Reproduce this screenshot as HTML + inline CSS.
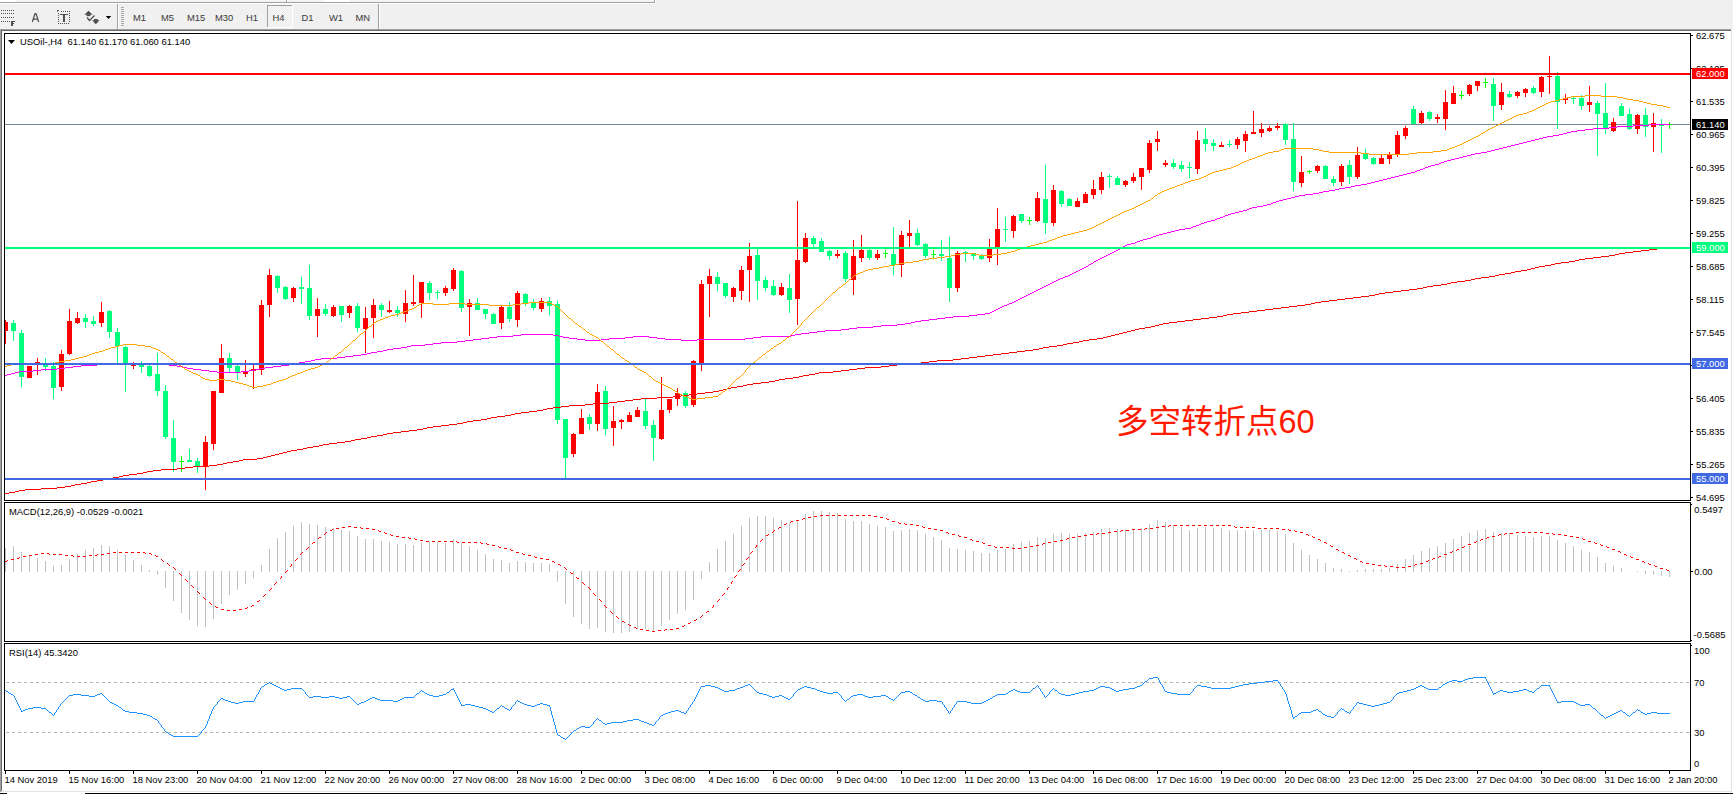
<!DOCTYPE html>
<html><head><meta charset="utf-8"><title>USOil H4</title><style>
html,body{margin:0;padding:0;background:#f0f0f0;width:1733px;height:794px;overflow:hidden}
svg{display:block}
text{font-family:"Liberation Sans",Arial,sans-serif;}
.t9{font-size:9.4px;fill:#000}
.tb{font-size:9.4px;fill:#383838}
.tw{font-size:9.4px;fill:#fff}
</style></head><body>
<svg width="1733" height="794" viewBox="0 0 1733 794" shape-rendering="crispEdges">
<rect x="0" y="0" width="1733" height="794" fill="#f0f0f0"/>
<rect x="0" y="0" width="655" height="2" fill="#f4f4f4"/>
<rect x="0" y="0" width="17" height="2" fill="#ffffff"/>
<rect x="324" y="0" width="26" height="2" fill="#ffffff"/>
<rect x="0" y="2" width="654" height="1" fill="#a0a0a0"/>
<rect x="0" y="3" width="655" height="1" fill="#ffffff"/>
<rect x="654" y="0" width="1" height="3" fill="#a0a0a0"/>
<rect x="655" y="0" width="1" height="4" fill="#ffffff"/>
<rect x="286" y="0" width="1" height="2" fill="#a0a0a0"/>
<rect x="287" y="0" width="1" height="2" fill="#ffffff"/>
<rect x="1" y="10" width="1" height="1" fill="#505050"/>
<rect x="3" y="10" width="1" height="1" fill="#505050"/>
<rect x="5" y="10" width="1" height="1" fill="#505050"/>
<rect x="7" y="10" width="1" height="1" fill="#505050"/>
<rect x="9" y="10" width="1" height="1" fill="#505050"/>
<rect x="11" y="10" width="1" height="1" fill="#505050"/>
<rect x="13" y="10" width="1" height="1" fill="#505050"/>
<rect x="1" y="13" width="1" height="1" fill="#505050"/>
<rect x="3" y="13" width="1" height="1" fill="#505050"/>
<rect x="5" y="13" width="1" height="1" fill="#505050"/>
<rect x="7" y="13" width="1" height="1" fill="#505050"/>
<rect x="9" y="13" width="1" height="1" fill="#505050"/>
<rect x="11" y="13" width="1" height="1" fill="#505050"/>
<rect x="13" y="13" width="1" height="1" fill="#505050"/>
<rect x="1" y="17" width="1" height="1" fill="#505050"/>
<rect x="3" y="17" width="1" height="1" fill="#505050"/>
<rect x="5" y="17" width="1" height="1" fill="#505050"/>
<rect x="7" y="17" width="1" height="1" fill="#505050"/>
<rect x="9" y="17" width="1" height="1" fill="#505050"/>
<rect x="11" y="17" width="1" height="1" fill="#505050"/>
<rect x="13" y="17" width="1" height="1" fill="#505050"/>
<rect x="1" y="21" width="1" height="1" fill="#505050"/>
<rect x="3" y="21" width="1" height="1" fill="#505050"/>
<rect x="5" y="21" width="1" height="1" fill="#505050"/>
<rect x="7" y="21" width="1" height="1" fill="#505050"/>
<rect x="9" y="21" width="1" height="1" fill="#505050"/>
<rect x="11" y="21" width="2" height="5" fill="#505050"/>
<rect x="13" y="21" width="2" height="1" fill="#505050"/>
<rect x="13" y="23" width="1" height="1" fill="#505050"/>
<path d="M32.3 22 L35 13.6 L36 13.6 L38.7 22 M33.6 19 L37.4 19" fill="none" stroke="#505050" stroke-width="1.25" shape-rendering="auto"/>
<rect x="57" y="10" width="2" height="1" fill="#606060"/>
<rect x="57" y="11" width="1" height="1" fill="#808080"/>
<rect x="61" y="11" width="1" height="1" fill="#505050"/>
<rect x="63" y="11" width="1" height="1" fill="#505050"/>
<rect x="65" y="11" width="1" height="1" fill="#505050"/>
<rect x="67" y="11" width="1" height="1" fill="#505050"/>
<rect x="69" y="11" width="1" height="1" fill="#505050"/>
<rect x="58" y="23" width="1" height="1" fill="#505050"/>
<rect x="60" y="23" width="1" height="1" fill="#505050"/>
<rect x="62" y="23" width="1" height="1" fill="#505050"/>
<rect x="64" y="23" width="1" height="1" fill="#505050"/>
<rect x="66" y="23" width="1" height="1" fill="#505050"/>
<rect x="68" y="23" width="1" height="1" fill="#505050"/>
<rect x="58" y="13" width="1" height="1" fill="#505050"/>
<rect x="69" y="11" width="1" height="1" fill="#505050"/>
<rect x="58" y="15" width="1" height="1" fill="#505050"/>
<rect x="69" y="13" width="1" height="1" fill="#505050"/>
<rect x="58" y="17" width="1" height="1" fill="#505050"/>
<rect x="69" y="15" width="1" height="1" fill="#505050"/>
<rect x="58" y="19" width="1" height="1" fill="#505050"/>
<rect x="69" y="17" width="1" height="1" fill="#505050"/>
<rect x="58" y="21" width="1" height="1" fill="#505050"/>
<rect x="69" y="19" width="1" height="1" fill="#505050"/>
<rect x="58" y="23" width="1" height="1" fill="#505050"/>
<rect x="69" y="21" width="1" height="1" fill="#505050"/>
<rect x="60" y="14" width="8" height="1" fill="#505050"/>
<rect x="63" y="14" width="2" height="8" fill="#505050"/>
<g shape-rendering="auto" fill="#4a4a4a">
<path d="M88.5 10.8 L92.6 14.8 L84.4 14.8 Z"/><rect x="86.6" y="14.5" width="3.8" height="1.6"/>
<path d="M92 20.3 L99.6 20.3 L95.8 24.2 Z"/><rect x="94" y="19" width="3.8" height="1.6"/>
<path d="M87 17.5 L89.5 20.5 L94.5 15.5" fill="none" stroke="#4a4a4a" stroke-width="1.2"/>
</g>
<path d="M105.8 16 L111.2 16 L108.5 19 Z" fill="#000" shape-rendering="auto"/>
<rect x="117" y="4" width="1" height="25" fill="#a0a0a0"/>
<rect x="118" y="4" width="1" height="25" fill="#ffffff"/>
<rect x="121" y="7" width="3" height="1" fill="#a8a8a8"/>
<rect x="121" y="9" width="3" height="1" fill="#a8a8a8"/>
<rect x="121" y="11" width="3" height="1" fill="#a8a8a8"/>
<rect x="121" y="13" width="3" height="1" fill="#a8a8a8"/>
<rect x="121" y="15" width="3" height="1" fill="#a8a8a8"/>
<rect x="121" y="17" width="3" height="1" fill="#a8a8a8"/>
<rect x="121" y="19" width="3" height="1" fill="#a8a8a8"/>
<rect x="121" y="21" width="3" height="1" fill="#a8a8a8"/>
<rect x="121" y="23" width="3" height="1" fill="#a8a8a8"/>
<rect x="121" y="25" width="3" height="1" fill="#a8a8a8"/>
<rect x="267" y="5" width="25" height="22" fill="#f8f8f8"/>
<pattern id="chk" width="2" height="2" patternUnits="userSpaceOnUse"><rect width="2" height="2" fill="#fbfbfb"/><rect width="1" height="1" fill="#e8e8e8"/><rect x="1" y="1" width="1" height="1" fill="#e8e8e8"/></pattern>
<rect x="268" y="6" width="24" height="21" fill="url(#chk)"/>
<rect x="267" y="5" width="25" height="1" fill="#a0a0a0"/>
<rect x="267" y="5" width="1" height="22" fill="#a0a0a0"/>
<rect x="267" y="27" width="25" height="1" fill="#ffffff"/>
<rect x="292" y="5" width="1" height="23" fill="#ffffff"/>
<text class="tb" transform="matrix(1 0 0 1.04 133 21.1)">M1</text>
<text class="tb" transform="matrix(1 0 0 1.04 161 21.1)">M5</text>
<text class="tb" transform="matrix(1 0 0 1.04 187 21.1)">M15</text>
<text class="tb" transform="matrix(1 0 0 1.04 215 21.1)">M30</text>
<text class="tb" transform="matrix(1 0 0 1.04 246 21.1)">H1</text>
<text class="tb" transform="matrix(1 0 0 1.04 272.5 21.1)">H4</text>
<text class="tb" transform="matrix(1 0 0 1.04 301.5 21.1)">D1</text>
<text class="tb" transform="matrix(1 0 0 1.04 329 21.1)">W1</text>
<text class="tb" transform="matrix(1 0 0 1.04 355.5 21.1)">MN</text>
<rect x="378" y="4" width="1" height="25" fill="#a0a0a0"/>
<rect x="379" y="4" width="1" height="25" fill="#ffffff"/>
<rect x="0" y="29" width="1732" height="1" fill="#a0a0a0"/>
<rect x="1" y="30" width="1730" height="1" fill="#696969"/>
<rect x="0" y="29" width="1" height="763" fill="#a0a0a0"/>
<rect x="1" y="30" width="1" height="761" fill="#696969"/>
<rect x="2" y="31" width="1729" height="760" fill="#ffffff"/>
<rect x="1731" y="29" width="1" height="763" fill="#e3e3e3"/>
<rect x="1732" y="29" width="1" height="764" fill="#ffffff"/>
<rect x="1" y="791" width="1731" height="1" fill="#e3e3e3"/>
<rect x="0" y="792" width="1733" height="1" fill="#ffffff"/>
<rect x="0" y="793" width="1733" height="1" fill="#000000"/>
<rect x="7" y="793" width="78" height="1" fill="#ffffff"/>
<rect x="4" y="33" width="1687" height="1" fill="#000"/>
<rect x="4" y="500" width="1687" height="1" fill="#000"/>
<rect x="4" y="33" width="1" height="468" fill="#000"/>
<rect x="1690" y="33" width="1" height="468" fill="#000"/>
<rect x="4" y="502" width="1687" height="1" fill="#000"/>
<rect x="4" y="641" width="1687" height="1" fill="#000"/>
<rect x="4" y="502" width="1" height="140" fill="#000"/>
<rect x="1690" y="502" width="1" height="140" fill="#000"/>
<rect x="4" y="643" width="1687" height="1" fill="#000"/>
<rect x="4" y="770" width="1687" height="1" fill="#000"/>
<rect x="4" y="643" width="1" height="128" fill="#000"/>
<rect x="1690" y="643" width="1" height="128" fill="#000"/>
<defs><clipPath id="cm"><rect x="5" y="34" width="1685" height="466"/></clipPath>
<clipPath id="cmacd"><rect x="5" y="503" width="1685" height="138"/></clipPath>
<clipPath id="crsi"><rect x="5" y="644" width="1685" height="126"/></clipPath></defs>
<g clip-path="url(#cm)">
<rect x="5" y="124" width="1685" height="1" fill="#778899"/>
<rect x="5" y="320" width="1" height="24" fill="#ff0000"/>
<rect x="3" y="322" width="5" height="9" fill="#ff0000"/>
<rect x="13" y="320" width="1" height="21" fill="#00ff7f"/>
<rect x="11" y="323" width="5" height="8" fill="#00ff7f"/>
<rect x="21" y="330" width="1" height="57" fill="#00ff7f"/>
<rect x="19" y="333" width="5" height="44" fill="#00ff7f"/>
<rect x="29" y="366" width="1" height="12" fill="#ff0000"/>
<rect x="27" y="366" width="5" height="12" fill="#ff0000"/>
<rect x="37" y="358" width="1" height="17" fill="#ff0000"/>
<rect x="35" y="362" width="5" height="3" fill="#ff0000"/>
<rect x="45" y="358" width="1" height="13" fill="#00ff7f"/>
<rect x="43" y="364" width="5" height="3" fill="#00ff7f"/>
<rect x="53" y="362" width="1" height="37" fill="#00ff7f"/>
<rect x="51" y="366" width="5" height="22" fill="#00ff7f"/>
<rect x="61" y="350" width="1" height="41" fill="#ff0000"/>
<rect x="59" y="354" width="5" height="33" fill="#ff0000"/>
<rect x="69" y="309" width="1" height="46" fill="#ff0000"/>
<rect x="67" y="321" width="5" height="33" fill="#ff0000"/>
<rect x="77" y="312" width="1" height="12" fill="#ff0000"/>
<rect x="75" y="318" width="5" height="5" fill="#ff0000"/>
<rect x="85" y="314" width="1" height="14" fill="#00ff7f"/>
<rect x="83" y="318" width="5" height="4" fill="#00ff7f"/>
<rect x="93" y="316" width="1" height="10" fill="#00ff7f"/>
<rect x="91" y="321" width="5" height="3" fill="#00ff7f"/>
<rect x="101" y="302" width="1" height="25" fill="#ff0000"/>
<rect x="99" y="312" width="5" height="11" fill="#ff0000"/>
<rect x="109" y="310" width="1" height="28" fill="#00ff7f"/>
<rect x="107" y="311" width="5" height="21" fill="#00ff7f"/>
<rect x="117" y="328" width="1" height="35" fill="#00ff7f"/>
<rect x="115" y="332" width="5" height="14" fill="#00ff7f"/>
<rect x="125" y="346" width="1" height="46" fill="#00ff7f"/>
<rect x="123" y="347" width="5" height="17" fill="#00ff7f"/>
<rect x="133" y="362" width="1" height="7" fill="#ff0000"/>
<rect x="131" y="364" width="5" height="2" fill="#ff0000"/>
<rect x="141" y="361" width="1" height="12" fill="#00ff7f"/>
<rect x="139" y="364" width="5" height="3" fill="#00ff7f"/>
<rect x="149" y="365" width="1" height="12" fill="#00ff7f"/>
<rect x="147" y="366" width="5" height="10" fill="#00ff7f"/>
<rect x="157" y="353" width="1" height="43" fill="#00ff7f"/>
<rect x="155" y="374" width="5" height="17" fill="#00ff7f"/>
<rect x="165" y="385" width="1" height="54" fill="#00ff7f"/>
<rect x="163" y="391" width="5" height="46" fill="#00ff7f"/>
<rect x="173" y="420" width="1" height="52" fill="#00ff7f"/>
<rect x="171" y="438" width="5" height="24" fill="#00ff7f"/>
<rect x="181" y="456" width="1" height="16" fill="#00ff00"/>
<rect x="179" y="461" width="5" height="1" fill="#00ff00"/>
<rect x="189" y="449" width="1" height="13" fill="#00ff7f"/>
<rect x="187" y="460" width="5" height="2" fill="#00ff7f"/>
<rect x="197" y="458" width="1" height="15" fill="#00ff7f"/>
<rect x="195" y="461" width="5" height="5" fill="#00ff7f"/>
<rect x="205" y="436" width="1" height="54" fill="#ff0000"/>
<rect x="203" y="442" width="5" height="24" fill="#ff0000"/>
<rect x="213" y="391" width="1" height="59" fill="#ff0000"/>
<rect x="211" y="391" width="5" height="53" fill="#ff0000"/>
<rect x="221" y="344" width="1" height="49" fill="#ff0000"/>
<rect x="219" y="358" width="5" height="35" fill="#ff0000"/>
<rect x="229" y="353" width="1" height="20" fill="#00ff7f"/>
<rect x="227" y="358" width="5" height="10" fill="#00ff7f"/>
<rect x="237" y="364" width="1" height="16" fill="#00ff7f"/>
<rect x="235" y="366" width="5" height="7" fill="#00ff7f"/>
<rect x="245" y="360" width="1" height="17" fill="#ff0000"/>
<rect x="243" y="371" width="5" height="3" fill="#ff0000"/>
<rect x="253" y="365" width="1" height="24" fill="#ff0000"/>
<rect x="251" y="369" width="5" height="2" fill="#ff0000"/>
<rect x="261" y="300" width="1" height="75" fill="#ff0000"/>
<rect x="259" y="305" width="5" height="65" fill="#ff0000"/>
<rect x="269" y="269" width="1" height="48" fill="#ff0000"/>
<rect x="267" y="275" width="5" height="30" fill="#ff0000"/>
<rect x="277" y="275" width="1" height="18" fill="#00ff7f"/>
<rect x="275" y="276" width="5" height="12" fill="#00ff7f"/>
<rect x="285" y="286" width="1" height="14" fill="#00ff7f"/>
<rect x="283" y="287" width="5" height="12" fill="#00ff7f"/>
<rect x="293" y="287" width="1" height="15" fill="#ff0000"/>
<rect x="291" y="288" width="5" height="10" fill="#ff0000"/>
<rect x="301" y="277" width="1" height="27" fill="#00ff7f"/>
<rect x="299" y="287" width="5" height="2" fill="#00ff7f"/>
<rect x="309" y="265" width="1" height="55" fill="#00ff7f"/>
<rect x="307" y="288" width="5" height="28" fill="#00ff7f"/>
<rect x="317" y="298" width="1" height="39" fill="#ff0000"/>
<rect x="315" y="309" width="5" height="7" fill="#ff0000"/>
<rect x="325" y="304" width="1" height="12" fill="#00ff7f"/>
<rect x="323" y="309" width="5" height="5" fill="#00ff7f"/>
<rect x="333" y="305" width="1" height="12" fill="#ff0000"/>
<rect x="331" y="307" width="5" height="9" fill="#ff0000"/>
<rect x="341" y="306" width="1" height="16" fill="#00ff7f"/>
<rect x="339" y="306" width="5" height="9" fill="#00ff7f"/>
<rect x="349" y="305" width="1" height="13" fill="#ff0000"/>
<rect x="347" y="306" width="5" height="7" fill="#ff0000"/>
<rect x="357" y="303" width="1" height="29" fill="#00ff7f"/>
<rect x="355" y="306" width="5" height="22" fill="#00ff7f"/>
<rect x="365" y="307" width="1" height="46" fill="#ff0000"/>
<rect x="363" y="318" width="5" height="11" fill="#ff0000"/>
<rect x="373" y="299" width="1" height="39" fill="#ff0000"/>
<rect x="371" y="305" width="5" height="13" fill="#ff0000"/>
<rect x="381" y="303" width="1" height="14" fill="#00ff7f"/>
<rect x="379" y="305" width="5" height="5" fill="#00ff7f"/>
<rect x="389" y="301" width="1" height="12" fill="#ff0000"/>
<rect x="387" y="310" width="5" height="2" fill="#ff0000"/>
<rect x="397" y="306" width="1" height="11" fill="#00ff7f"/>
<rect x="395" y="310" width="5" height="3" fill="#00ff7f"/>
<rect x="405" y="290" width="1" height="32" fill="#ff0000"/>
<rect x="403" y="303" width="5" height="11" fill="#ff0000"/>
<rect x="413" y="275" width="1" height="31" fill="#ff0000"/>
<rect x="411" y="302" width="5" height="2" fill="#ff0000"/>
<rect x="421" y="282" width="1" height="36" fill="#ff0000"/>
<rect x="419" y="282" width="5" height="21" fill="#ff0000"/>
<rect x="429" y="281" width="1" height="19" fill="#00ff7f"/>
<rect x="427" y="283" width="5" height="10" fill="#00ff7f"/>
<rect x="437" y="290" width="1" height="9" fill="#00ff7f"/>
<rect x="435" y="292" width="5" height="1" fill="#00ff7f"/>
<rect x="445" y="286" width="1" height="10" fill="#ff0000"/>
<rect x="443" y="288" width="5" height="5" fill="#ff0000"/>
<rect x="453" y="268" width="1" height="23" fill="#ff0000"/>
<rect x="451" y="270" width="5" height="19" fill="#ff0000"/>
<rect x="461" y="270" width="1" height="42" fill="#00ff7f"/>
<rect x="459" y="271" width="5" height="37" fill="#00ff7f"/>
<rect x="469" y="299" width="1" height="37" fill="#ff0000"/>
<rect x="467" y="303" width="5" height="4" fill="#ff0000"/>
<rect x="477" y="298" width="1" height="12" fill="#00ff7f"/>
<rect x="475" y="303" width="5" height="7" fill="#00ff7f"/>
<rect x="485" y="309" width="1" height="10" fill="#00ff7f"/>
<rect x="483" y="309" width="5" height="5" fill="#00ff7f"/>
<rect x="493" y="313" width="1" height="11" fill="#00ff7f"/>
<rect x="491" y="314" width="5" height="10" fill="#00ff7f"/>
<rect x="501" y="306" width="1" height="23" fill="#ff0000"/>
<rect x="499" y="307" width="5" height="16" fill="#ff0000"/>
<rect x="509" y="302" width="1" height="20" fill="#00ff7f"/>
<rect x="507" y="307" width="5" height="12" fill="#00ff7f"/>
<rect x="517" y="291" width="1" height="36" fill="#ff0000"/>
<rect x="515" y="293" width="5" height="27" fill="#ff0000"/>
<rect x="525" y="293" width="1" height="13" fill="#00ff7f"/>
<rect x="523" y="294" width="5" height="9" fill="#00ff7f"/>
<rect x="533" y="299" width="1" height="11" fill="#00ff7f"/>
<rect x="531" y="302" width="5" height="6" fill="#00ff7f"/>
<rect x="541" y="298" width="1" height="14" fill="#ff0000"/>
<rect x="539" y="301" width="5" height="8" fill="#ff0000"/>
<rect x="549" y="297" width="1" height="18" fill="#00ff7f"/>
<rect x="547" y="301" width="5" height="5" fill="#00ff7f"/>
<rect x="557" y="301" width="1" height="123" fill="#00ff7f"/>
<rect x="555" y="304" width="5" height="116" fill="#00ff7f"/>
<rect x="565" y="419" width="1" height="59" fill="#00ff7f"/>
<rect x="563" y="419" width="5" height="39" fill="#00ff7f"/>
<rect x="573" y="433" width="1" height="24" fill="#ff0000"/>
<rect x="571" y="434" width="5" height="20" fill="#ff0000"/>
<rect x="581" y="409" width="1" height="25" fill="#ff0000"/>
<rect x="579" y="418" width="5" height="16" fill="#ff0000"/>
<rect x="589" y="414" width="1" height="16" fill="#00ff7f"/>
<rect x="587" y="417" width="5" height="7" fill="#00ff7f"/>
<rect x="597" y="384" width="1" height="47" fill="#ff0000"/>
<rect x="595" y="392" width="5" height="32" fill="#ff0000"/>
<rect x="605" y="386" width="1" height="49" fill="#00ff7f"/>
<rect x="603" y="391" width="5" height="38" fill="#00ff7f"/>
<rect x="613" y="406" width="1" height="40" fill="#ff0000"/>
<rect x="611" y="421" width="5" height="7" fill="#ff0000"/>
<rect x="621" y="419" width="1" height="10" fill="#ff0000"/>
<rect x="619" y="420" width="5" height="2" fill="#ff0000"/>
<rect x="629" y="412" width="1" height="10" fill="#ff0000"/>
<rect x="627" y="415" width="5" height="7" fill="#ff0000"/>
<rect x="637" y="407" width="1" height="10" fill="#ff0000"/>
<rect x="635" y="410" width="5" height="7" fill="#ff0000"/>
<rect x="645" y="398" width="1" height="31" fill="#00ff7f"/>
<rect x="643" y="411" width="5" height="15" fill="#00ff7f"/>
<rect x="653" y="420" width="1" height="41" fill="#00ff7f"/>
<rect x="651" y="425" width="5" height="13" fill="#00ff7f"/>
<rect x="661" y="377" width="1" height="63" fill="#ff0000"/>
<rect x="659" y="410" width="5" height="29" fill="#ff0000"/>
<rect x="669" y="399" width="1" height="14" fill="#ff0000"/>
<rect x="667" y="399" width="5" height="11" fill="#ff0000"/>
<rect x="677" y="388" width="1" height="18" fill="#ff0000"/>
<rect x="675" y="393" width="5" height="6" fill="#ff0000"/>
<rect x="685" y="391" width="1" height="17" fill="#00ff7f"/>
<rect x="683" y="393" width="5" height="13" fill="#00ff7f"/>
<rect x="693" y="360" width="1" height="47" fill="#ff0000"/>
<rect x="691" y="361" width="5" height="44" fill="#ff0000"/>
<rect x="701" y="280" width="1" height="91" fill="#ff0000"/>
<rect x="699" y="284" width="5" height="79" fill="#ff0000"/>
<rect x="709" y="269" width="1" height="48" fill="#ff0000"/>
<rect x="707" y="276" width="5" height="8" fill="#ff0000"/>
<rect x="717" y="272" width="1" height="19" fill="#00ff7f"/>
<rect x="715" y="277" width="5" height="7" fill="#00ff7f"/>
<rect x="725" y="283" width="1" height="15" fill="#00ff7f"/>
<rect x="723" y="283" width="5" height="13" fill="#00ff7f"/>
<rect x="733" y="287" width="1" height="15" fill="#ff0000"/>
<rect x="731" y="288" width="5" height="9" fill="#ff0000"/>
<rect x="741" y="266" width="1" height="34" fill="#ff0000"/>
<rect x="739" y="270" width="5" height="21" fill="#ff0000"/>
<rect x="749" y="243" width="1" height="59" fill="#ff0000"/>
<rect x="747" y="256" width="5" height="14" fill="#ff0000"/>
<rect x="757" y="249" width="1" height="51" fill="#00ff7f"/>
<rect x="755" y="255" width="5" height="26" fill="#00ff7f"/>
<rect x="765" y="277" width="1" height="14" fill="#00ff7f"/>
<rect x="763" y="280" width="5" height="8" fill="#00ff7f"/>
<rect x="773" y="280" width="1" height="16" fill="#00ff7f"/>
<rect x="771" y="286" width="5" height="9" fill="#00ff7f"/>
<rect x="781" y="283" width="1" height="13" fill="#ff0000"/>
<rect x="779" y="287" width="5" height="8" fill="#ff0000"/>
<rect x="789" y="274" width="1" height="39" fill="#00ff7f"/>
<rect x="787" y="288" width="5" height="12" fill="#00ff7f"/>
<rect x="797" y="201" width="1" height="124" fill="#ff0000"/>
<rect x="795" y="260" width="5" height="39" fill="#ff0000"/>
<rect x="805" y="233" width="1" height="30" fill="#ff0000"/>
<rect x="803" y="238" width="5" height="24" fill="#ff0000"/>
<rect x="813" y="236" width="1" height="13" fill="#00ff7f"/>
<rect x="811" y="238" width="5" height="6" fill="#00ff7f"/>
<rect x="821" y="238" width="1" height="14" fill="#00ff7f"/>
<rect x="819" y="241" width="5" height="11" fill="#00ff7f"/>
<rect x="829" y="250" width="1" height="10" fill="#00ff7f"/>
<rect x="827" y="251" width="5" height="5" fill="#00ff7f"/>
<rect x="837" y="250" width="1" height="8" fill="#ff0000"/>
<rect x="835" y="254" width="5" height="2" fill="#ff0000"/>
<rect x="845" y="251" width="1" height="31" fill="#00ff7f"/>
<rect x="843" y="253" width="5" height="26" fill="#00ff7f"/>
<rect x="853" y="240" width="1" height="55" fill="#ff0000"/>
<rect x="851" y="256" width="5" height="24" fill="#ff0000"/>
<rect x="861" y="235" width="1" height="27" fill="#ff0000"/>
<rect x="859" y="250" width="5" height="8" fill="#ff0000"/>
<rect x="869" y="249" width="1" height="11" fill="#00ff7f"/>
<rect x="867" y="250" width="5" height="8" fill="#00ff7f"/>
<rect x="877" y="250" width="1" height="10" fill="#ff0000"/>
<rect x="875" y="254" width="5" height="4" fill="#ff0000"/>
<rect x="885" y="250" width="1" height="8" fill="#00ff00"/>
<rect x="883" y="253" width="5" height="1" fill="#00ff00"/>
<rect x="893" y="227" width="1" height="48" fill="#00ff7f"/>
<rect x="891" y="254" width="5" height="11" fill="#00ff7f"/>
<rect x="901" y="231" width="1" height="46" fill="#ff0000"/>
<rect x="899" y="235" width="5" height="30" fill="#ff0000"/>
<rect x="909" y="220" width="1" height="27" fill="#ff0000"/>
<rect x="907" y="233" width="5" height="3" fill="#ff0000"/>
<rect x="917" y="229" width="1" height="17" fill="#00ff7f"/>
<rect x="915" y="233" width="5" height="12" fill="#00ff7f"/>
<rect x="925" y="243" width="1" height="15" fill="#00ff7f"/>
<rect x="923" y="244" width="5" height="12" fill="#00ff7f"/>
<rect x="933" y="250" width="1" height="8" fill="#00ff00"/>
<rect x="931" y="254" width="5" height="1" fill="#00ff00"/>
<rect x="941" y="240" width="1" height="21" fill="#00ff7f"/>
<rect x="939" y="254" width="5" height="2" fill="#00ff7f"/>
<rect x="949" y="237" width="1" height="65" fill="#00ff7f"/>
<rect x="947" y="258" width="5" height="30" fill="#00ff7f"/>
<rect x="957" y="251" width="1" height="41" fill="#ff0000"/>
<rect x="955" y="253" width="5" height="35" fill="#ff0000"/>
<rect x="965" y="251" width="1" height="11" fill="#00ff7f"/>
<rect x="963" y="252" width="5" height="1" fill="#00ff7f"/>
<rect x="973" y="253" width="1" height="7" fill="#00ff7f"/>
<rect x="971" y="253" width="5" height="3" fill="#00ff7f"/>
<rect x="981" y="254" width="1" height="6" fill="#00ff7f"/>
<rect x="979" y="256" width="5" height="3" fill="#00ff7f"/>
<rect x="989" y="239" width="1" height="23" fill="#ff0000"/>
<rect x="987" y="249" width="5" height="9" fill="#ff0000"/>
<rect x="997" y="208" width="1" height="57" fill="#ff0000"/>
<rect x="995" y="229" width="5" height="18" fill="#ff0000"/>
<rect x="1005" y="217" width="1" height="25" fill="#00ff7f"/>
<rect x="1003" y="229" width="5" height="1" fill="#00ff7f"/>
<rect x="1013" y="215" width="1" height="23" fill="#ff0000"/>
<rect x="1011" y="216" width="5" height="15" fill="#ff0000"/>
<rect x="1021" y="214" width="1" height="9" fill="#00ff7f"/>
<rect x="1019" y="214" width="5" height="7" fill="#00ff7f"/>
<rect x="1029" y="217" width="1" height="8" fill="#00ff00"/>
<rect x="1027" y="220" width="5" height="1" fill="#00ff00"/>
<rect x="1037" y="192" width="1" height="30" fill="#ff0000"/>
<rect x="1035" y="198" width="5" height="23" fill="#ff0000"/>
<rect x="1045" y="165" width="1" height="69" fill="#00ff7f"/>
<rect x="1043" y="199" width="5" height="24" fill="#00ff7f"/>
<rect x="1053" y="185" width="1" height="41" fill="#ff0000"/>
<rect x="1051" y="190" width="5" height="33" fill="#ff0000"/>
<rect x="1061" y="190" width="1" height="17" fill="#00ff7f"/>
<rect x="1059" y="191" width="5" height="13" fill="#00ff7f"/>
<rect x="1069" y="198" width="1" height="8" fill="#00ff7f"/>
<rect x="1067" y="199" width="5" height="7" fill="#00ff7f"/>
<rect x="1077" y="198" width="1" height="9" fill="#ff0000"/>
<rect x="1075" y="201" width="5" height="6" fill="#ff0000"/>
<rect x="1085" y="192" width="1" height="11" fill="#ff0000"/>
<rect x="1083" y="194" width="5" height="9" fill="#ff0000"/>
<rect x="1093" y="180" width="1" height="19" fill="#ff0000"/>
<rect x="1091" y="189" width="5" height="6" fill="#ff0000"/>
<rect x="1101" y="172" width="1" height="22" fill="#ff0000"/>
<rect x="1099" y="177" width="5" height="13" fill="#ff0000"/>
<rect x="1109" y="174" width="1" height="14" fill="#00ff7f"/>
<rect x="1107" y="176" width="5" height="1" fill="#00ff7f"/>
<rect x="1117" y="176" width="1" height="9" fill="#00ff7f"/>
<rect x="1115" y="178" width="5" height="7" fill="#00ff7f"/>
<rect x="1125" y="180" width="1" height="7" fill="#ff0000"/>
<rect x="1123" y="181" width="5" height="4" fill="#ff0000"/>
<rect x="1133" y="173" width="1" height="10" fill="#ff0000"/>
<rect x="1131" y="177" width="5" height="4" fill="#ff0000"/>
<rect x="1141" y="168" width="1" height="22" fill="#ff0000"/>
<rect x="1139" y="168" width="5" height="9" fill="#ff0000"/>
<rect x="1149" y="140" width="1" height="33" fill="#ff0000"/>
<rect x="1147" y="143" width="5" height="27" fill="#ff0000"/>
<rect x="1157" y="131" width="1" height="20" fill="#ff0000"/>
<rect x="1155" y="139" width="5" height="3" fill="#ff0000"/>
<rect x="1165" y="160" width="1" height="7" fill="#ff0000"/>
<rect x="1163" y="163" width="5" height="2" fill="#ff0000"/>
<rect x="1173" y="159" width="1" height="10" fill="#00ff7f"/>
<rect x="1171" y="163" width="5" height="4" fill="#00ff7f"/>
<rect x="1181" y="161" width="1" height="11" fill="#00ff7f"/>
<rect x="1179" y="165" width="5" height="4" fill="#00ff7f"/>
<rect x="1189" y="162" width="1" height="16" fill="#00ff7f"/>
<rect x="1187" y="167" width="5" height="1" fill="#00ff7f"/>
<rect x="1197" y="131" width="1" height="43" fill="#ff0000"/>
<rect x="1195" y="140" width="5" height="29" fill="#ff0000"/>
<rect x="1205" y="128" width="1" height="23" fill="#00ff7f"/>
<rect x="1203" y="139" width="5" height="5" fill="#00ff7f"/>
<rect x="1213" y="139" width="1" height="12" fill="#00ff7f"/>
<rect x="1211" y="143" width="5" height="3" fill="#00ff7f"/>
<rect x="1221" y="142" width="1" height="5" fill="#ff0000"/>
<rect x="1219" y="145" width="5" height="2" fill="#ff0000"/>
<rect x="1229" y="140" width="1" height="7" fill="#00ff7f"/>
<rect x="1227" y="144" width="5" height="1" fill="#00ff7f"/>
<rect x="1237" y="137" width="1" height="12" fill="#ff0000"/>
<rect x="1235" y="139" width="5" height="6" fill="#ff0000"/>
<rect x="1245" y="131" width="1" height="21" fill="#ff0000"/>
<rect x="1243" y="134" width="5" height="7" fill="#ff0000"/>
<rect x="1253" y="111" width="1" height="23" fill="#ff0000"/>
<rect x="1251" y="132" width="5" height="2" fill="#ff0000"/>
<rect x="1261" y="123" width="1" height="14" fill="#ff0000"/>
<rect x="1259" y="129" width="5" height="4" fill="#ff0000"/>
<rect x="1269" y="126" width="1" height="6" fill="#ff0000"/>
<rect x="1267" y="128" width="5" height="3" fill="#ff0000"/>
<rect x="1277" y="123" width="1" height="7" fill="#ff0000"/>
<rect x="1275" y="126" width="5" height="2" fill="#ff0000"/>
<rect x="1285" y="123" width="1" height="22" fill="#00ff7f"/>
<rect x="1283" y="124" width="5" height="16" fill="#00ff7f"/>
<rect x="1293" y="123" width="1" height="68" fill="#00ff7f"/>
<rect x="1291" y="139" width="5" height="43" fill="#00ff7f"/>
<rect x="1301" y="156" width="1" height="31" fill="#ff0000"/>
<rect x="1299" y="172" width="5" height="11" fill="#ff0000"/>
<rect x="1309" y="170" width="1" height="4" fill="#00ff00"/>
<rect x="1307" y="171" width="5" height="1" fill="#00ff00"/>
<rect x="1317" y="165" width="1" height="8" fill="#ff0000"/>
<rect x="1315" y="166" width="5" height="5" fill="#ff0000"/>
<rect x="1325" y="165" width="1" height="14" fill="#00ff7f"/>
<rect x="1323" y="166" width="5" height="13" fill="#00ff7f"/>
<rect x="1333" y="176" width="1" height="10" fill="#00ff7f"/>
<rect x="1331" y="179" width="5" height="4" fill="#00ff7f"/>
<rect x="1341" y="164" width="1" height="22" fill="#ff0000"/>
<rect x="1339" y="166" width="5" height="16" fill="#ff0000"/>
<rect x="1349" y="160" width="1" height="24" fill="#00ff7f"/>
<rect x="1347" y="165" width="5" height="12" fill="#00ff7f"/>
<rect x="1357" y="147" width="1" height="32" fill="#ff0000"/>
<rect x="1355" y="155" width="5" height="22" fill="#ff0000"/>
<rect x="1365" y="149" width="1" height="11" fill="#00ff7f"/>
<rect x="1363" y="153" width="5" height="6" fill="#00ff7f"/>
<rect x="1373" y="157" width="1" height="8" fill="#00ff7f"/>
<rect x="1371" y="158" width="5" height="6" fill="#00ff7f"/>
<rect x="1381" y="155" width="1" height="9" fill="#ff0000"/>
<rect x="1379" y="158" width="5" height="6" fill="#ff0000"/>
<rect x="1389" y="152" width="1" height="12" fill="#ff0000"/>
<rect x="1387" y="154" width="5" height="5" fill="#ff0000"/>
<rect x="1397" y="131" width="1" height="26" fill="#ff0000"/>
<rect x="1395" y="135" width="5" height="19" fill="#ff0000"/>
<rect x="1405" y="126" width="1" height="13" fill="#ff0000"/>
<rect x="1403" y="128" width="5" height="8" fill="#ff0000"/>
<rect x="1413" y="106" width="1" height="18" fill="#00ff7f"/>
<rect x="1411" y="109" width="5" height="15" fill="#00ff7f"/>
<rect x="1421" y="111" width="1" height="13" fill="#ff0000"/>
<rect x="1419" y="113" width="5" height="10" fill="#ff0000"/>
<rect x="1429" y="111" width="1" height="10" fill="#00ff7f"/>
<rect x="1427" y="112" width="5" height="7" fill="#00ff7f"/>
<rect x="1437" y="114" width="1" height="9" fill="#ff0000"/>
<rect x="1435" y="117" width="5" height="2" fill="#ff0000"/>
<rect x="1445" y="90" width="1" height="40" fill="#ff0000"/>
<rect x="1443" y="102" width="5" height="17" fill="#ff0000"/>
<rect x="1453" y="86" width="1" height="18" fill="#ff0000"/>
<rect x="1451" y="93" width="5" height="11" fill="#ff0000"/>
<rect x="1461" y="91" width="1" height="8" fill="#00ff00"/>
<rect x="1459" y="95" width="5" height="1" fill="#00ff00"/>
<rect x="1469" y="84" width="1" height="12" fill="#ff0000"/>
<rect x="1467" y="85" width="5" height="9" fill="#ff0000"/>
<rect x="1477" y="81" width="1" height="10" fill="#ff0000"/>
<rect x="1475" y="81" width="5" height="5" fill="#ff0000"/>
<rect x="1485" y="78" width="1" height="10" fill="#00ff00"/>
<rect x="1483" y="82" width="5" height="1" fill="#00ff00"/>
<rect x="1493" y="78" width="1" height="43" fill="#00ff7f"/>
<rect x="1491" y="84" width="5" height="22" fill="#00ff7f"/>
<rect x="1501" y="83" width="1" height="27" fill="#ff0000"/>
<rect x="1499" y="92" width="5" height="13" fill="#ff0000"/>
<rect x="1509" y="91" width="1" height="7" fill="#00ff7f"/>
<rect x="1507" y="94" width="5" height="3" fill="#00ff7f"/>
<rect x="1517" y="91" width="1" height="7" fill="#ff0000"/>
<rect x="1515" y="92" width="5" height="4" fill="#ff0000"/>
<rect x="1525" y="88" width="1" height="9" fill="#ff0000"/>
<rect x="1523" y="89" width="5" height="4" fill="#ff0000"/>
<rect x="1533" y="86" width="1" height="8" fill="#00ff7f"/>
<rect x="1531" y="88" width="5" height="5" fill="#00ff7f"/>
<rect x="1541" y="76" width="1" height="21" fill="#ff0000"/>
<rect x="1539" y="77" width="5" height="15" fill="#ff0000"/>
<rect x="1549" y="56" width="1" height="38" fill="#ff0000"/>
<rect x="1547" y="76" width="5" height="1" fill="#ff0000"/>
<rect x="1557" y="72" width="1" height="57" fill="#00ff7f"/>
<rect x="1555" y="76" width="5" height="26" fill="#00ff7f"/>
<rect x="1565" y="94" width="1" height="10" fill="#ff0000"/>
<rect x="1563" y="98" width="5" height="2" fill="#ff0000"/>
<rect x="1573" y="97" width="1" height="7" fill="#00ff7f"/>
<rect x="1571" y="98" width="5" height="1" fill="#00ff7f"/>
<rect x="1581" y="95" width="1" height="15" fill="#00ff7f"/>
<rect x="1579" y="98" width="5" height="8" fill="#00ff7f"/>
<rect x="1589" y="86" width="1" height="26" fill="#ff0000"/>
<rect x="1587" y="102" width="5" height="3" fill="#ff0000"/>
<rect x="1597" y="101" width="1" height="55" fill="#00ff7f"/>
<rect x="1595" y="103" width="5" height="11" fill="#00ff7f"/>
<rect x="1605" y="83" width="1" height="51" fill="#00ff7f"/>
<rect x="1603" y="113" width="5" height="16" fill="#00ff7f"/>
<rect x="1613" y="118" width="1" height="14" fill="#ff0000"/>
<rect x="1611" y="122" width="5" height="9" fill="#ff0000"/>
<rect x="1621" y="103" width="1" height="13" fill="#00ff7f"/>
<rect x="1619" y="106" width="5" height="10" fill="#00ff7f"/>
<rect x="1629" y="109" width="1" height="21" fill="#00ff7f"/>
<rect x="1627" y="114" width="5" height="15" fill="#00ff7f"/>
<rect x="1637" y="114" width="1" height="20" fill="#ff0000"/>
<rect x="1635" y="115" width="5" height="14" fill="#ff0000"/>
<rect x="1645" y="108" width="1" height="29" fill="#00ff7f"/>
<rect x="1643" y="115" width="5" height="12" fill="#00ff7f"/>
<rect x="1653" y="113" width="1" height="39" fill="#ff0000"/>
<rect x="1651" y="123" width="5" height="4" fill="#ff0000"/>
<rect x="1661" y="119" width="1" height="34" fill="#00ff7f"/>
<rect x="1659" y="125" width="5" height="1" fill="#00ff7f"/>
<rect x="1669" y="122" width="1" height="7" fill="#00ff00"/>
<rect x="1667" y="124" width="5" height="1" fill="#00ff00"/>
<path d="M1665 247h5v1h-5zM1657 248h8v1h-8zM1649 249h8v1h-8zM1641 250h8v1h-8zM1633 251h8v1h-8zM1625 252h8v1h-8zM1619 253h6v1h-6zM1615 254h4v1h-4zM1609 255h6v1h-6zM1601 256h8v1h-8zM1593 257h8v1h-8zM1585 258h8v1h-8zM1579 259h6v1h-6zM1575 260h4v1h-4zM1569 261h6v1h-6zM1561 262h8v1h-8zM1555 263h6v1h-6zM1551 264h4v1h-4zM1545 265h6v1h-6zM1539 266h6v1h-6zM1535 267h4v1h-4zM1531 268h4v1h-4zM1527 269h4v1h-4zM1521 270h6v1h-6zM1515 271h6v1h-6zM1511 272h4v1h-4zM1505 273h6v1h-6zM1499 274h6v1h-6zM1495 275h4v1h-4zM1489 276h6v1h-6zM1481 277h8v1h-8zM1475 278h6v1h-6zM1471 279h4v1h-4zM1465 280h6v1h-6zM1457 281h8v1h-8zM1451 282h6v1h-6zM1447 283h4v1h-4zM1441 284h6v1h-6zM1433 285h8v1h-8zM1427 286h6v1h-6zM1423 287h4v1h-4zM1417 288h6v1h-6zM1409 289h8v1h-8zM1401 290h8v1h-8zM1393 291h8v1h-8zM1385 292h8v1h-8zM1379 293h6v1h-6zM1375 294h4v1h-4zM1369 295h6v1h-6zM1361 296h8v1h-8zM1353 297h8v1h-8zM1345 298h8v1h-8zM1337 299h8v1h-8zM1329 300h8v1h-8zM1321 301h8v1h-8zM1315 302h6v1h-6zM1311 303h4v1h-4zM1305 304h6v1h-6zM1297 305h8v1h-8zM1289 306h8v1h-8zM1281 307h8v1h-8zM1273 308h8v1h-8zM1265 309h8v1h-8zM1257 310h8v1h-8zM1249 311h8v1h-8zM1241 312h8v1h-8zM1233 313h8v1h-8zM1227 314h6v1h-6zM1223 315h4v1h-4zM1217 316h6v1h-6zM1209 317h8v1h-8zM1201 318h8v1h-8zM1193 319h8v1h-8zM1185 320h8v1h-8zM1177 321h8v1h-8zM1169 322h8v1h-8zM1163 323h6v1h-6zM1159 324h4v1h-4zM1155 325h4v1h-4zM1151 326h4v1h-4zM1145 327h6v1h-6zM1139 328h6v1h-6zM1135 329h4v1h-4zM1131 330h4v1h-4zM1127 331h4v1h-4zM1123 332h4v1h-4zM1119 333h4v1h-4zM1115 334h4v1h-4zM1111 335h4v1h-4zM1107 336h4v1h-4zM1103 337h4v1h-4zM1097 338h6v1h-6zM1089 339h8v1h-8zM1083 340h6v1h-6zM1079 341h4v1h-4zM1073 342h6v1h-6zM1067 343h6v1h-6zM1063 344h4v1h-4zM1057 345h6v1h-6zM1049 346h8v1h-8zM1043 347h6v1h-6zM1039 348h4v1h-4zM1033 349h6v1h-6zM1025 350h8v1h-8zM1017 351h8v1h-8zM1009 352h8v1h-8zM1001 353h8v1h-8zM993 354h8v1h-8zM985 355h8v1h-8zM977 356h8v1h-8zM969 357h8v1h-8zM961 358h8v1h-8zM953 359h8v1h-8zM937 360h16v1h-16zM929 361h8v1h-8zM921 362h8v1h-8zM905 363h16v1h-16zM897 364h8v1h-8zM889 365h8v1h-8zM881 366h8v1h-8zM865 367h16v1h-16zM857 368h8v1h-8zM849 369h8v1h-8zM841 370h8v1h-8zM833 371h8v1h-8zM819 372h14v1h-14zM815 373h4v1h-4zM809 374h6v1h-6zM803 375h6v1h-6zM799 376h4v1h-4zM793 377h6v1h-6zM785 378h8v1h-8zM779 379h6v1h-6zM775 380h4v1h-4zM769 381h6v1h-6zM761 382h8v1h-8zM753 383h8v1h-8zM747 384h6v1h-6zM743 385h4v1h-4zM737 386h6v1h-6zM731 387h6v1h-6zM727 388h4v1h-4zM723 389h4v1h-4zM719 390h4v1h-4zM713 391h6v1h-6zM705 392h8v1h-8zM697 393h8v1h-8zM689 394h8v1h-8zM681 395h8v1h-8zM673 396h8v1h-8zM657 397h16v1h-16zM641 398h16v1h-16zM633 399h8v1h-8zM625 400h8v1h-8zM617 401h8v1h-8zM609 402h8v1h-8zM593 403h16v1h-16zM585 404h8v1h-8zM569 405h16v1h-16zM561 406h8v1h-8zM553 407h8v1h-8zM547 408h6v1h-6zM543 409h4v1h-4zM537 410h6v1h-6zM529 411h8v1h-8zM521 412h8v1h-8zM515 413h6v1h-6zM511 414h4v1h-4zM505 415h6v1h-6zM497 416h8v1h-8zM491 417h6v1h-6zM487 418h4v1h-4zM481 419h6v1h-6zM473 420h8v1h-8zM467 421h6v1h-6zM463 422h4v1h-4zM457 423h6v1h-6zM449 424h8v1h-8zM441 425h8v1h-8zM433 426h8v1h-8zM427 427h6v1h-6zM423 428h4v1h-4zM417 429h6v1h-6zM409 430h8v1h-8zM401 431h8v1h-8zM393 432h8v1h-8zM387 433h6v1h-6zM383 434h4v1h-4zM377 435h6v1h-6zM371 436h6v1h-6zM367 437h4v1h-4zM361 438h6v1h-6zM355 439h6v1h-6zM351 440h4v1h-4zM345 441h6v1h-6zM337 442h8v1h-8zM329 443h8v1h-8zM323 444h6v1h-6zM319 445h4v1h-4zM313 446h6v1h-6zM307 447h6v1h-6zM303 448h4v1h-4zM297 449h6v1h-6zM291 450h6v1h-6zM287 451h4v1h-4zM283 452h4v1h-4zM279 453h4v1h-4zM275 454h4v1h-4zM271 455h4v1h-4zM267 456h4v1h-4zM263 457h4v1h-4zM257 458h6v1h-6zM243 459h14v1h-14zM239 460h4v1h-4zM233 461h6v1h-6zM227 462h6v1h-6zM223 463h4v1h-4zM217 464h6v1h-6zM209 465h8v1h-8zM193 466h16v1h-16zM185 467h8v1h-8zM177 468h8v1h-8zM161 469h16v1h-16zM153 470h8v1h-8zM147 471h6v1h-6zM143 472h4v1h-4zM137 473h6v1h-6zM129 474h8v1h-8zM123 475h6v1h-6zM119 476h4v1h-4zM113 477h6v1h-6zM107 478h6v1h-6zM103 479h4v1h-4zM97 480h6v1h-6zM91 481h6v1h-6zM87 482h4v1h-4zM81 483h6v1h-6zM75 484h6v1h-6zM71 485h4v1h-4zM65 486h6v1h-6zM57 487h8v1h-8zM41 488h16v1h-16zM25 489h16v1h-16zM19 490h6v1h-6zM15 491h4v1h-4zM9 492h6v1h-6zM5 493h4v1h-4z" fill="#ff0000"/>
<path d="M1649 124h21v1h-21zM1633 125h16v1h-16zM1617 126h16v1h-16zM1609 127h8v1h-8zM1593 128h16v1h-16zM1585 129h8v1h-8zM1577 130h8v1h-8zM1571 131h6v1h-6zM1567 132h4v1h-4zM1563 133h4v1h-4zM1559 134h4v1h-4zM1553 135h6v1h-6zM1547 136h6v1h-6zM1543 137h4v1h-4zM1539 138h4v1h-4zM1535 139h4v1h-4zM1531 140h4v1h-4zM1527 141h4v1h-4zM1523 142h4v1h-4zM1519 143h4v1h-4zM1515 144h4v1h-4zM1511 145h4v1h-4zM1507 146h4v1h-4zM1503 147h4v1h-4zM1499 148h4v1h-4zM1495 149h4v1h-4zM1491 150h4v1h-4zM1487 151h4v1h-4zM1481 152h6v1h-6zM1475 153h6v1h-6zM1471 154h4v1h-4zM1467 155h4v1h-4zM1463 156h4v1h-4zM1459 157h4v1h-4zM1455 158h4v1h-4zM1451 159h4v1h-4zM1447 160h4v1h-4zM1444 161h3v1h-3zM1441 162h3v1h-3zM1439 163h2v1h-2zM1435 164h4v1h-4zM1431 165h4v1h-4zM1428 166h3v1h-3zM1425 167h3v1h-3zM1423 168h2v1h-2zM1420 169h3v1h-3zM1417 170h3v1h-3zM1415 171h2v1h-2zM1411 172h4v1h-4zM1407 173h4v1h-4zM1403 174h4v1h-4zM1399 175h4v1h-4zM1395 176h4v1h-4zM1391 177h4v1h-4zM1387 178h4v1h-4zM1383 179h4v1h-4zM1379 180h4v1h-4zM1375 181h4v1h-4zM1371 182h4v1h-4zM1367 183h4v1h-4zM1361 184h6v1h-6zM1355 185h6v1h-6zM1351 186h4v1h-4zM1345 187h6v1h-6zM1339 188h6v1h-6zM1335 189h4v1h-4zM1329 190h6v1h-6zM1323 191h6v1h-6zM1319 192h4v1h-4zM1313 193h6v1h-6zM1305 194h8v1h-8zM1299 195h6v1h-6zM1295 196h4v1h-4zM1291 197h4v1h-4zM1287 198h4v1h-4zM1283 199h4v1h-4zM1279 200h4v1h-4zM1276 201h3v1h-3zM1273 202h3v1h-3zM1271 203h2v1h-2zM1267 204h4v1h-4zM1263 205h4v1h-4zM1257 206h6v1h-6zM1252 207h5v1h-5zM1249 208h3v1h-3zM1247 209h2v1h-2zM1243 210h4v1h-4zM1239 211h4v1h-4zM1235 212h4v1h-4zM1231 213h4v1h-4zM1228 214h3v1h-3zM1225 215h3v1h-3zM1223 216h2v1h-2zM1220 217h3v1h-3zM1217 218h3v1h-3zM1215 219h2v1h-2zM1211 220h4v1h-4zM1207 221h4v1h-4zM1204 222h3v1h-3zM1201 223h3v1h-3zM1199 224h2v1h-2zM1196 225h3v1h-3zM1193 226h3v1h-3zM1191 227h2v1h-2zM1185 228h6v1h-6zM1179 229h6v1h-6zM1175 230h4v1h-4zM1171 231h4v1h-4zM1167 232h4v1h-4zM1163 233h4v1h-4zM1159 234h4v1h-4zM1156 235h3v1h-3zM1153 236h3v1h-3zM1151 237h2v1h-2zM1147 238h4v1h-4zM1143 239h4v1h-4zM1140 240h3v1h-3zM1137 241h3v1h-3zM1135 242h2v1h-2zM1131 243h4v1h-4zM1127 244h4v1h-4zM1125 245h2v1h-2zM1123 246h2v1h-2zM1121 247h2v1h-2zM1120 248h1v1h-1zM1118 249h2v1h-2zM1116 250h2v1h-2zM1114 251h2v1h-2zM1112 252h2v1h-2zM1110 253h2v1h-2zM1108 254h2v1h-2zM1106 255h2v1h-2zM1104 256h2v1h-2zM1102 257h2v1h-2zM1100 258h2v1h-2zM1098 259h2v1h-2zM1096 260h2v1h-2zM1094 261h2v1h-2zM1093 262h1v1h-1zM1091 263h2v1h-2zM1089 264h2v1h-2zM1088 265h1v1h-1zM1086 266h2v1h-2zM1084 267h2v1h-2zM1082 268h2v1h-2zM1080 269h2v1h-2zM1078 270h2v1h-2zM1076 271h2v1h-2zM1074 272h2v1h-2zM1072 273h2v1h-2zM1070 274h2v1h-2zM1068 275h2v1h-2zM1065 276h3v1h-3zM1063 277h2v1h-2zM1060 278h3v1h-3zM1058 279h2v1h-2zM1056 280h2v1h-2zM1054 281h2v1h-2zM1052 282h2v1h-2zM1050 283h2v1h-2zM1048 284h2v1h-2zM1046 285h2v1h-2zM1044 286h2v1h-2zM1042 287h2v1h-2zM1040 288h2v1h-2zM1038 289h2v1h-2zM1036 290h2v1h-2zM1034 291h2v1h-2zM1032 292h2v1h-2zM1030 293h2v1h-2zM1028 294h2v1h-2zM1026 295h2v1h-2zM1024 296h2v1h-2zM1022 297h2v1h-2zM1020 298h2v1h-2zM1018 299h2v1h-2zM1016 300h2v1h-2zM1014 301h2v1h-2zM1012 302h2v1h-2zM1009 303h3v1h-3zM1007 304h2v1h-2zM1004 305h3v1h-3zM1002 306h2v1h-2zM1000 307h2v1h-2zM998 308h2v1h-2zM996 309h2v1h-2zM994 310h2v1h-2zM992 311h2v1h-2zM990 312h2v1h-2zM985 313h5v1h-5zM977 314h8v1h-8zM969 315h8v1h-8zM953 316h16v1h-16zM945 317h8v1h-8zM937 318h8v1h-8zM929 319h8v1h-8zM921 320h8v1h-8zM915 321h6v1h-6zM911 322h4v1h-4zM905 323h6v1h-6zM897 324h8v1h-8zM881 325h16v1h-16zM873 326h8v1h-8zM857 327h16v1h-16zM849 328h8v1h-8zM841 329h8v1h-8zM825 330h16v1h-16zM817 331h8v1h-8zM809 332h8v1h-8zM801 333h8v1h-8zM521 334h32v1h-32zM795 334h6v1h-6zM513 335h8v1h-8zM553 335h6v1h-6zM791 335h4v1h-4zM497 336h16v1h-16zM559 336h4v1h-4zM633 336h16v1h-16zM761 336h30v1h-30zM489 337h8v1h-8zM563 337h6v1h-6zM625 337h8v1h-8zM649 337h8v1h-8zM753 337h8v1h-8zM481 338h8v1h-8zM569 338h8v1h-8zM609 338h16v1h-16zM657 338h8v1h-8zM745 338h8v1h-8zM473 339h8v1h-8zM577 339h8v1h-8zM601 339h8v1h-8zM665 339h16v1h-16zM697 339h48v1h-48zM465 340h8v1h-8zM585 340h16v1h-16zM681 340h16v1h-16zM457 341h8v1h-8zM441 342h16v1h-16zM433 343h8v1h-8zM425 344h8v1h-8zM411 345h14v1h-14zM407 346h4v1h-4zM401 347h6v1h-6zM393 348h8v1h-8zM387 349h6v1h-6zM383 350h4v1h-4zM377 351h6v1h-6zM371 352h6v1h-6zM367 353h4v1h-4zM361 354h6v1h-6zM353 355h8v1h-8zM345 356h8v1h-8zM337 357h8v1h-8zM321 358h16v1h-16zM315 359h6v1h-6zM311 360h4v1h-4zM305 361h6v1h-6zM299 362h6v1h-6zM121 363h24v1h-24zM295 363h4v1h-4zM97 364h24v1h-24zM145 364h24v1h-24zM289 364h6v1h-6zM81 365h16v1h-16zM169 365h8v1h-8zM281 365h8v1h-8zM73 366h8v1h-8zM177 366h6v1h-6zM273 366h8v1h-8zM65 367h8v1h-8zM183 367h4v1h-4zM265 367h8v1h-8zM57 368h8v1h-8zM187 368h6v1h-6zM259 368h6v1h-6zM41 369h16v1h-16zM193 369h8v1h-8zM255 369h4v1h-4zM33 370h8v1h-8zM201 370h8v1h-8zM249 370h6v1h-6zM19 371h14v1h-14zM209 371h8v1h-8zM241 371h8v1h-8zM15 372h4v1h-4zM217 372h24v1h-24zM11 373h4v1h-4zM7 374h4v1h-4zM5 375h2v1h-2z" fill="#ff00ff"/>
<path d="M1585 95h16v1h-16zM1571 96h14v1h-14zM1601 96h16v1h-16zM1567 97h4v1h-4zM1617 97h6v1h-6zM1563 98h4v1h-4zM1623 98h4v1h-4zM1559 99h4v1h-4zM1627 99h6v1h-6zM1555 100h4v1h-4zM1633 100h6v1h-6zM1551 101h4v1h-4zM1639 101h4v1h-4zM1548 102h3v1h-3zM1643 102h4v1h-4zM1546 103h2v1h-2zM1647 103h4v1h-4zM1544 104h2v1h-2zM1651 104h6v1h-6zM1542 105h2v1h-2zM1657 105h6v1h-6zM1540 106h2v1h-2zM1663 106h4v1h-4zM1538 107h2v1h-2zM1667 107h3v1h-3zM1536 108h2v1h-2zM1534 109h2v1h-2zM1532 110h2v1h-2zM1529 111h3v1h-3zM1527 112h2v1h-2zM1523 113h4v1h-4zM1519 114h4v1h-4zM1516 115h3v1h-3zM1514 116h2v1h-2zM1512 117h2v1h-2zM1510 118h2v1h-2zM1508 119h2v1h-2zM1506 120h2v1h-2zM1504 121h2v1h-2zM1502 122h2v1h-2zM1500 123h2v1h-2zM1498 124h2v1h-2zM1496 125h2v1h-2zM1494 126h2v1h-2zM1492 127h2v1h-2zM1490 128h2v1h-2zM1488 129h2v1h-2zM1486 130h2v1h-2zM1485 131h1v1h-1zM1483 132h2v1h-2zM1481 133h2v1h-2zM1480 134h1v1h-1zM1478 135h2v1h-2zM1476 136h2v1h-2zM1474 137h2v1h-2zM1472 138h2v1h-2zM1470 139h2v1h-2zM1468 140h2v1h-2zM1466 141h2v1h-2zM1464 142h2v1h-2zM1462 143h2v1h-2zM1460 144h2v1h-2zM1457 145h3v1h-3zM1455 146h2v1h-2zM1452 147h3v1h-3zM1284 148h29v1h-29zM1449 148h3v1h-3zM1281 149h3v1h-3zM1313 149h6v1h-6zM1447 149h2v1h-2zM1279 150h2v1h-2zM1319 150h4v1h-4zM1441 150h6v1h-6zM1273 151h6v1h-6zM1323 151h6v1h-6zM1433 151h8v1h-8zM1268 152h5v1h-5zM1329 152h32v1h-32zM1417 152h16v1h-16zM1265 153h3v1h-3zM1361 153h8v1h-8zM1409 153h8v1h-8zM1263 154h2v1h-2zM1369 154h40v1h-40zM1260 155h3v1h-3zM1257 156h3v1h-3zM1255 157h2v1h-2zM1252 158h3v1h-3zM1249 159h3v1h-3zM1247 160h2v1h-2zM1244 161h3v1h-3zM1242 162h2v1h-2zM1240 163h2v1h-2zM1238 164h2v1h-2zM1236 165h2v1h-2zM1233 166h3v1h-3zM1231 167h2v1h-2zM1227 168h4v1h-4zM1223 169h4v1h-4zM1219 170h4v1h-4zM1215 171h4v1h-4zM1212 172h3v1h-3zM1210 173h2v1h-2zM1208 174h2v1h-2zM1206 175h2v1h-2zM1204 176h2v1h-2zM1201 177h3v1h-3zM1199 178h2v1h-2zM1195 179h4v1h-4zM1191 180h4v1h-4zM1188 181h3v1h-3zM1185 182h3v1h-3zM1183 183h2v1h-2zM1180 184h3v1h-3zM1177 185h3v1h-3zM1175 186h2v1h-2zM1172 187h3v1h-3zM1169 188h3v1h-3zM1167 189h2v1h-2zM1164 190h3v1h-3zM1162 191h2v1h-2zM1160 192h2v1h-2zM1158 193h2v1h-2zM1157 194h1v1h-1zM1155 195h2v1h-2zM1154 196h1v1h-1zM1153 197h1v1h-1zM1151 198h2v1h-2zM1150 199h1v1h-1zM1148 200h2v1h-2zM1146 201h2v1h-2zM1144 202h2v1h-2zM1142 203h2v1h-2zM1140 204h2v1h-2zM1138 205h2v1h-2zM1136 206h2v1h-2zM1134 207h2v1h-2zM1132 208h2v1h-2zM1129 209h3v1h-3zM1127 210h2v1h-2zM1124 211h3v1h-3zM1122 212h2v1h-2zM1120 213h2v1h-2zM1118 214h2v1h-2zM1116 215h2v1h-2zM1114 216h2v1h-2zM1112 217h2v1h-2zM1110 218h2v1h-2zM1108 219h2v1h-2zM1106 220h2v1h-2zM1104 221h2v1h-2zM1102 222h2v1h-2zM1100 223h2v1h-2zM1098 224h2v1h-2zM1096 225h2v1h-2zM1094 226h2v1h-2zM1092 227h2v1h-2zM1089 228h3v1h-3zM1087 229h2v1h-2zM1083 230h4v1h-4zM1079 231h4v1h-4zM1075 232h4v1h-4zM1071 233h4v1h-4zM1067 234h4v1h-4zM1063 235h4v1h-4zM1060 236h3v1h-3zM1057 237h3v1h-3zM1055 238h2v1h-2zM1052 239h3v1h-3zM1049 240h3v1h-3zM1047 241h2v1h-2zM1043 242h4v1h-4zM1039 243h4v1h-4zM1035 244h4v1h-4zM1031 245h4v1h-4zM1027 246h4v1h-4zM1023 247h4v1h-4zM1020 248h3v1h-3zM1017 249h3v1h-3zM1015 250h2v1h-2zM1011 251h4v1h-4zM1007 252h4v1h-4zM961 253h14v1h-14zM1001 253h6v1h-6zM955 254h6v1h-6zM975 254h4v1h-4zM993 254h8v1h-8zM951 255h4v1h-4zM979 255h14v1h-14zM945 256h6v1h-6zM937 257h8v1h-8zM929 258h8v1h-8zM923 259h6v1h-6zM919 260h4v1h-4zM913 261h6v1h-6zM905 262h8v1h-8zM899 263h6v1h-6zM895 264h4v1h-4zM889 265h6v1h-6zM883 266h6v1h-6zM879 267h4v1h-4zM873 268h6v1h-6zM868 269h5v1h-5zM865 270h3v1h-3zM863 271h2v1h-2zM860 272h3v1h-3zM858 273h2v1h-2zM856 274h2v1h-2zM854 275h2v1h-2zM853 276h1v1h-1zM852 277h1v1h-1zM851 278h1v1h-1zM849 279h2v1h-2zM848 280h1v1h-1zM847 281h1v1h-1zM846 282h1v1h-1zM845 283h1v1h-1zM843 284h2v1h-2zM842 285h1v1h-1zM841 286h1v1h-1zM839 287h2v1h-2zM838 288h1v1h-1zM837 289h1v1h-1zM836 290h1v1h-1zM835 291h1v1h-1zM833 292h2v1h-2zM832 293h1v1h-1zM831 294h1v1h-1zM830 295h1v1h-1zM829 296h1v1h-1zM828 297h1v1h-1zM827 298h1v1h-1zM826 299h1v1h-1zM825 300h1v1h-1zM824 301h1v1h-1zM529 302h21v1h-21zM823 302h1v1h-1zM421 303h12v1h-12zM449 303h16v1h-16zM521 303h8v1h-8zM550 303h2v1h-2zM822 303h1v1h-1zM419 304h2v1h-2zM433 304h16v1h-16zM465 304h24v1h-24zM513 304h8v1h-8zM552 304h2v1h-2zM821 304h1v1h-1zM417 305h2v1h-2zM489 305h24v1h-24zM554 305h2v1h-2zM820 305h1v1h-1zM416 306h1v1h-1zM556 306h2v1h-2zM819 306h1v1h-1zM414 307h2v1h-2zM558 307h1v1h-1zM817 307h2v1h-2zM412 308h2v1h-2zM559 308h1v1h-1zM816 308h1v1h-1zM409 309h3v1h-3zM560 309h1v1h-1zM815 309h1v1h-1zM407 310h2v1h-2zM561 310h1v1h-1zM814 310h1v1h-1zM404 311h3v1h-3zM562 311h1v1h-1zM813 311h1v1h-1zM401 312h3v1h-3zM563 312h1v1h-1zM812 312h1v1h-1zM399 313h2v1h-2zM564 313h1v1h-1zM811 313h1v1h-1zM395 314h4v1h-4zM565 314h1v1h-1zM810 314h1v1h-1zM391 315h4v1h-4zM566 315h1v1h-1zM809 315h1v1h-1zM388 316h3v1h-3zM567 316h1v1h-1zM808 316h1v1h-1zM385 317h3v1h-3zM568 317h1v1h-1zM807 317h1v1h-1zM383 318h2v1h-2zM569 318h2v1h-2zM806 318h1v1h-1zM380 319h3v1h-3zM571 319h1v1h-1zM805 319h1v1h-1zM378 320h2v1h-2zM572 320h1v1h-1zM804 320h1v1h-1zM376 321h2v1h-2zM573 321h1v1h-1zM803 321h1v1h-1zM374 322h2v1h-2zM574 322h1v1h-1zM802 322h1v1h-1zM373 323h1v1h-1zM575 323h2v1h-2zM801 323h1v1h-1zM372 324h1v1h-1zM577 324h1v1h-1zM801 324h1v1h-1zM371 325h1v1h-1zM578 325h1v1h-1zM800 325h1v1h-1zM369 326h2v1h-2zM579 326h2v1h-2zM799 326h1v1h-1zM368 327h1v1h-1zM581 327h1v1h-1zM798 327h1v1h-1zM367 328h1v1h-1zM582 328h1v1h-1zM797 328h1v1h-1zM366 329h1v1h-1zM583 329h2v1h-2zM796 329h1v1h-1zM365 330h1v1h-1zM585 330h1v1h-1zM795 330h1v1h-1zM364 331h1v1h-1zM586 331h1v1h-1zM794 331h1v1h-1zM363 332h1v1h-1zM587 332h2v1h-2zM793 332h1v1h-1zM361 333h2v1h-2zM589 333h1v1h-1zM792 333h1v1h-1zM360 334h1v1h-1zM590 334h2v1h-2zM791 334h1v1h-1zM359 335h1v1h-1zM592 335h2v1h-2zM790 335h1v1h-1zM358 336h1v1h-1zM594 336h2v1h-2zM789 336h1v1h-1zM357 337h1v1h-1zM596 337h2v1h-2zM787 337h2v1h-2zM356 338h1v1h-1zM598 338h1v1h-1zM786 338h1v1h-1zM355 339h1v1h-1zM599 339h1v1h-1zM785 339h1v1h-1zM353 340h2v1h-2zM600 340h1v1h-1zM783 340h2v1h-2zM352 341h1v1h-1zM601 341h2v1h-2zM782 341h1v1h-1zM351 342h1v1h-1zM603 342h1v1h-1zM781 342h1v1h-1zM350 343h1v1h-1zM604 343h1v1h-1zM779 343h2v1h-2zM123 344h14v1h-14zM349 344h1v1h-1zM605 344h1v1h-1zM777 344h2v1h-2zM119 345h4v1h-4zM137 345h8v1h-8zM348 345h1v1h-1zM606 345h1v1h-1zM776 345h1v1h-1zM115 346h4v1h-4zM145 346h6v1h-6zM347 346h1v1h-1zM607 346h2v1h-2zM774 346h2v1h-2zM111 347h4v1h-4zM151 347h2v1h-2zM345 347h2v1h-2zM609 347h1v1h-1zM773 347h1v1h-1zM108 348h3v1h-3zM153 348h3v1h-3zM344 348h1v1h-1zM610 348h1v1h-1zM771 348h2v1h-2zM105 349h3v1h-3zM156 349h2v1h-2zM343 349h1v1h-1zM611 349h2v1h-2zM770 349h1v1h-1zM103 350h2v1h-2zM158 350h2v1h-2zM342 350h1v1h-1zM613 350h1v1h-1zM769 350h1v1h-1zM99 351h4v1h-4zM160 351h1v1h-1zM341 351h1v1h-1zM614 351h1v1h-1zM767 351h2v1h-2zM95 352h4v1h-4zM161 352h2v1h-2zM339 352h2v1h-2zM615 352h1v1h-1zM766 352h1v1h-1zM92 353h3v1h-3zM163 353h2v1h-2zM338 353h1v1h-1zM616 353h1v1h-1zM765 353h1v1h-1zM89 354h3v1h-3zM165 354h1v1h-1zM337 354h1v1h-1zM617 354h2v1h-2zM763 354h2v1h-2zM87 355h2v1h-2zM166 355h1v1h-1zM335 355h2v1h-2zM619 355h1v1h-1zM762 355h1v1h-1zM83 356h4v1h-4zM167 356h2v1h-2zM334 356h1v1h-1zM620 356h1v1h-1zM761 356h1v1h-1zM79 357h4v1h-4zM169 357h1v1h-1zM333 357h1v1h-1zM621 357h1v1h-1zM759 357h2v1h-2zM75 358h4v1h-4zM170 358h1v1h-1zM331 358h2v1h-2zM622 358h2v1h-2zM758 358h1v1h-1zM71 359h4v1h-4zM171 359h2v1h-2zM330 359h1v1h-1zM624 359h1v1h-1zM757 359h1v1h-1zM65 360h6v1h-6zM173 360h1v1h-1zM329 360h1v1h-1zM625 360h2v1h-2zM756 360h1v1h-1zM59 361h6v1h-6zM174 361h1v1h-1zM327 361h2v1h-2zM627 361h2v1h-2zM755 361h1v1h-1zM55 362h4v1h-4zM175 362h2v1h-2zM326 362h1v1h-1zM629 362h1v1h-1zM753 362h2v1h-2zM33 363h22v1h-22zM177 363h1v1h-1zM324 363h2v1h-2zM630 363h1v1h-1zM752 363h1v1h-1zM11 364h22v1h-22zM178 364h1v1h-1zM322 364h2v1h-2zM631 364h2v1h-2zM751 364h1v1h-1zM7 365h4v1h-4zM179 365h2v1h-2zM320 365h2v1h-2zM633 365h1v1h-1zM750 365h1v1h-1zM5 366h2v1h-2zM181 366h1v1h-1zM318 366h2v1h-2zM634 366h1v1h-1zM749 366h1v1h-1zM182 367h2v1h-2zM315 367h3v1h-3zM635 367h2v1h-2zM748 367h1v1h-1zM184 368h1v1h-1zM311 368h4v1h-4zM637 368h1v1h-1zM747 368h1v1h-1zM185 369h2v1h-2zM308 369h3v1h-3zM638 369h2v1h-2zM746 369h1v1h-1zM187 370h2v1h-2zM305 370h3v1h-3zM640 370h2v1h-2zM745 370h1v1h-1zM189 371h2v1h-2zM303 371h2v1h-2zM642 371h2v1h-2zM745 371h1v1h-1zM191 372h2v1h-2zM300 372h3v1h-3zM644 372h2v1h-2zM744 372h1v1h-1zM193 373h3v1h-3zM297 373h3v1h-3zM646 373h1v1h-1zM743 373h1v1h-1zM196 374h2v1h-2zM295 374h2v1h-2zM647 374h1v1h-1zM742 374h1v1h-1zM198 375h2v1h-2zM292 375h3v1h-3zM648 375h1v1h-1zM741 375h1v1h-1zM200 376h1v1h-1zM290 376h2v1h-2zM649 376h2v1h-2zM740 376h1v1h-1zM201 377h2v1h-2zM288 377h2v1h-2zM651 377h1v1h-1zM739 377h1v1h-1zM203 378h2v1h-2zM286 378h2v1h-2zM652 378h1v1h-1zM737 378h2v1h-2zM205 379h4v1h-4zM217 379h8v1h-8zM283 379h3v1h-3zM653 379h1v1h-1zM736 379h1v1h-1zM209 380h8v1h-8zM225 380h6v1h-6zM279 380h4v1h-4zM654 380h2v1h-2zM735 380h1v1h-1zM231 381h4v1h-4zM276 381h3v1h-3zM656 381h2v1h-2zM734 381h1v1h-1zM235 382h4v1h-4zM273 382h3v1h-3zM658 382h2v1h-2zM733 382h1v1h-1zM239 383h4v1h-4zM271 383h2v1h-2zM660 383h2v1h-2zM732 383h1v1h-1zM243 384h4v1h-4zM267 384h4v1h-4zM662 384h2v1h-2zM731 384h1v1h-1zM247 385h2v1h-2zM263 385h4v1h-4zM664 385h2v1h-2zM730 385h1v1h-1zM249 386h3v1h-3zM257 386h6v1h-6zM666 386h2v1h-2zM729 386h1v1h-1zM252 387h5v1h-5zM668 387h2v1h-2zM728 387h1v1h-1zM670 388h2v1h-2zM727 388h1v1h-1zM672 389h1v1h-1zM726 389h1v1h-1zM673 390h2v1h-2zM725 390h1v1h-1zM675 391h2v1h-2zM723 391h2v1h-2zM677 392h1v1h-1zM722 392h1v1h-1zM678 393h2v1h-2zM721 393h1v1h-1zM680 394h2v1h-2zM719 394h2v1h-2zM682 395h2v1h-2zM718 395h1v1h-1zM684 396h3v1h-3zM713 396h5v1h-5zM687 397h2v1h-2zM705 397h8v1h-8zM689 398h3v1h-3zM697 398h8v1h-8zM692 399h5v1h-5z" fill="#ffa500"/>
<rect x="5" y="73" width="1685" height="2" fill="#ff0000"/>
<rect x="5" y="247" width="1685" height="2" fill="#00ff7f"/>
<rect x="5" y="363" width="1685" height="2" fill="#4169e1"/>
<rect x="5" y="478" width="1685" height="2" fill="#4169e1"/>
</g>
<text x="1116" y="432.6" style="font-family:'Liberation Sans','Noto Sans CJK SC',sans-serif;font-size:32.5px;fill:#ff1a00" shape-rendering="auto">多空转折点60</text>
<path d="M8 40 L15 40 L11.5 44 Z" fill="#000" shape-rendering="auto"/>
<text class="t9" transform="matrix(1 0 0 1.05 20 45)" style="white-space:pre">USOil-,H4  61.140 61.170 61.060 61.140</text>
<rect x="1691" y="35" width="2" height="1" fill="#000"/>
<text class="t9" transform="matrix(1 0 0 1.05 1696 39)">62.675</text>
<rect x="1691" y="68" width="2" height="1" fill="#000"/>
<text class="t9" transform="matrix(1 0 0 1.05 1696 72)">62.105</text>
<rect x="1691" y="101" width="2" height="1" fill="#000"/>
<text class="t9" transform="matrix(1 0 0 1.05 1696 105)">61.535</text>
<rect x="1691" y="134" width="2" height="1" fill="#000"/>
<text class="t9" transform="matrix(1 0 0 1.05 1696 138)">60.965</text>
<rect x="1691" y="167" width="2" height="1" fill="#000"/>
<text class="t9" transform="matrix(1 0 0 1.05 1696 171)">60.395</text>
<rect x="1691" y="200" width="2" height="1" fill="#000"/>
<text class="t9" transform="matrix(1 0 0 1.05 1696 204)">59.825</text>
<rect x="1691" y="233" width="2" height="1" fill="#000"/>
<text class="t9" transform="matrix(1 0 0 1.05 1696 237)">59.255</text>
<rect x="1691" y="266" width="2" height="1" fill="#000"/>
<text class="t9" transform="matrix(1 0 0 1.05 1696 270)">58.685</text>
<rect x="1691" y="299" width="2" height="1" fill="#000"/>
<text class="t9" transform="matrix(1 0 0 1.05 1696 303)">58.115</text>
<rect x="1691" y="332" width="2" height="1" fill="#000"/>
<text class="t9" transform="matrix(1 0 0 1.05 1696 336)">57.545</text>
<rect x="1691" y="365" width="2" height="1" fill="#000"/>
<text class="t9" transform="matrix(1 0 0 1.05 1696 369)">56.975</text>
<rect x="1691" y="398" width="2" height="1" fill="#000"/>
<text class="t9" transform="matrix(1 0 0 1.05 1696 402)">56.405</text>
<rect x="1691" y="431" width="2" height="1" fill="#000"/>
<text class="t9" transform="matrix(1 0 0 1.05 1696 435)">55.835</text>
<rect x="1691" y="464" width="2" height="1" fill="#000"/>
<text class="t9" transform="matrix(1 0 0 1.05 1696 468)">55.265</text>
<rect x="1691" y="497" width="2" height="1" fill="#000"/>
<text class="t9" transform="matrix(1 0 0 1.05 1696 501)">54.695</text>
<rect x="1692" y="68" width="36" height="11" fill="#ff0000"/>
<text class="t9" transform="matrix(1 0 0 1.05 1696 77)" style="fill:#fff">62.000</text>
<rect x="1692" y="119" width="36" height="11" fill="#000000"/>
<text class="t9" transform="matrix(1 0 0 1.05 1696 128)" style="fill:#fff">61.140</text>
<rect x="1692" y="242" width="36" height="11" fill="#00ff7f"/>
<text class="t9" transform="matrix(1 0 0 1.05 1696 251)" style="fill:#fff">59.000</text>
<rect x="1692" y="358" width="36" height="11" fill="#4169e1"/>
<text class="t9" transform="matrix(1 0 0 1.05 1696 367)" style="fill:#fff">57.000</text>
<rect x="1692" y="473" width="36" height="11" fill="#4169e1"/>
<text class="t9" transform="matrix(1 0 0 1.05 1696 482)" style="fill:#fff">55.000</text>
<g clip-path="url(#cmacd)">
<rect x="5" y="548" width="1" height="24" fill="#c0c0c0"/>
<rect x="13" y="546" width="1" height="26" fill="#c0c0c0"/>
<rect x="21" y="552" width="1" height="20" fill="#c0c0c0"/>
<rect x="29" y="556" width="1" height="16" fill="#c0c0c0"/>
<rect x="37" y="558" width="1" height="14" fill="#c0c0c0"/>
<rect x="45" y="561" width="1" height="11" fill="#c0c0c0"/>
<rect x="53" y="566" width="1" height="6" fill="#c0c0c0"/>
<rect x="61" y="565" width="1" height="7" fill="#c0c0c0"/>
<rect x="69" y="559" width="1" height="13" fill="#c0c0c0"/>
<rect x="77" y="554" width="1" height="18" fill="#c0c0c0"/>
<rect x="85" y="550" width="1" height="22" fill="#c0c0c0"/>
<rect x="93" y="548" width="1" height="24" fill="#c0c0c0"/>
<rect x="101" y="545" width="1" height="27" fill="#c0c0c0"/>
<rect x="109" y="546" width="1" height="26" fill="#c0c0c0"/>
<rect x="117" y="550" width="1" height="22" fill="#c0c0c0"/>
<rect x="125" y="555" width="1" height="17" fill="#c0c0c0"/>
<rect x="133" y="560" width="1" height="12" fill="#c0c0c0"/>
<rect x="141" y="565" width="1" height="7" fill="#c0c0c0"/>
<rect x="149" y="570" width="1" height="2" fill="#c0c0c0"/>
<rect x="157" y="571" width="1" height="4" fill="#c0c0c0"/>
<rect x="165" y="571" width="1" height="17" fill="#c0c0c0"/>
<rect x="173" y="571" width="1" height="30" fill="#c0c0c0"/>
<rect x="181" y="571" width="1" height="42" fill="#c0c0c0"/>
<rect x="189" y="571" width="1" height="49" fill="#c0c0c0"/>
<rect x="197" y="571" width="1" height="55" fill="#c0c0c0"/>
<rect x="205" y="571" width="1" height="56" fill="#c0c0c0"/>
<rect x="213" y="571" width="1" height="48" fill="#c0c0c0"/>
<rect x="221" y="571" width="1" height="33" fill="#c0c0c0"/>
<rect x="229" y="571" width="1" height="24" fill="#c0c0c0"/>
<rect x="237" y="571" width="1" height="19" fill="#c0c0c0"/>
<rect x="245" y="571" width="1" height="13" fill="#c0c0c0"/>
<rect x="253" y="571" width="1" height="7" fill="#c0c0c0"/>
<rect x="261" y="565" width="1" height="7" fill="#c0c0c0"/>
<rect x="269" y="549" width="1" height="23" fill="#c0c0c0"/>
<rect x="277" y="538" width="1" height="34" fill="#c0c0c0"/>
<rect x="285" y="532" width="1" height="40" fill="#c0c0c0"/>
<rect x="293" y="526" width="1" height="46" fill="#c0c0c0"/>
<rect x="301" y="522" width="1" height="50" fill="#c0c0c0"/>
<rect x="309" y="524" width="1" height="48" fill="#c0c0c0"/>
<rect x="317" y="525" width="1" height="47" fill="#c0c0c0"/>
<rect x="325" y="527" width="1" height="45" fill="#c0c0c0"/>
<rect x="333" y="528" width="1" height="44" fill="#c0c0c0"/>
<rect x="341" y="530" width="1" height="42" fill="#c0c0c0"/>
<rect x="349" y="531" width="1" height="41" fill="#c0c0c0"/>
<rect x="357" y="536" width="1" height="36" fill="#c0c0c0"/>
<rect x="365" y="539" width="1" height="33" fill="#c0c0c0"/>
<rect x="373" y="539" width="1" height="33" fill="#c0c0c0"/>
<rect x="381" y="541" width="1" height="31" fill="#c0c0c0"/>
<rect x="389" y="542" width="1" height="30" fill="#c0c0c0"/>
<rect x="397" y="544" width="1" height="28" fill="#c0c0c0"/>
<rect x="405" y="544" width="1" height="28" fill="#c0c0c0"/>
<rect x="413" y="545" width="1" height="27" fill="#c0c0c0"/>
<rect x="421" y="542" width="1" height="30" fill="#c0c0c0"/>
<rect x="429" y="542" width="1" height="30" fill="#c0c0c0"/>
<rect x="437" y="542" width="1" height="30" fill="#c0c0c0"/>
<rect x="445" y="543" width="1" height="29" fill="#c0c0c0"/>
<rect x="453" y="539" width="1" height="33" fill="#c0c0c0"/>
<rect x="461" y="543" width="1" height="29" fill="#c0c0c0"/>
<rect x="469" y="546" width="1" height="26" fill="#c0c0c0"/>
<rect x="477" y="550" width="1" height="22" fill="#c0c0c0"/>
<rect x="485" y="554" width="1" height="18" fill="#c0c0c0"/>
<rect x="493" y="559" width="1" height="13" fill="#c0c0c0"/>
<rect x="501" y="560" width="1" height="12" fill="#c0c0c0"/>
<rect x="509" y="563" width="1" height="9" fill="#c0c0c0"/>
<rect x="517" y="561" width="1" height="11" fill="#c0c0c0"/>
<rect x="525" y="562" width="1" height="10" fill="#c0c0c0"/>
<rect x="533" y="563" width="1" height="9" fill="#c0c0c0"/>
<rect x="541" y="563" width="1" height="9" fill="#c0c0c0"/>
<rect x="549" y="564" width="1" height="8" fill="#c0c0c0"/>
<rect x="557" y="571" width="1" height="11" fill="#c0c0c0"/>
<rect x="565" y="571" width="1" height="33" fill="#c0c0c0"/>
<rect x="573" y="571" width="1" height="46" fill="#c0c0c0"/>
<rect x="581" y="571" width="1" height="53" fill="#c0c0c0"/>
<rect x="589" y="571" width="1" height="58" fill="#c0c0c0"/>
<rect x="597" y="571" width="1" height="57" fill="#c0c0c0"/>
<rect x="605" y="571" width="1" height="61" fill="#c0c0c0"/>
<rect x="613" y="571" width="1" height="62" fill="#c0c0c0"/>
<rect x="621" y="571" width="1" height="62" fill="#c0c0c0"/>
<rect x="629" y="571" width="1" height="61" fill="#c0c0c0"/>
<rect x="637" y="571" width="1" height="58" fill="#c0c0c0"/>
<rect x="645" y="571" width="1" height="58" fill="#c0c0c0"/>
<rect x="653" y="571" width="1" height="60" fill="#c0c0c0"/>
<rect x="661" y="571" width="1" height="55" fill="#c0c0c0"/>
<rect x="669" y="571" width="1" height="49" fill="#c0c0c0"/>
<rect x="677" y="571" width="1" height="43" fill="#c0c0c0"/>
<rect x="685" y="571" width="1" height="39" fill="#c0c0c0"/>
<rect x="693" y="571" width="1" height="29" fill="#c0c0c0"/>
<rect x="701" y="571" width="1" height="8" fill="#c0c0c0"/>
<rect x="709" y="562" width="1" height="10" fill="#c0c0c0"/>
<rect x="717" y="549" width="1" height="23" fill="#c0c0c0"/>
<rect x="725" y="541" width="1" height="31" fill="#c0c0c0"/>
<rect x="733" y="534" width="1" height="38" fill="#c0c0c0"/>
<rect x="741" y="526" width="1" height="46" fill="#c0c0c0"/>
<rect x="749" y="518" width="1" height="54" fill="#c0c0c0"/>
<rect x="757" y="516" width="1" height="56" fill="#c0c0c0"/>
<rect x="765" y="516" width="1" height="56" fill="#c0c0c0"/>
<rect x="773" y="518" width="1" height="54" fill="#c0c0c0"/>
<rect x="781" y="520" width="1" height="52" fill="#c0c0c0"/>
<rect x="789" y="523" width="1" height="49" fill="#c0c0c0"/>
<rect x="797" y="520" width="1" height="52" fill="#c0c0c0"/>
<rect x="805" y="514" width="1" height="58" fill="#c0c0c0"/>
<rect x="813" y="511" width="1" height="61" fill="#c0c0c0"/>
<rect x="821" y="511" width="1" height="61" fill="#c0c0c0"/>
<rect x="829" y="512" width="1" height="60" fill="#c0c0c0"/>
<rect x="837" y="513" width="1" height="59" fill="#c0c0c0"/>
<rect x="845" y="519" width="1" height="53" fill="#c0c0c0"/>
<rect x="853" y="521" width="1" height="51" fill="#c0c0c0"/>
<rect x="861" y="521" width="1" height="51" fill="#c0c0c0"/>
<rect x="869" y="524" width="1" height="48" fill="#c0c0c0"/>
<rect x="877" y="526" width="1" height="46" fill="#c0c0c0"/>
<rect x="885" y="527" width="1" height="45" fill="#c0c0c0"/>
<rect x="893" y="531" width="1" height="41" fill="#c0c0c0"/>
<rect x="901" y="530" width="1" height="42" fill="#c0c0c0"/>
<rect x="909" y="529" width="1" height="43" fill="#c0c0c0"/>
<rect x="917" y="530" width="1" height="42" fill="#c0c0c0"/>
<rect x="925" y="534" width="1" height="38" fill="#c0c0c0"/>
<rect x="933" y="537" width="1" height="35" fill="#c0c0c0"/>
<rect x="941" y="540" width="1" height="32" fill="#c0c0c0"/>
<rect x="949" y="548" width="1" height="24" fill="#c0c0c0"/>
<rect x="957" y="549" width="1" height="23" fill="#c0c0c0"/>
<rect x="965" y="550" width="1" height="22" fill="#c0c0c0"/>
<rect x="973" y="551" width="1" height="21" fill="#c0c0c0"/>
<rect x="981" y="553" width="1" height="19" fill="#c0c0c0"/>
<rect x="989" y="553" width="1" height="19" fill="#c0c0c0"/>
<rect x="997" y="550" width="1" height="22" fill="#c0c0c0"/>
<rect x="1005" y="549" width="1" height="23" fill="#c0c0c0"/>
<rect x="1013" y="544" width="1" height="28" fill="#c0c0c0"/>
<rect x="1021" y="542" width="1" height="30" fill="#c0c0c0"/>
<rect x="1029" y="541" width="1" height="31" fill="#c0c0c0"/>
<rect x="1037" y="537" width="1" height="35" fill="#c0c0c0"/>
<rect x="1045" y="538" width="1" height="34" fill="#c0c0c0"/>
<rect x="1053" y="534" width="1" height="38" fill="#c0c0c0"/>
<rect x="1061" y="533" width="1" height="39" fill="#c0c0c0"/>
<rect x="1069" y="534" width="1" height="38" fill="#c0c0c0"/>
<rect x="1077" y="534" width="1" height="38" fill="#c0c0c0"/>
<rect x="1085" y="533" width="1" height="39" fill="#c0c0c0"/>
<rect x="1093" y="532" width="1" height="40" fill="#c0c0c0"/>
<rect x="1101" y="529" width="1" height="43" fill="#c0c0c0"/>
<rect x="1109" y="528" width="1" height="44" fill="#c0c0c0"/>
<rect x="1117" y="529" width="1" height="43" fill="#c0c0c0"/>
<rect x="1125" y="529" width="1" height="43" fill="#c0c0c0"/>
<rect x="1133" y="529" width="1" height="43" fill="#c0c0c0"/>
<rect x="1141" y="528" width="1" height="44" fill="#c0c0c0"/>
<rect x="1149" y="524" width="1" height="48" fill="#c0c0c0"/>
<rect x="1157" y="520" width="1" height="52" fill="#c0c0c0"/>
<rect x="1165" y="522" width="1" height="50" fill="#c0c0c0"/>
<rect x="1173" y="525" width="1" height="47" fill="#c0c0c0"/>
<rect x="1181" y="527" width="1" height="45" fill="#c0c0c0"/>
<rect x="1189" y="530" width="1" height="42" fill="#c0c0c0"/>
<rect x="1197" y="528" width="1" height="44" fill="#c0c0c0"/>
<rect x="1205" y="527" width="1" height="45" fill="#c0c0c0"/>
<rect x="1213" y="528" width="1" height="44" fill="#c0c0c0"/>
<rect x="1221" y="528" width="1" height="44" fill="#c0c0c0"/>
<rect x="1229" y="530" width="1" height="42" fill="#c0c0c0"/>
<rect x="1237" y="530" width="1" height="42" fill="#c0c0c0"/>
<rect x="1245" y="530" width="1" height="42" fill="#c0c0c0"/>
<rect x="1253" y="530" width="1" height="42" fill="#c0c0c0"/>
<rect x="1261" y="530" width="1" height="42" fill="#c0c0c0"/>
<rect x="1269" y="530" width="1" height="42" fill="#c0c0c0"/>
<rect x="1277" y="531" width="1" height="41" fill="#c0c0c0"/>
<rect x="1285" y="534" width="1" height="38" fill="#c0c0c0"/>
<rect x="1293" y="543" width="1" height="29" fill="#c0c0c0"/>
<rect x="1301" y="550" width="1" height="22" fill="#c0c0c0"/>
<rect x="1309" y="555" width="1" height="17" fill="#c0c0c0"/>
<rect x="1317" y="559" width="1" height="13" fill="#c0c0c0"/>
<rect x="1325" y="563" width="1" height="9" fill="#c0c0c0"/>
<rect x="1333" y="568" width="1" height="4" fill="#c0c0c0"/>
<rect x="1341" y="569" width="1" height="3" fill="#c0c0c0"/>
<rect x="1349" y="571" width="1" height="1" fill="#c0c0c0"/>
<rect x="1357" y="570" width="1" height="2" fill="#c0c0c0"/>
<rect x="1365" y="569" width="1" height="3" fill="#c0c0c0"/>
<rect x="1373" y="569" width="1" height="3" fill="#c0c0c0"/>
<rect x="1381" y="569" width="1" height="3" fill="#c0c0c0"/>
<rect x="1389" y="568" width="1" height="4" fill="#c0c0c0"/>
<rect x="1397" y="564" width="1" height="8" fill="#c0c0c0"/>
<rect x="1405" y="559" width="1" height="13" fill="#c0c0c0"/>
<rect x="1413" y="555" width="1" height="17" fill="#c0c0c0"/>
<rect x="1421" y="551" width="1" height="21" fill="#c0c0c0"/>
<rect x="1429" y="548" width="1" height="24" fill="#c0c0c0"/>
<rect x="1437" y="546" width="1" height="26" fill="#c0c0c0"/>
<rect x="1445" y="543" width="1" height="29" fill="#c0c0c0"/>
<rect x="1453" y="539" width="1" height="33" fill="#c0c0c0"/>
<rect x="1461" y="536" width="1" height="36" fill="#c0c0c0"/>
<rect x="1469" y="533" width="1" height="39" fill="#c0c0c0"/>
<rect x="1477" y="530" width="1" height="42" fill="#c0c0c0"/>
<rect x="1485" y="529" width="1" height="43" fill="#c0c0c0"/>
<rect x="1493" y="532" width="1" height="40" fill="#c0c0c0"/>
<rect x="1501" y="533" width="1" height="39" fill="#c0c0c0"/>
<rect x="1509" y="533" width="1" height="39" fill="#c0c0c0"/>
<rect x="1517" y="535" width="1" height="37" fill="#c0c0c0"/>
<rect x="1525" y="536" width="1" height="36" fill="#c0c0c0"/>
<rect x="1533" y="537" width="1" height="35" fill="#c0c0c0"/>
<rect x="1541" y="536" width="1" height="36" fill="#c0c0c0"/>
<rect x="1549" y="536" width="1" height="36" fill="#c0c0c0"/>
<rect x="1557" y="540" width="1" height="32" fill="#c0c0c0"/>
<rect x="1565" y="543" width="1" height="29" fill="#c0c0c0"/>
<rect x="1573" y="546" width="1" height="26" fill="#c0c0c0"/>
<rect x="1581" y="550" width="1" height="22" fill="#c0c0c0"/>
<rect x="1589" y="552" width="1" height="20" fill="#c0c0c0"/>
<rect x="1597" y="557" width="1" height="15" fill="#c0c0c0"/>
<rect x="1605" y="563" width="1" height="9" fill="#c0c0c0"/>
<rect x="1613" y="566" width="1" height="6" fill="#c0c0c0"/>
<rect x="1621" y="568" width="1" height="4" fill="#c0c0c0"/>
<rect x="1637" y="571" width="1" height="1" fill="#c0c0c0"/>
<rect x="1645" y="571" width="1" height="3" fill="#c0c0c0"/>
<rect x="1653" y="571" width="1" height="4" fill="#c0c0c0"/>
<rect x="1661" y="571" width="1" height="5" fill="#c0c0c0"/>
<rect x="1669" y="571" width="1" height="6" fill="#c0c0c0"/>
<path d="M5 561h1v1h-1zM6 561h1v1h-1zM7 560h1v1h-1zM11 559h1v1h-1zM12 559h1v1h-1zM13 559h1v1h-1zM17 558h1v1h-1zM18 558h1v1h-1zM19 557h1v1h-1zM23 556h1v1h-1zM24 556h1v1h-1zM25 556h1v1h-1zM29 555h1v1h-1zM30 555h1v1h-1zM31 555h1v1h-1zM35 554h1v1h-1zM36 554h1v1h-1zM37 554h1v1h-1zM41 553h1v1h-1zM42 553h1v1h-1zM43 553h1v1h-1zM47 553h1v1h-1zM48 553h1v1h-1zM49 554h1v1h-1zM53 554h1v1h-1zM54 554h1v1h-1zM55 554h1v1h-1zM59 554h1v1h-1zM60 554h1v1h-1zM61 554h1v1h-1zM65 555h1v1h-1zM66 555h1v1h-1zM67 555h1v1h-1zM71 555h1v1h-1zM72 555h1v1h-1zM73 556h1v1h-1zM77 556h1v1h-1zM78 556h1v1h-1zM79 556h1v1h-1zM83 556h1v1h-1zM84 556h1v1h-1zM85 556h1v1h-1zM89 555h1v1h-1zM90 555h1v1h-1zM91 555h1v1h-1zM95 555h1v1h-1zM96 555h1v1h-1zM97 554h1v1h-1zM101 554h1v1h-1zM102 554h1v1h-1zM103 554h1v1h-1zM107 553h1v1h-1zM108 553h1v1h-1zM109 553h1v1h-1zM113 552h1v1h-1zM114 552h1v1h-1zM115 552h1v1h-1zM119 552h1v1h-1zM120 552h1v1h-1zM121 552h1v1h-1zM125 552h1v1h-1zM126 552h1v1h-1zM127 552h1v1h-1zM131 552h1v1h-1zM132 552h1v1h-1zM133 552h1v1h-1zM137 552h1v1h-1zM138 552h1v1h-1zM139 552h1v1h-1zM143 552h1v1h-1zM144 552h1v1h-1zM145 553h1v1h-1zM149 553h1v1h-1zM150 553h1v1h-1zM151 554h1v1h-1zM155 555h1v1h-1zM156 556h1v1h-1zM157 556h1v1h-1zM161 559h1v1h-1zM162 560h1v1h-1zM163 561h1v1h-1zM167 563h1v1h-1zM168 564h1v1h-1zM169 565h1v1h-1zM173 567h1v1h-1zM174 568h1v1h-1zM175 569h1v1h-1zM179 573h1v1h-1zM180 574h1v1h-1zM181 575h1v1h-1zM185 579h1v1h-1zM186 580h1v1h-1zM187 581h1v1h-1zM191 585h1v1h-1zM192 586h1v1h-1zM193 587h1v1h-1zM197 591h1v1h-1zM198 592h1v1h-1zM199 593h1v1h-1zM203 597h1v1h-1zM204 598h1v1h-1zM205 599h1v1h-1zM209 602h1v1h-1zM210 603h1v1h-1zM211 604h1v1h-1zM215 606h1v1h-1zM216 607h1v1h-1zM217 607h1v1h-1zM221 609h1v1h-1zM222 609h1v1h-1zM223 609h1v1h-1zM227 610h1v1h-1zM228 610h1v1h-1zM229 610h1v1h-1zM233 610h1v1h-1zM234 610h1v1h-1zM235 610h1v1h-1zM239 609h1v1h-1zM240 609h1v1h-1zM241 609h1v1h-1zM245 608h1v1h-1zM246 608h1v1h-1zM247 607h1v1h-1zM251 606h1v1h-1zM252 605h1v1h-1zM253 605h1v1h-1zM257 601h1v1h-1zM258 601h1v1h-1zM259 600h1v1h-1zM263 596h1v1h-1zM264 595h1v1h-1zM265 594h1v1h-1zM269 590h1v1h-1zM270 589h1v1h-1zM271 588h1v1h-1zM274 584h1v1h-1zM275 583h1v1h-1zM276 582h1v1h-1zM280 578h1v1h-1zM281 577h1v1h-1zM281 576h1v1h-1zM285 572h1v1h-1zM286 571h1v1h-1zM287 570h1v1h-1zM290 566h1v1h-1zM291 565h1v1h-1zM291 564h1v1h-1zM295 560h1v1h-1zM296 559h1v1h-1zM297 558h1v1h-1zM300 554h1v1h-1zM301 553h1v1h-1zM302 552h1v1h-1zM306 549h1v1h-1zM307 548h1v1h-1zM308 547h1v1h-1zM312 543h1v1h-1zM313 542h1v1h-1zM314 542h1v1h-1zM318 538h1v1h-1zM319 537h1v1h-1zM320 537h1v1h-1zM324 534h1v1h-1zM325 533h1v1h-1zM326 532h1v1h-1zM330 530h1v1h-1zM331 530h1v1h-1zM332 529h1v1h-1zM336 528h1v1h-1zM337 528h1v1h-1zM338 528h1v1h-1zM342 527h1v1h-1zM343 527h1v1h-1zM344 527h1v1h-1zM348 526h1v1h-1zM349 526h1v1h-1zM350 526h1v1h-1zM354 527h1v1h-1zM355 527h1v1h-1zM356 527h1v1h-1zM360 527h1v1h-1zM361 528h1v1h-1zM362 528h1v1h-1zM366 528h1v1h-1zM367 528h1v1h-1zM368 528h1v1h-1zM372 529h1v1h-1zM373 529h1v1h-1zM374 529h1v1h-1zM378 530h1v1h-1zM379 531h1v1h-1zM380 531h1v1h-1zM384 532h1v1h-1zM385 533h1v1h-1zM386 533h1v1h-1zM390 534h1v1h-1zM391 535h1v1h-1zM392 535h1v1h-1zM396 536h1v1h-1zM397 536h1v1h-1zM398 536h1v1h-1zM402 537h1v1h-1zM403 537h1v1h-1zM404 537h1v1h-1zM408 537h1v1h-1zM409 538h1v1h-1zM410 538h1v1h-1zM414 538h1v1h-1zM415 539h1v1h-1zM416 539h1v1h-1zM420 540h1v1h-1zM421 540h1v1h-1zM422 540h1v1h-1zM426 541h1v1h-1zM427 541h1v1h-1zM428 541h1v1h-1zM432 541h1v1h-1zM433 541h1v1h-1zM434 541h1v1h-1zM438 541h1v1h-1zM439 541h1v1h-1zM440 541h1v1h-1zM444 541h1v1h-1zM445 541h1v1h-1zM446 541h1v1h-1zM450 541h1v1h-1zM451 541h1v1h-1zM452 541h1v1h-1zM456 541h1v1h-1zM457 542h1v1h-1zM458 542h1v1h-1zM462 542h1v1h-1zM463 542h1v1h-1zM464 542h1v1h-1zM468 542h1v1h-1zM469 542h1v1h-1zM470 542h1v1h-1zM474 542h1v1h-1zM475 542h1v1h-1zM476 542h1v1h-1zM480 542h1v1h-1zM481 543h1v1h-1zM482 543h1v1h-1zM486 543h1v1h-1zM487 544h1v1h-1zM488 544h1v1h-1zM492 545h1v1h-1zM493 545h1v1h-1zM494 545h1v1h-1zM498 546h1v1h-1zM499 547h1v1h-1zM500 547h1v1h-1zM504 548h1v1h-1zM505 548h1v1h-1zM506 548h1v1h-1zM510 549h1v1h-1zM511 550h1v1h-1zM512 550h1v1h-1zM516 552h1v1h-1zM517 552h1v1h-1zM518 552h1v1h-1zM522 553h1v1h-1zM523 554h1v1h-1zM524 554h1v1h-1zM528 555h1v1h-1zM529 555h1v1h-1zM530 555h1v1h-1zM534 556h1v1h-1zM535 557h1v1h-1zM536 557h1v1h-1zM540 558h1v1h-1zM541 558h1v1h-1zM542 558h1v1h-1zM546 559h1v1h-1zM547 559h1v1h-1zM548 559h1v1h-1zM552 561h1v1h-1zM553 561h1v1h-1zM554 562h1v1h-1zM558 564h1v1h-1zM559 564h1v1h-1zM560 565h1v1h-1zM564 567h1v1h-1zM565 568h1v1h-1zM566 569h1v1h-1zM570 572h1v1h-1zM571 573h1v1h-1zM572 573h1v1h-1zM576 577h1v1h-1zM577 578h1v1h-1zM578 578h1v1h-1zM582 582h1v1h-1zM583 583h1v1h-1zM584 584h1v1h-1zM588 587h1v1h-1zM589 588h1v1h-1zM590 589h1v1h-1zM593 593h1v1h-1zM594 594h1v1h-1zM595 595h1v1h-1zM599 599h1v1h-1zM600 600h1v1h-1zM601 601h1v1h-1zM604 605h1v1h-1zM605 606h1v1h-1zM606 607h1v1h-1zM610 611h1v1h-1zM611 612h1v1h-1zM612 613h1v1h-1zM616 616h1v1h-1zM617 617h1v1h-1zM618 618h1v1h-1zM622 621h1v1h-1zM623 621h1v1h-1zM624 622h1v1h-1zM628 624h1v1h-1zM629 625h1v1h-1zM630 625h1v1h-1zM634 627h1v1h-1zM635 627h1v1h-1zM636 628h1v1h-1zM640 629h1v1h-1zM641 629h1v1h-1zM642 629h1v1h-1zM646 630h1v1h-1zM647 630h1v1h-1zM648 630h1v1h-1zM652 631h1v1h-1zM653 631h1v1h-1zM654 631h1v1h-1zM658 630h1v1h-1zM659 630h1v1h-1zM660 630h1v1h-1zM664 630h1v1h-1zM665 629h1v1h-1zM666 629h1v1h-1zM670 629h1v1h-1zM671 629h1v1h-1zM672 629h1v1h-1zM676 628h1v1h-1zM677 628h1v1h-1zM678 628h1v1h-1zM682 626h1v1h-1zM683 626h1v1h-1zM684 625h1v1h-1zM688 623h1v1h-1zM689 623h1v1h-1zM690 622h1v1h-1zM694 620h1v1h-1zM695 620h1v1h-1zM696 619h1v1h-1zM700 617h1v1h-1zM701 616h1v1h-1zM702 615h1v1h-1zM706 612h1v1h-1zM707 611h1v1h-1zM708 611h1v1h-1zM712 607h1v1h-1zM713 606h1v1h-1zM713 605h1v1h-1zM717 601h1v1h-1zM718 600h1v1h-1zM719 599h1v1h-1zM722 595h1v1h-1zM723 594h1v1h-1zM724 593h1v1h-1zM727 589h1v1h-1zM727 588h1v1h-1zM728 587h1v1h-1zM731 583h1v1h-1zM731 582h1v1h-1zM732 581h1v1h-1zM734 577h1v1h-1zM735 576h1v1h-1zM736 575h1v1h-1zM738 571h1v1h-1zM739 570h1v1h-1zM740 569h1v1h-1zM742 565h1v1h-1zM743 564h1v1h-1zM744 563h1v1h-1zM746 559h1v1h-1zM747 558h1v1h-1zM748 557h1v1h-1zM750 553h1v1h-1zM751 552h1v1h-1zM752 551h1v1h-1zM755 547h1v1h-1zM756 546h1v1h-1zM756 545h1v1h-1zM760 541h1v1h-1zM761 540h1v1h-1zM762 539h1v1h-1zM766 535h1v1h-1zM767 535h1v1h-1zM768 534h1v1h-1zM772 532h1v1h-1zM773 531h1v1h-1zM774 530h1v1h-1zM778 528h1v1h-1zM779 527h1v1h-1zM780 527h1v1h-1zM784 524h1v1h-1zM785 524h1v1h-1zM786 523h1v1h-1zM790 522h1v1h-1zM791 521h1v1h-1zM792 521h1v1h-1zM796 520h1v1h-1zM797 520h1v1h-1zM798 520h1v1h-1zM802 519h1v1h-1zM803 518h1v1h-1zM804 518h1v1h-1zM808 517h1v1h-1zM809 517h1v1h-1zM810 517h1v1h-1zM814 516h1v1h-1zM815 516h1v1h-1zM816 516h1v1h-1zM820 515h1v1h-1zM821 515h1v1h-1zM822 515h1v1h-1zM826 515h1v1h-1zM827 515h1v1h-1zM828 515h1v1h-1zM832 515h1v1h-1zM833 515h1v1h-1zM834 515h1v1h-1zM838 515h1v1h-1zM839 515h1v1h-1zM840 515h1v1h-1zM844 515h1v1h-1zM845 515h1v1h-1zM846 515h1v1h-1zM850 515h1v1h-1zM851 515h1v1h-1zM852 515h1v1h-1zM856 515h1v1h-1zM857 515h1v1h-1zM858 515h1v1h-1zM862 515h1v1h-1zM863 515h1v1h-1zM864 515h1v1h-1zM868 515h1v1h-1zM869 515h1v1h-1zM870 515h1v1h-1zM874 516h1v1h-1zM875 516h1v1h-1zM876 516h1v1h-1zM880 517h1v1h-1zM881 517h1v1h-1zM882 517h1v1h-1zM886 518h1v1h-1zM887 519h1v1h-1zM888 519h1v1h-1zM892 521h1v1h-1zM893 521h1v1h-1zM894 521h1v1h-1zM898 522h1v1h-1zM899 523h1v1h-1zM900 523h1v1h-1zM904 523h1v1h-1zM905 524h1v1h-1zM906 524h1v1h-1zM910 524h1v1h-1zM911 524h1v1h-1zM912 524h1v1h-1zM916 525h1v1h-1zM917 525h1v1h-1zM918 525h1v1h-1zM922 526h1v1h-1zM923 527h1v1h-1zM924 527h1v1h-1zM928 528h1v1h-1zM929 528h1v1h-1zM930 528h1v1h-1zM934 529h1v1h-1zM935 529h1v1h-1zM936 529h1v1h-1zM940 530h1v1h-1zM941 530h1v1h-1zM942 530h1v1h-1zM946 532h1v1h-1zM947 532h1v1h-1zM948 533h1v1h-1zM952 534h1v1h-1zM953 534h1v1h-1zM954 534h1v1h-1zM958 535h1v1h-1zM959 536h1v1h-1zM960 536h1v1h-1zM964 537h1v1h-1zM965 537h1v1h-1zM966 537h1v1h-1zM970 539h1v1h-1zM971 539h1v1h-1zM972 540h1v1h-1zM976 541h1v1h-1zM977 541h1v1h-1zM978 541h1v1h-1zM982 542h1v1h-1zM983 543h1v1h-1zM984 543h1v1h-1zM988 545h1v1h-1zM989 545h1v1h-1zM990 545h1v1h-1zM994 546h1v1h-1zM995 547h1v1h-1zM996 547h1v1h-1zM1000 547h1v1h-1zM1001 547h1v1h-1zM1002 547h1v1h-1zM1006 547h1v1h-1zM1007 547h1v1h-1zM1008 547h1v1h-1zM1012 548h1v1h-1zM1013 548h1v1h-1zM1014 548h1v1h-1zM1018 548h1v1h-1zM1019 548h1v1h-1zM1020 548h1v1h-1zM1024 547h1v1h-1zM1025 547h1v1h-1zM1026 547h1v1h-1zM1030 546h1v1h-1zM1031 546h1v1h-1zM1032 546h1v1h-1zM1036 545h1v1h-1zM1037 545h1v1h-1zM1038 545h1v1h-1zM1042 544h1v1h-1zM1043 543h1v1h-1zM1044 543h1v1h-1zM1048 542h1v1h-1zM1049 542h1v1h-1zM1050 542h1v1h-1zM1054 541h1v1h-1zM1055 541h1v1h-1zM1056 541h1v1h-1zM1060 540h1v1h-1zM1061 540h1v1h-1zM1062 540h1v1h-1zM1066 539h1v1h-1zM1067 538h1v1h-1zM1068 538h1v1h-1zM1072 537h1v1h-1zM1073 537h1v1h-1zM1074 537h1v1h-1zM1078 536h1v1h-1zM1079 536h1v1h-1zM1080 536h1v1h-1zM1084 535h1v1h-1zM1085 535h1v1h-1zM1086 535h1v1h-1zM1090 534h1v1h-1zM1091 534h1v1h-1zM1092 534h1v1h-1zM1096 534h1v1h-1zM1097 533h1v1h-1zM1098 533h1v1h-1zM1102 533h1v1h-1zM1103 533h1v1h-1zM1104 533h1v1h-1zM1108 532h1v1h-1zM1109 532h1v1h-1zM1110 532h1v1h-1zM1114 531h1v1h-1zM1115 531h1v1h-1zM1116 531h1v1h-1zM1120 531h1v1h-1zM1121 530h1v1h-1zM1122 530h1v1h-1zM1126 530h1v1h-1zM1127 530h1v1h-1zM1128 530h1v1h-1zM1132 529h1v1h-1zM1133 529h1v1h-1zM1134 529h1v1h-1zM1138 529h1v1h-1zM1139 529h1v1h-1zM1140 529h1v1h-1zM1144 529h1v1h-1zM1145 528h1v1h-1zM1146 528h1v1h-1zM1150 528h1v1h-1zM1151 528h1v1h-1zM1152 528h1v1h-1zM1156 527h1v1h-1zM1157 527h1v1h-1zM1158 527h1v1h-1zM1162 526h1v1h-1zM1163 526h1v1h-1zM1164 526h1v1h-1zM1168 526h1v1h-1zM1169 525h1v1h-1zM1170 525h1v1h-1zM1174 525h1v1h-1zM1175 525h1v1h-1zM1176 525h1v1h-1zM1180 525h1v1h-1zM1181 525h1v1h-1zM1182 525h1v1h-1zM1186 525h1v1h-1zM1187 525h1v1h-1zM1188 525h1v1h-1zM1192 525h1v1h-1zM1193 525h1v1h-1zM1194 525h1v1h-1zM1198 525h1v1h-1zM1199 525h1v1h-1zM1200 525h1v1h-1zM1204 525h1v1h-1zM1205 525h1v1h-1zM1206 525h1v1h-1zM1210 525h1v1h-1zM1211 525h1v1h-1zM1212 525h1v1h-1zM1216 525h1v1h-1zM1217 525h1v1h-1zM1218 525h1v1h-1zM1222 525h1v1h-1zM1223 525h1v1h-1zM1224 525h1v1h-1zM1228 525h1v1h-1zM1229 525h1v1h-1zM1230 525h1v1h-1zM1234 526h1v1h-1zM1235 527h1v1h-1zM1236 527h1v1h-1zM1240 527h1v1h-1zM1241 527h1v1h-1zM1242 527h1v1h-1zM1246 527h1v1h-1zM1247 527h1v1h-1zM1248 527h1v1h-1zM1252 527h1v1h-1zM1253 527h1v1h-1zM1254 527h1v1h-1zM1258 528h1v1h-1zM1259 528h1v1h-1zM1260 528h1v1h-1zM1264 528h1v1h-1zM1265 528h1v1h-1zM1266 528h1v1h-1zM1270 528h1v1h-1zM1271 528h1v1h-1zM1272 528h1v1h-1zM1276 528h1v1h-1zM1277 528h1v1h-1zM1278 528h1v1h-1zM1282 529h1v1h-1zM1283 529h1v1h-1zM1284 529h1v1h-1zM1288 529h1v1h-1zM1289 530h1v1h-1zM1290 530h1v1h-1zM1294 530h1v1h-1zM1295 531h1v1h-1zM1296 531h1v1h-1zM1300 532h1v1h-1zM1301 532h1v1h-1zM1302 532h1v1h-1zM1306 534h1v1h-1zM1307 534h1v1h-1zM1308 535h1v1h-1zM1312 536h1v1h-1zM1313 537h1v1h-1zM1314 537h1v1h-1zM1318 539h1v1h-1zM1319 539h1v1h-1zM1320 540h1v1h-1zM1324 542h1v1h-1zM1325 542h1v1h-1zM1326 543h1v1h-1zM1330 545h1v1h-1zM1331 546h1v1h-1zM1332 546h1v1h-1zM1336 549h1v1h-1zM1337 549h1v1h-1zM1338 550h1v1h-1zM1342 552h1v1h-1zM1343 552h1v1h-1zM1344 553h1v1h-1zM1348 555h1v1h-1zM1349 555h1v1h-1zM1350 556h1v1h-1zM1354 558h1v1h-1zM1355 558h1v1h-1zM1356 559h1v1h-1zM1360 561h1v1h-1zM1361 561h1v1h-1zM1362 562h1v1h-1zM1366 563h1v1h-1zM1367 563h1v1h-1zM1368 563h1v1h-1zM1372 564h1v1h-1zM1373 564h1v1h-1zM1374 564h1v1h-1zM1378 565h1v1h-1zM1379 565h1v1h-1zM1380 565h1v1h-1zM1384 565h1v1h-1zM1385 566h1v1h-1zM1386 566h1v1h-1zM1390 566h1v1h-1zM1391 566h1v1h-1zM1392 566h1v1h-1zM1396 567h1v1h-1zM1397 567h1v1h-1zM1398 567h1v1h-1zM1402 567h1v1h-1zM1403 567h1v1h-1zM1404 567h1v1h-1zM1408 566h1v1h-1zM1409 566h1v1h-1zM1410 566h1v1h-1zM1414 565h1v1h-1zM1415 564h1v1h-1zM1416 564h1v1h-1zM1420 563h1v1h-1zM1421 563h1v1h-1zM1422 563h1v1h-1zM1426 561h1v1h-1zM1427 561h1v1h-1zM1428 560h1v1h-1zM1432 559h1v1h-1zM1433 558h1v1h-1zM1434 558h1v1h-1zM1438 557h1v1h-1zM1439 556h1v1h-1zM1440 556h1v1h-1zM1444 554h1v1h-1zM1445 554h1v1h-1zM1446 554h1v1h-1zM1450 552h1v1h-1zM1451 552h1v1h-1zM1452 551h1v1h-1zM1456 550h1v1h-1zM1457 549h1v1h-1zM1458 549h1v1h-1zM1462 547h1v1h-1zM1463 547h1v1h-1zM1464 546h1v1h-1zM1468 544h1v1h-1zM1469 544h1v1h-1zM1470 544h1v1h-1zM1474 542h1v1h-1zM1475 542h1v1h-1zM1476 541h1v1h-1zM1480 540h1v1h-1zM1481 539h1v1h-1zM1482 539h1v1h-1zM1486 538h1v1h-1zM1487 537h1v1h-1zM1488 537h1v1h-1zM1492 536h1v1h-1zM1493 536h1v1h-1zM1494 536h1v1h-1zM1498 535h1v1h-1zM1499 534h1v1h-1zM1500 534h1v1h-1zM1504 534h1v1h-1zM1505 533h1v1h-1zM1506 533h1v1h-1zM1510 533h1v1h-1zM1511 533h1v1h-1zM1512 533h1v1h-1zM1516 532h1v1h-1zM1517 532h1v1h-1zM1518 532h1v1h-1zM1522 532h1v1h-1zM1523 532h1v1h-1zM1524 532h1v1h-1zM1528 532h1v1h-1zM1529 532h1v1h-1zM1530 532h1v1h-1zM1534 532h1v1h-1zM1535 532h1v1h-1zM1536 532h1v1h-1zM1540 532h1v1h-1zM1541 532h1v1h-1zM1542 532h1v1h-1zM1546 533h1v1h-1zM1547 533h1v1h-1zM1548 533h1v1h-1zM1552 533h1v1h-1zM1553 534h1v1h-1zM1554 534h1v1h-1zM1558 534h1v1h-1zM1559 534h1v1h-1zM1560 534h1v1h-1zM1564 535h1v1h-1zM1565 535h1v1h-1zM1566 535h1v1h-1zM1570 536h1v1h-1zM1571 536h1v1h-1zM1572 536h1v1h-1zM1576 537h1v1h-1zM1577 537h1v1h-1zM1578 537h1v1h-1zM1582 538h1v1h-1zM1583 539h1v1h-1zM1584 539h1v1h-1zM1588 541h1v1h-1zM1589 541h1v1h-1zM1590 541h1v1h-1zM1594 542h1v1h-1zM1595 543h1v1h-1zM1596 543h1v1h-1zM1600 544h1v1h-1zM1601 545h1v1h-1zM1602 545h1v1h-1zM1606 546h1v1h-1zM1607 547h1v1h-1zM1608 547h1v1h-1zM1612 549h1v1h-1zM1613 549h1v1h-1zM1614 549h1v1h-1zM1618 551h1v1h-1zM1619 551h1v1h-1zM1620 552h1v1h-1zM1624 554h1v1h-1zM1625 554h1v1h-1zM1626 555h1v1h-1zM1630 556h1v1h-1zM1631 557h1v1h-1zM1632 557h1v1h-1zM1636 559h1v1h-1zM1637 559h1v1h-1zM1638 559h1v1h-1zM1642 561h1v1h-1zM1643 561h1v1h-1zM1644 562h1v1h-1zM1648 563h1v1h-1zM1649 564h1v1h-1zM1650 564h1v1h-1zM1654 565h1v1h-1zM1655 566h1v1h-1zM1656 566h1v1h-1zM1660 568h1v1h-1zM1661 568h1v1h-1zM1662 568h1v1h-1zM1666 569h1v1h-1zM1667 570h1v1h-1zM1668 570h1v1h-1z" fill="#ff0000"/>
</g>
<text class="t9" transform="matrix(1 0 0 1.05 9 515)">MACD(12,26,9) -0.0529 -0.0021</text>
<rect x="1691" y="571" width="2" height="1" fill="#000"/>
<text class="t9" transform="matrix(1 0 0 1.05 1694.3 513)">0.5497</text>
<text class="t9" transform="matrix(1 0 0 1.05 1694.3 575)">0.00</text>
<text class="t9" transform="matrix(1 0 0 1.05 1693.6 638)">-0.5685</text>
<rect x="1691" y="504" width="1" height="1" fill="#000"/>
<rect x="1691" y="640" width="1" height="1" fill="#000"/>
<rect x="1691" y="645" width="1" height="1" fill="#000"/>
<g clip-path="url(#crsi)">
<rect x="6" y="682" width="3" height="1" fill="#b4b4b4"/>
<rect x="12" y="682" width="3" height="1" fill="#b4b4b4"/>
<rect x="18" y="682" width="3" height="1" fill="#b4b4b4"/>
<rect x="24" y="682" width="3" height="1" fill="#b4b4b4"/>
<rect x="30" y="682" width="3" height="1" fill="#b4b4b4"/>
<rect x="36" y="682" width="3" height="1" fill="#b4b4b4"/>
<rect x="42" y="682" width="3" height="1" fill="#b4b4b4"/>
<rect x="48" y="682" width="3" height="1" fill="#b4b4b4"/>
<rect x="54" y="682" width="3" height="1" fill="#b4b4b4"/>
<rect x="60" y="682" width="3" height="1" fill="#b4b4b4"/>
<rect x="66" y="682" width="3" height="1" fill="#b4b4b4"/>
<rect x="72" y="682" width="3" height="1" fill="#b4b4b4"/>
<rect x="78" y="682" width="3" height="1" fill="#b4b4b4"/>
<rect x="84" y="682" width="3" height="1" fill="#b4b4b4"/>
<rect x="90" y="682" width="3" height="1" fill="#b4b4b4"/>
<rect x="96" y="682" width="3" height="1" fill="#b4b4b4"/>
<rect x="102" y="682" width="3" height="1" fill="#b4b4b4"/>
<rect x="108" y="682" width="3" height="1" fill="#b4b4b4"/>
<rect x="114" y="682" width="3" height="1" fill="#b4b4b4"/>
<rect x="120" y="682" width="3" height="1" fill="#b4b4b4"/>
<rect x="126" y="682" width="3" height="1" fill="#b4b4b4"/>
<rect x="132" y="682" width="3" height="1" fill="#b4b4b4"/>
<rect x="138" y="682" width="3" height="1" fill="#b4b4b4"/>
<rect x="144" y="682" width="3" height="1" fill="#b4b4b4"/>
<rect x="150" y="682" width="3" height="1" fill="#b4b4b4"/>
<rect x="156" y="682" width="3" height="1" fill="#b4b4b4"/>
<rect x="162" y="682" width="3" height="1" fill="#b4b4b4"/>
<rect x="168" y="682" width="3" height="1" fill="#b4b4b4"/>
<rect x="174" y="682" width="3" height="1" fill="#b4b4b4"/>
<rect x="180" y="682" width="3" height="1" fill="#b4b4b4"/>
<rect x="186" y="682" width="3" height="1" fill="#b4b4b4"/>
<rect x="192" y="682" width="3" height="1" fill="#b4b4b4"/>
<rect x="198" y="682" width="3" height="1" fill="#b4b4b4"/>
<rect x="204" y="682" width="3" height="1" fill="#b4b4b4"/>
<rect x="210" y="682" width="3" height="1" fill="#b4b4b4"/>
<rect x="216" y="682" width="3" height="1" fill="#b4b4b4"/>
<rect x="222" y="682" width="3" height="1" fill="#b4b4b4"/>
<rect x="228" y="682" width="3" height="1" fill="#b4b4b4"/>
<rect x="234" y="682" width="3" height="1" fill="#b4b4b4"/>
<rect x="240" y="682" width="3" height="1" fill="#b4b4b4"/>
<rect x="246" y="682" width="3" height="1" fill="#b4b4b4"/>
<rect x="252" y="682" width="3" height="1" fill="#b4b4b4"/>
<rect x="258" y="682" width="3" height="1" fill="#b4b4b4"/>
<rect x="264" y="682" width="3" height="1" fill="#b4b4b4"/>
<rect x="270" y="682" width="3" height="1" fill="#b4b4b4"/>
<rect x="276" y="682" width="3" height="1" fill="#b4b4b4"/>
<rect x="282" y="682" width="3" height="1" fill="#b4b4b4"/>
<rect x="288" y="682" width="3" height="1" fill="#b4b4b4"/>
<rect x="294" y="682" width="3" height="1" fill="#b4b4b4"/>
<rect x="300" y="682" width="3" height="1" fill="#b4b4b4"/>
<rect x="306" y="682" width="3" height="1" fill="#b4b4b4"/>
<rect x="312" y="682" width="3" height="1" fill="#b4b4b4"/>
<rect x="318" y="682" width="3" height="1" fill="#b4b4b4"/>
<rect x="324" y="682" width="3" height="1" fill="#b4b4b4"/>
<rect x="330" y="682" width="3" height="1" fill="#b4b4b4"/>
<rect x="336" y="682" width="3" height="1" fill="#b4b4b4"/>
<rect x="342" y="682" width="3" height="1" fill="#b4b4b4"/>
<rect x="348" y="682" width="3" height="1" fill="#b4b4b4"/>
<rect x="354" y="682" width="3" height="1" fill="#b4b4b4"/>
<rect x="360" y="682" width="3" height="1" fill="#b4b4b4"/>
<rect x="366" y="682" width="3" height="1" fill="#b4b4b4"/>
<rect x="372" y="682" width="3" height="1" fill="#b4b4b4"/>
<rect x="378" y="682" width="3" height="1" fill="#b4b4b4"/>
<rect x="384" y="682" width="3" height="1" fill="#b4b4b4"/>
<rect x="390" y="682" width="3" height="1" fill="#b4b4b4"/>
<rect x="396" y="682" width="3" height="1" fill="#b4b4b4"/>
<rect x="402" y="682" width="3" height="1" fill="#b4b4b4"/>
<rect x="408" y="682" width="3" height="1" fill="#b4b4b4"/>
<rect x="414" y="682" width="3" height="1" fill="#b4b4b4"/>
<rect x="420" y="682" width="3" height="1" fill="#b4b4b4"/>
<rect x="426" y="682" width="3" height="1" fill="#b4b4b4"/>
<rect x="432" y="682" width="3" height="1" fill="#b4b4b4"/>
<rect x="438" y="682" width="3" height="1" fill="#b4b4b4"/>
<rect x="444" y="682" width="3" height="1" fill="#b4b4b4"/>
<rect x="450" y="682" width="3" height="1" fill="#b4b4b4"/>
<rect x="456" y="682" width="3" height="1" fill="#b4b4b4"/>
<rect x="462" y="682" width="3" height="1" fill="#b4b4b4"/>
<rect x="468" y="682" width="3" height="1" fill="#b4b4b4"/>
<rect x="474" y="682" width="3" height="1" fill="#b4b4b4"/>
<rect x="480" y="682" width="3" height="1" fill="#b4b4b4"/>
<rect x="486" y="682" width="3" height="1" fill="#b4b4b4"/>
<rect x="492" y="682" width="3" height="1" fill="#b4b4b4"/>
<rect x="498" y="682" width="3" height="1" fill="#b4b4b4"/>
<rect x="504" y="682" width="3" height="1" fill="#b4b4b4"/>
<rect x="510" y="682" width="3" height="1" fill="#b4b4b4"/>
<rect x="516" y="682" width="3" height="1" fill="#b4b4b4"/>
<rect x="522" y="682" width="3" height="1" fill="#b4b4b4"/>
<rect x="528" y="682" width="3" height="1" fill="#b4b4b4"/>
<rect x="534" y="682" width="3" height="1" fill="#b4b4b4"/>
<rect x="540" y="682" width="3" height="1" fill="#b4b4b4"/>
<rect x="546" y="682" width="3" height="1" fill="#b4b4b4"/>
<rect x="552" y="682" width="3" height="1" fill="#b4b4b4"/>
<rect x="558" y="682" width="3" height="1" fill="#b4b4b4"/>
<rect x="564" y="682" width="3" height="1" fill="#b4b4b4"/>
<rect x="570" y="682" width="3" height="1" fill="#b4b4b4"/>
<rect x="576" y="682" width="3" height="1" fill="#b4b4b4"/>
<rect x="582" y="682" width="3" height="1" fill="#b4b4b4"/>
<rect x="588" y="682" width="3" height="1" fill="#b4b4b4"/>
<rect x="594" y="682" width="3" height="1" fill="#b4b4b4"/>
<rect x="600" y="682" width="3" height="1" fill="#b4b4b4"/>
<rect x="606" y="682" width="3" height="1" fill="#b4b4b4"/>
<rect x="612" y="682" width="3" height="1" fill="#b4b4b4"/>
<rect x="618" y="682" width="3" height="1" fill="#b4b4b4"/>
<rect x="624" y="682" width="3" height="1" fill="#b4b4b4"/>
<rect x="630" y="682" width="3" height="1" fill="#b4b4b4"/>
<rect x="636" y="682" width="3" height="1" fill="#b4b4b4"/>
<rect x="642" y="682" width="3" height="1" fill="#b4b4b4"/>
<rect x="648" y="682" width="3" height="1" fill="#b4b4b4"/>
<rect x="654" y="682" width="3" height="1" fill="#b4b4b4"/>
<rect x="660" y="682" width="3" height="1" fill="#b4b4b4"/>
<rect x="666" y="682" width="3" height="1" fill="#b4b4b4"/>
<rect x="672" y="682" width="3" height="1" fill="#b4b4b4"/>
<rect x="678" y="682" width="3" height="1" fill="#b4b4b4"/>
<rect x="684" y="682" width="3" height="1" fill="#b4b4b4"/>
<rect x="690" y="682" width="3" height="1" fill="#b4b4b4"/>
<rect x="696" y="682" width="3" height="1" fill="#b4b4b4"/>
<rect x="702" y="682" width="3" height="1" fill="#b4b4b4"/>
<rect x="708" y="682" width="3" height="1" fill="#b4b4b4"/>
<rect x="714" y="682" width="3" height="1" fill="#b4b4b4"/>
<rect x="720" y="682" width="3" height="1" fill="#b4b4b4"/>
<rect x="726" y="682" width="3" height="1" fill="#b4b4b4"/>
<rect x="732" y="682" width="3" height="1" fill="#b4b4b4"/>
<rect x="738" y="682" width="3" height="1" fill="#b4b4b4"/>
<rect x="744" y="682" width="3" height="1" fill="#b4b4b4"/>
<rect x="750" y="682" width="3" height="1" fill="#b4b4b4"/>
<rect x="756" y="682" width="3" height="1" fill="#b4b4b4"/>
<rect x="762" y="682" width="3" height="1" fill="#b4b4b4"/>
<rect x="768" y="682" width="3" height="1" fill="#b4b4b4"/>
<rect x="774" y="682" width="3" height="1" fill="#b4b4b4"/>
<rect x="780" y="682" width="3" height="1" fill="#b4b4b4"/>
<rect x="786" y="682" width="3" height="1" fill="#b4b4b4"/>
<rect x="792" y="682" width="3" height="1" fill="#b4b4b4"/>
<rect x="798" y="682" width="3" height="1" fill="#b4b4b4"/>
<rect x="804" y="682" width="3" height="1" fill="#b4b4b4"/>
<rect x="810" y="682" width="3" height="1" fill="#b4b4b4"/>
<rect x="816" y="682" width="3" height="1" fill="#b4b4b4"/>
<rect x="822" y="682" width="3" height="1" fill="#b4b4b4"/>
<rect x="828" y="682" width="3" height="1" fill="#b4b4b4"/>
<rect x="834" y="682" width="3" height="1" fill="#b4b4b4"/>
<rect x="840" y="682" width="3" height="1" fill="#b4b4b4"/>
<rect x="846" y="682" width="3" height="1" fill="#b4b4b4"/>
<rect x="852" y="682" width="3" height="1" fill="#b4b4b4"/>
<rect x="858" y="682" width="3" height="1" fill="#b4b4b4"/>
<rect x="864" y="682" width="3" height="1" fill="#b4b4b4"/>
<rect x="870" y="682" width="3" height="1" fill="#b4b4b4"/>
<rect x="876" y="682" width="3" height="1" fill="#b4b4b4"/>
<rect x="882" y="682" width="3" height="1" fill="#b4b4b4"/>
<rect x="888" y="682" width="3" height="1" fill="#b4b4b4"/>
<rect x="894" y="682" width="3" height="1" fill="#b4b4b4"/>
<rect x="900" y="682" width="3" height="1" fill="#b4b4b4"/>
<rect x="906" y="682" width="3" height="1" fill="#b4b4b4"/>
<rect x="912" y="682" width="3" height="1" fill="#b4b4b4"/>
<rect x="918" y="682" width="3" height="1" fill="#b4b4b4"/>
<rect x="924" y="682" width="3" height="1" fill="#b4b4b4"/>
<rect x="930" y="682" width="3" height="1" fill="#b4b4b4"/>
<rect x="936" y="682" width="3" height="1" fill="#b4b4b4"/>
<rect x="942" y="682" width="3" height="1" fill="#b4b4b4"/>
<rect x="948" y="682" width="3" height="1" fill="#b4b4b4"/>
<rect x="954" y="682" width="3" height="1" fill="#b4b4b4"/>
<rect x="960" y="682" width="3" height="1" fill="#b4b4b4"/>
<rect x="966" y="682" width="3" height="1" fill="#b4b4b4"/>
<rect x="972" y="682" width="3" height="1" fill="#b4b4b4"/>
<rect x="978" y="682" width="3" height="1" fill="#b4b4b4"/>
<rect x="984" y="682" width="3" height="1" fill="#b4b4b4"/>
<rect x="990" y="682" width="3" height="1" fill="#b4b4b4"/>
<rect x="996" y="682" width="3" height="1" fill="#b4b4b4"/>
<rect x="1002" y="682" width="3" height="1" fill="#b4b4b4"/>
<rect x="1008" y="682" width="3" height="1" fill="#b4b4b4"/>
<rect x="1014" y="682" width="3" height="1" fill="#b4b4b4"/>
<rect x="1020" y="682" width="3" height="1" fill="#b4b4b4"/>
<rect x="1026" y="682" width="3" height="1" fill="#b4b4b4"/>
<rect x="1032" y="682" width="3" height="1" fill="#b4b4b4"/>
<rect x="1038" y="682" width="3" height="1" fill="#b4b4b4"/>
<rect x="1044" y="682" width="3" height="1" fill="#b4b4b4"/>
<rect x="1050" y="682" width="3" height="1" fill="#b4b4b4"/>
<rect x="1056" y="682" width="3" height="1" fill="#b4b4b4"/>
<rect x="1062" y="682" width="3" height="1" fill="#b4b4b4"/>
<rect x="1068" y="682" width="3" height="1" fill="#b4b4b4"/>
<rect x="1074" y="682" width="3" height="1" fill="#b4b4b4"/>
<rect x="1080" y="682" width="3" height="1" fill="#b4b4b4"/>
<rect x="1086" y="682" width="3" height="1" fill="#b4b4b4"/>
<rect x="1092" y="682" width="3" height="1" fill="#b4b4b4"/>
<rect x="1098" y="682" width="3" height="1" fill="#b4b4b4"/>
<rect x="1104" y="682" width="3" height="1" fill="#b4b4b4"/>
<rect x="1110" y="682" width="3" height="1" fill="#b4b4b4"/>
<rect x="1116" y="682" width="3" height="1" fill="#b4b4b4"/>
<rect x="1122" y="682" width="3" height="1" fill="#b4b4b4"/>
<rect x="1128" y="682" width="3" height="1" fill="#b4b4b4"/>
<rect x="1134" y="682" width="3" height="1" fill="#b4b4b4"/>
<rect x="1140" y="682" width="3" height="1" fill="#b4b4b4"/>
<rect x="1146" y="682" width="3" height="1" fill="#b4b4b4"/>
<rect x="1152" y="682" width="3" height="1" fill="#b4b4b4"/>
<rect x="1158" y="682" width="3" height="1" fill="#b4b4b4"/>
<rect x="1164" y="682" width="3" height="1" fill="#b4b4b4"/>
<rect x="1170" y="682" width="3" height="1" fill="#b4b4b4"/>
<rect x="1176" y="682" width="3" height="1" fill="#b4b4b4"/>
<rect x="1182" y="682" width="3" height="1" fill="#b4b4b4"/>
<rect x="1188" y="682" width="3" height="1" fill="#b4b4b4"/>
<rect x="1194" y="682" width="3" height="1" fill="#b4b4b4"/>
<rect x="1200" y="682" width="3" height="1" fill="#b4b4b4"/>
<rect x="1206" y="682" width="3" height="1" fill="#b4b4b4"/>
<rect x="1212" y="682" width="3" height="1" fill="#b4b4b4"/>
<rect x="1218" y="682" width="3" height="1" fill="#b4b4b4"/>
<rect x="1224" y="682" width="3" height="1" fill="#b4b4b4"/>
<rect x="1230" y="682" width="3" height="1" fill="#b4b4b4"/>
<rect x="1236" y="682" width="3" height="1" fill="#b4b4b4"/>
<rect x="1242" y="682" width="3" height="1" fill="#b4b4b4"/>
<rect x="1248" y="682" width="3" height="1" fill="#b4b4b4"/>
<rect x="1254" y="682" width="3" height="1" fill="#b4b4b4"/>
<rect x="1260" y="682" width="3" height="1" fill="#b4b4b4"/>
<rect x="1266" y="682" width="3" height="1" fill="#b4b4b4"/>
<rect x="1272" y="682" width="3" height="1" fill="#b4b4b4"/>
<rect x="1278" y="682" width="3" height="1" fill="#b4b4b4"/>
<rect x="1284" y="682" width="3" height="1" fill="#b4b4b4"/>
<rect x="1290" y="682" width="3" height="1" fill="#b4b4b4"/>
<rect x="1296" y="682" width="3" height="1" fill="#b4b4b4"/>
<rect x="1302" y="682" width="3" height="1" fill="#b4b4b4"/>
<rect x="1308" y="682" width="3" height="1" fill="#b4b4b4"/>
<rect x="1314" y="682" width="3" height="1" fill="#b4b4b4"/>
<rect x="1320" y="682" width="3" height="1" fill="#b4b4b4"/>
<rect x="1326" y="682" width="3" height="1" fill="#b4b4b4"/>
<rect x="1332" y="682" width="3" height="1" fill="#b4b4b4"/>
<rect x="1338" y="682" width="3" height="1" fill="#b4b4b4"/>
<rect x="1344" y="682" width="3" height="1" fill="#b4b4b4"/>
<rect x="1350" y="682" width="3" height="1" fill="#b4b4b4"/>
<rect x="1356" y="682" width="3" height="1" fill="#b4b4b4"/>
<rect x="1362" y="682" width="3" height="1" fill="#b4b4b4"/>
<rect x="1368" y="682" width="3" height="1" fill="#b4b4b4"/>
<rect x="1374" y="682" width="3" height="1" fill="#b4b4b4"/>
<rect x="1380" y="682" width="3" height="1" fill="#b4b4b4"/>
<rect x="1386" y="682" width="3" height="1" fill="#b4b4b4"/>
<rect x="1392" y="682" width="3" height="1" fill="#b4b4b4"/>
<rect x="1398" y="682" width="3" height="1" fill="#b4b4b4"/>
<rect x="1404" y="682" width="3" height="1" fill="#b4b4b4"/>
<rect x="1410" y="682" width="3" height="1" fill="#b4b4b4"/>
<rect x="1416" y="682" width="3" height="1" fill="#b4b4b4"/>
<rect x="1422" y="682" width="3" height="1" fill="#b4b4b4"/>
<rect x="1428" y="682" width="3" height="1" fill="#b4b4b4"/>
<rect x="1434" y="682" width="3" height="1" fill="#b4b4b4"/>
<rect x="1440" y="682" width="3" height="1" fill="#b4b4b4"/>
<rect x="1446" y="682" width="3" height="1" fill="#b4b4b4"/>
<rect x="1452" y="682" width="3" height="1" fill="#b4b4b4"/>
<rect x="1458" y="682" width="3" height="1" fill="#b4b4b4"/>
<rect x="1464" y="682" width="3" height="1" fill="#b4b4b4"/>
<rect x="1470" y="682" width="3" height="1" fill="#b4b4b4"/>
<rect x="1476" y="682" width="3" height="1" fill="#b4b4b4"/>
<rect x="1482" y="682" width="3" height="1" fill="#b4b4b4"/>
<rect x="1488" y="682" width="3" height="1" fill="#b4b4b4"/>
<rect x="1494" y="682" width="3" height="1" fill="#b4b4b4"/>
<rect x="1500" y="682" width="3" height="1" fill="#b4b4b4"/>
<rect x="1506" y="682" width="3" height="1" fill="#b4b4b4"/>
<rect x="1512" y="682" width="3" height="1" fill="#b4b4b4"/>
<rect x="1518" y="682" width="3" height="1" fill="#b4b4b4"/>
<rect x="1524" y="682" width="3" height="1" fill="#b4b4b4"/>
<rect x="1530" y="682" width="3" height="1" fill="#b4b4b4"/>
<rect x="1536" y="682" width="3" height="1" fill="#b4b4b4"/>
<rect x="1542" y="682" width="3" height="1" fill="#b4b4b4"/>
<rect x="1548" y="682" width="3" height="1" fill="#b4b4b4"/>
<rect x="1554" y="682" width="3" height="1" fill="#b4b4b4"/>
<rect x="1560" y="682" width="3" height="1" fill="#b4b4b4"/>
<rect x="1566" y="682" width="3" height="1" fill="#b4b4b4"/>
<rect x="1572" y="682" width="3" height="1" fill="#b4b4b4"/>
<rect x="1578" y="682" width="3" height="1" fill="#b4b4b4"/>
<rect x="1584" y="682" width="3" height="1" fill="#b4b4b4"/>
<rect x="1590" y="682" width="3" height="1" fill="#b4b4b4"/>
<rect x="1596" y="682" width="3" height="1" fill="#b4b4b4"/>
<rect x="1602" y="682" width="3" height="1" fill="#b4b4b4"/>
<rect x="1608" y="682" width="3" height="1" fill="#b4b4b4"/>
<rect x="1614" y="682" width="3" height="1" fill="#b4b4b4"/>
<rect x="1620" y="682" width="3" height="1" fill="#b4b4b4"/>
<rect x="1626" y="682" width="3" height="1" fill="#b4b4b4"/>
<rect x="1632" y="682" width="3" height="1" fill="#b4b4b4"/>
<rect x="1638" y="682" width="3" height="1" fill="#b4b4b4"/>
<rect x="1644" y="682" width="3" height="1" fill="#b4b4b4"/>
<rect x="1650" y="682" width="3" height="1" fill="#b4b4b4"/>
<rect x="1656" y="682" width="3" height="1" fill="#b4b4b4"/>
<rect x="1662" y="682" width="3" height="1" fill="#b4b4b4"/>
<rect x="1668" y="682" width="3" height="1" fill="#b4b4b4"/>
<rect x="1674" y="682" width="3" height="1" fill="#b4b4b4"/>
<rect x="1680" y="682" width="3" height="1" fill="#b4b4b4"/>
<rect x="1686" y="682" width="3" height="1" fill="#b4b4b4"/>
<rect x="6" y="732" width="3" height="1" fill="#b4b4b4"/>
<rect x="12" y="732" width="3" height="1" fill="#b4b4b4"/>
<rect x="18" y="732" width="3" height="1" fill="#b4b4b4"/>
<rect x="24" y="732" width="3" height="1" fill="#b4b4b4"/>
<rect x="30" y="732" width="3" height="1" fill="#b4b4b4"/>
<rect x="36" y="732" width="3" height="1" fill="#b4b4b4"/>
<rect x="42" y="732" width="3" height="1" fill="#b4b4b4"/>
<rect x="48" y="732" width="3" height="1" fill="#b4b4b4"/>
<rect x="54" y="732" width="3" height="1" fill="#b4b4b4"/>
<rect x="60" y="732" width="3" height="1" fill="#b4b4b4"/>
<rect x="66" y="732" width="3" height="1" fill="#b4b4b4"/>
<rect x="72" y="732" width="3" height="1" fill="#b4b4b4"/>
<rect x="78" y="732" width="3" height="1" fill="#b4b4b4"/>
<rect x="84" y="732" width="3" height="1" fill="#b4b4b4"/>
<rect x="90" y="732" width="3" height="1" fill="#b4b4b4"/>
<rect x="96" y="732" width="3" height="1" fill="#b4b4b4"/>
<rect x="102" y="732" width="3" height="1" fill="#b4b4b4"/>
<rect x="108" y="732" width="3" height="1" fill="#b4b4b4"/>
<rect x="114" y="732" width="3" height="1" fill="#b4b4b4"/>
<rect x="120" y="732" width="3" height="1" fill="#b4b4b4"/>
<rect x="126" y="732" width="3" height="1" fill="#b4b4b4"/>
<rect x="132" y="732" width="3" height="1" fill="#b4b4b4"/>
<rect x="138" y="732" width="3" height="1" fill="#b4b4b4"/>
<rect x="144" y="732" width="3" height="1" fill="#b4b4b4"/>
<rect x="150" y="732" width="3" height="1" fill="#b4b4b4"/>
<rect x="156" y="732" width="3" height="1" fill="#b4b4b4"/>
<rect x="162" y="732" width="3" height="1" fill="#b4b4b4"/>
<rect x="168" y="732" width="3" height="1" fill="#b4b4b4"/>
<rect x="174" y="732" width="3" height="1" fill="#b4b4b4"/>
<rect x="180" y="732" width="3" height="1" fill="#b4b4b4"/>
<rect x="186" y="732" width="3" height="1" fill="#b4b4b4"/>
<rect x="192" y="732" width="3" height="1" fill="#b4b4b4"/>
<rect x="198" y="732" width="3" height="1" fill="#b4b4b4"/>
<rect x="204" y="732" width="3" height="1" fill="#b4b4b4"/>
<rect x="210" y="732" width="3" height="1" fill="#b4b4b4"/>
<rect x="216" y="732" width="3" height="1" fill="#b4b4b4"/>
<rect x="222" y="732" width="3" height="1" fill="#b4b4b4"/>
<rect x="228" y="732" width="3" height="1" fill="#b4b4b4"/>
<rect x="234" y="732" width="3" height="1" fill="#b4b4b4"/>
<rect x="240" y="732" width="3" height="1" fill="#b4b4b4"/>
<rect x="246" y="732" width="3" height="1" fill="#b4b4b4"/>
<rect x="252" y="732" width="3" height="1" fill="#b4b4b4"/>
<rect x="258" y="732" width="3" height="1" fill="#b4b4b4"/>
<rect x="264" y="732" width="3" height="1" fill="#b4b4b4"/>
<rect x="270" y="732" width="3" height="1" fill="#b4b4b4"/>
<rect x="276" y="732" width="3" height="1" fill="#b4b4b4"/>
<rect x="282" y="732" width="3" height="1" fill="#b4b4b4"/>
<rect x="288" y="732" width="3" height="1" fill="#b4b4b4"/>
<rect x="294" y="732" width="3" height="1" fill="#b4b4b4"/>
<rect x="300" y="732" width="3" height="1" fill="#b4b4b4"/>
<rect x="306" y="732" width="3" height="1" fill="#b4b4b4"/>
<rect x="312" y="732" width="3" height="1" fill="#b4b4b4"/>
<rect x="318" y="732" width="3" height="1" fill="#b4b4b4"/>
<rect x="324" y="732" width="3" height="1" fill="#b4b4b4"/>
<rect x="330" y="732" width="3" height="1" fill="#b4b4b4"/>
<rect x="336" y="732" width="3" height="1" fill="#b4b4b4"/>
<rect x="342" y="732" width="3" height="1" fill="#b4b4b4"/>
<rect x="348" y="732" width="3" height="1" fill="#b4b4b4"/>
<rect x="354" y="732" width="3" height="1" fill="#b4b4b4"/>
<rect x="360" y="732" width="3" height="1" fill="#b4b4b4"/>
<rect x="366" y="732" width="3" height="1" fill="#b4b4b4"/>
<rect x="372" y="732" width="3" height="1" fill="#b4b4b4"/>
<rect x="378" y="732" width="3" height="1" fill="#b4b4b4"/>
<rect x="384" y="732" width="3" height="1" fill="#b4b4b4"/>
<rect x="390" y="732" width="3" height="1" fill="#b4b4b4"/>
<rect x="396" y="732" width="3" height="1" fill="#b4b4b4"/>
<rect x="402" y="732" width="3" height="1" fill="#b4b4b4"/>
<rect x="408" y="732" width="3" height="1" fill="#b4b4b4"/>
<rect x="414" y="732" width="3" height="1" fill="#b4b4b4"/>
<rect x="420" y="732" width="3" height="1" fill="#b4b4b4"/>
<rect x="426" y="732" width="3" height="1" fill="#b4b4b4"/>
<rect x="432" y="732" width="3" height="1" fill="#b4b4b4"/>
<rect x="438" y="732" width="3" height="1" fill="#b4b4b4"/>
<rect x="444" y="732" width="3" height="1" fill="#b4b4b4"/>
<rect x="450" y="732" width="3" height="1" fill="#b4b4b4"/>
<rect x="456" y="732" width="3" height="1" fill="#b4b4b4"/>
<rect x="462" y="732" width="3" height="1" fill="#b4b4b4"/>
<rect x="468" y="732" width="3" height="1" fill="#b4b4b4"/>
<rect x="474" y="732" width="3" height="1" fill="#b4b4b4"/>
<rect x="480" y="732" width="3" height="1" fill="#b4b4b4"/>
<rect x="486" y="732" width="3" height="1" fill="#b4b4b4"/>
<rect x="492" y="732" width="3" height="1" fill="#b4b4b4"/>
<rect x="498" y="732" width="3" height="1" fill="#b4b4b4"/>
<rect x="504" y="732" width="3" height="1" fill="#b4b4b4"/>
<rect x="510" y="732" width="3" height="1" fill="#b4b4b4"/>
<rect x="516" y="732" width="3" height="1" fill="#b4b4b4"/>
<rect x="522" y="732" width="3" height="1" fill="#b4b4b4"/>
<rect x="528" y="732" width="3" height="1" fill="#b4b4b4"/>
<rect x="534" y="732" width="3" height="1" fill="#b4b4b4"/>
<rect x="540" y="732" width="3" height="1" fill="#b4b4b4"/>
<rect x="546" y="732" width="3" height="1" fill="#b4b4b4"/>
<rect x="552" y="732" width="3" height="1" fill="#b4b4b4"/>
<rect x="558" y="732" width="3" height="1" fill="#b4b4b4"/>
<rect x="564" y="732" width="3" height="1" fill="#b4b4b4"/>
<rect x="570" y="732" width="3" height="1" fill="#b4b4b4"/>
<rect x="576" y="732" width="3" height="1" fill="#b4b4b4"/>
<rect x="582" y="732" width="3" height="1" fill="#b4b4b4"/>
<rect x="588" y="732" width="3" height="1" fill="#b4b4b4"/>
<rect x="594" y="732" width="3" height="1" fill="#b4b4b4"/>
<rect x="600" y="732" width="3" height="1" fill="#b4b4b4"/>
<rect x="606" y="732" width="3" height="1" fill="#b4b4b4"/>
<rect x="612" y="732" width="3" height="1" fill="#b4b4b4"/>
<rect x="618" y="732" width="3" height="1" fill="#b4b4b4"/>
<rect x="624" y="732" width="3" height="1" fill="#b4b4b4"/>
<rect x="630" y="732" width="3" height="1" fill="#b4b4b4"/>
<rect x="636" y="732" width="3" height="1" fill="#b4b4b4"/>
<rect x="642" y="732" width="3" height="1" fill="#b4b4b4"/>
<rect x="648" y="732" width="3" height="1" fill="#b4b4b4"/>
<rect x="654" y="732" width="3" height="1" fill="#b4b4b4"/>
<rect x="660" y="732" width="3" height="1" fill="#b4b4b4"/>
<rect x="666" y="732" width="3" height="1" fill="#b4b4b4"/>
<rect x="672" y="732" width="3" height="1" fill="#b4b4b4"/>
<rect x="678" y="732" width="3" height="1" fill="#b4b4b4"/>
<rect x="684" y="732" width="3" height="1" fill="#b4b4b4"/>
<rect x="690" y="732" width="3" height="1" fill="#b4b4b4"/>
<rect x="696" y="732" width="3" height="1" fill="#b4b4b4"/>
<rect x="702" y="732" width="3" height="1" fill="#b4b4b4"/>
<rect x="708" y="732" width="3" height="1" fill="#b4b4b4"/>
<rect x="714" y="732" width="3" height="1" fill="#b4b4b4"/>
<rect x="720" y="732" width="3" height="1" fill="#b4b4b4"/>
<rect x="726" y="732" width="3" height="1" fill="#b4b4b4"/>
<rect x="732" y="732" width="3" height="1" fill="#b4b4b4"/>
<rect x="738" y="732" width="3" height="1" fill="#b4b4b4"/>
<rect x="744" y="732" width="3" height="1" fill="#b4b4b4"/>
<rect x="750" y="732" width="3" height="1" fill="#b4b4b4"/>
<rect x="756" y="732" width="3" height="1" fill="#b4b4b4"/>
<rect x="762" y="732" width="3" height="1" fill="#b4b4b4"/>
<rect x="768" y="732" width="3" height="1" fill="#b4b4b4"/>
<rect x="774" y="732" width="3" height="1" fill="#b4b4b4"/>
<rect x="780" y="732" width="3" height="1" fill="#b4b4b4"/>
<rect x="786" y="732" width="3" height="1" fill="#b4b4b4"/>
<rect x="792" y="732" width="3" height="1" fill="#b4b4b4"/>
<rect x="798" y="732" width="3" height="1" fill="#b4b4b4"/>
<rect x="804" y="732" width="3" height="1" fill="#b4b4b4"/>
<rect x="810" y="732" width="3" height="1" fill="#b4b4b4"/>
<rect x="816" y="732" width="3" height="1" fill="#b4b4b4"/>
<rect x="822" y="732" width="3" height="1" fill="#b4b4b4"/>
<rect x="828" y="732" width="3" height="1" fill="#b4b4b4"/>
<rect x="834" y="732" width="3" height="1" fill="#b4b4b4"/>
<rect x="840" y="732" width="3" height="1" fill="#b4b4b4"/>
<rect x="846" y="732" width="3" height="1" fill="#b4b4b4"/>
<rect x="852" y="732" width="3" height="1" fill="#b4b4b4"/>
<rect x="858" y="732" width="3" height="1" fill="#b4b4b4"/>
<rect x="864" y="732" width="3" height="1" fill="#b4b4b4"/>
<rect x="870" y="732" width="3" height="1" fill="#b4b4b4"/>
<rect x="876" y="732" width="3" height="1" fill="#b4b4b4"/>
<rect x="882" y="732" width="3" height="1" fill="#b4b4b4"/>
<rect x="888" y="732" width="3" height="1" fill="#b4b4b4"/>
<rect x="894" y="732" width="3" height="1" fill="#b4b4b4"/>
<rect x="900" y="732" width="3" height="1" fill="#b4b4b4"/>
<rect x="906" y="732" width="3" height="1" fill="#b4b4b4"/>
<rect x="912" y="732" width="3" height="1" fill="#b4b4b4"/>
<rect x="918" y="732" width="3" height="1" fill="#b4b4b4"/>
<rect x="924" y="732" width="3" height="1" fill="#b4b4b4"/>
<rect x="930" y="732" width="3" height="1" fill="#b4b4b4"/>
<rect x="936" y="732" width="3" height="1" fill="#b4b4b4"/>
<rect x="942" y="732" width="3" height="1" fill="#b4b4b4"/>
<rect x="948" y="732" width="3" height="1" fill="#b4b4b4"/>
<rect x="954" y="732" width="3" height="1" fill="#b4b4b4"/>
<rect x="960" y="732" width="3" height="1" fill="#b4b4b4"/>
<rect x="966" y="732" width="3" height="1" fill="#b4b4b4"/>
<rect x="972" y="732" width="3" height="1" fill="#b4b4b4"/>
<rect x="978" y="732" width="3" height="1" fill="#b4b4b4"/>
<rect x="984" y="732" width="3" height="1" fill="#b4b4b4"/>
<rect x="990" y="732" width="3" height="1" fill="#b4b4b4"/>
<rect x="996" y="732" width="3" height="1" fill="#b4b4b4"/>
<rect x="1002" y="732" width="3" height="1" fill="#b4b4b4"/>
<rect x="1008" y="732" width="3" height="1" fill="#b4b4b4"/>
<rect x="1014" y="732" width="3" height="1" fill="#b4b4b4"/>
<rect x="1020" y="732" width="3" height="1" fill="#b4b4b4"/>
<rect x="1026" y="732" width="3" height="1" fill="#b4b4b4"/>
<rect x="1032" y="732" width="3" height="1" fill="#b4b4b4"/>
<rect x="1038" y="732" width="3" height="1" fill="#b4b4b4"/>
<rect x="1044" y="732" width="3" height="1" fill="#b4b4b4"/>
<rect x="1050" y="732" width="3" height="1" fill="#b4b4b4"/>
<rect x="1056" y="732" width="3" height="1" fill="#b4b4b4"/>
<rect x="1062" y="732" width="3" height="1" fill="#b4b4b4"/>
<rect x="1068" y="732" width="3" height="1" fill="#b4b4b4"/>
<rect x="1074" y="732" width="3" height="1" fill="#b4b4b4"/>
<rect x="1080" y="732" width="3" height="1" fill="#b4b4b4"/>
<rect x="1086" y="732" width="3" height="1" fill="#b4b4b4"/>
<rect x="1092" y="732" width="3" height="1" fill="#b4b4b4"/>
<rect x="1098" y="732" width="3" height="1" fill="#b4b4b4"/>
<rect x="1104" y="732" width="3" height="1" fill="#b4b4b4"/>
<rect x="1110" y="732" width="3" height="1" fill="#b4b4b4"/>
<rect x="1116" y="732" width="3" height="1" fill="#b4b4b4"/>
<rect x="1122" y="732" width="3" height="1" fill="#b4b4b4"/>
<rect x="1128" y="732" width="3" height="1" fill="#b4b4b4"/>
<rect x="1134" y="732" width="3" height="1" fill="#b4b4b4"/>
<rect x="1140" y="732" width="3" height="1" fill="#b4b4b4"/>
<rect x="1146" y="732" width="3" height="1" fill="#b4b4b4"/>
<rect x="1152" y="732" width="3" height="1" fill="#b4b4b4"/>
<rect x="1158" y="732" width="3" height="1" fill="#b4b4b4"/>
<rect x="1164" y="732" width="3" height="1" fill="#b4b4b4"/>
<rect x="1170" y="732" width="3" height="1" fill="#b4b4b4"/>
<rect x="1176" y="732" width="3" height="1" fill="#b4b4b4"/>
<rect x="1182" y="732" width="3" height="1" fill="#b4b4b4"/>
<rect x="1188" y="732" width="3" height="1" fill="#b4b4b4"/>
<rect x="1194" y="732" width="3" height="1" fill="#b4b4b4"/>
<rect x="1200" y="732" width="3" height="1" fill="#b4b4b4"/>
<rect x="1206" y="732" width="3" height="1" fill="#b4b4b4"/>
<rect x="1212" y="732" width="3" height="1" fill="#b4b4b4"/>
<rect x="1218" y="732" width="3" height="1" fill="#b4b4b4"/>
<rect x="1224" y="732" width="3" height="1" fill="#b4b4b4"/>
<rect x="1230" y="732" width="3" height="1" fill="#b4b4b4"/>
<rect x="1236" y="732" width="3" height="1" fill="#b4b4b4"/>
<rect x="1242" y="732" width="3" height="1" fill="#b4b4b4"/>
<rect x="1248" y="732" width="3" height="1" fill="#b4b4b4"/>
<rect x="1254" y="732" width="3" height="1" fill="#b4b4b4"/>
<rect x="1260" y="732" width="3" height="1" fill="#b4b4b4"/>
<rect x="1266" y="732" width="3" height="1" fill="#b4b4b4"/>
<rect x="1272" y="732" width="3" height="1" fill="#b4b4b4"/>
<rect x="1278" y="732" width="3" height="1" fill="#b4b4b4"/>
<rect x="1284" y="732" width="3" height="1" fill="#b4b4b4"/>
<rect x="1290" y="732" width="3" height="1" fill="#b4b4b4"/>
<rect x="1296" y="732" width="3" height="1" fill="#b4b4b4"/>
<rect x="1302" y="732" width="3" height="1" fill="#b4b4b4"/>
<rect x="1308" y="732" width="3" height="1" fill="#b4b4b4"/>
<rect x="1314" y="732" width="3" height="1" fill="#b4b4b4"/>
<rect x="1320" y="732" width="3" height="1" fill="#b4b4b4"/>
<rect x="1326" y="732" width="3" height="1" fill="#b4b4b4"/>
<rect x="1332" y="732" width="3" height="1" fill="#b4b4b4"/>
<rect x="1338" y="732" width="3" height="1" fill="#b4b4b4"/>
<rect x="1344" y="732" width="3" height="1" fill="#b4b4b4"/>
<rect x="1350" y="732" width="3" height="1" fill="#b4b4b4"/>
<rect x="1356" y="732" width="3" height="1" fill="#b4b4b4"/>
<rect x="1362" y="732" width="3" height="1" fill="#b4b4b4"/>
<rect x="1368" y="732" width="3" height="1" fill="#b4b4b4"/>
<rect x="1374" y="732" width="3" height="1" fill="#b4b4b4"/>
<rect x="1380" y="732" width="3" height="1" fill="#b4b4b4"/>
<rect x="1386" y="732" width="3" height="1" fill="#b4b4b4"/>
<rect x="1392" y="732" width="3" height="1" fill="#b4b4b4"/>
<rect x="1398" y="732" width="3" height="1" fill="#b4b4b4"/>
<rect x="1404" y="732" width="3" height="1" fill="#b4b4b4"/>
<rect x="1410" y="732" width="3" height="1" fill="#b4b4b4"/>
<rect x="1416" y="732" width="3" height="1" fill="#b4b4b4"/>
<rect x="1422" y="732" width="3" height="1" fill="#b4b4b4"/>
<rect x="1428" y="732" width="3" height="1" fill="#b4b4b4"/>
<rect x="1434" y="732" width="3" height="1" fill="#b4b4b4"/>
<rect x="1440" y="732" width="3" height="1" fill="#b4b4b4"/>
<rect x="1446" y="732" width="3" height="1" fill="#b4b4b4"/>
<rect x="1452" y="732" width="3" height="1" fill="#b4b4b4"/>
<rect x="1458" y="732" width="3" height="1" fill="#b4b4b4"/>
<rect x="1464" y="732" width="3" height="1" fill="#b4b4b4"/>
<rect x="1470" y="732" width="3" height="1" fill="#b4b4b4"/>
<rect x="1476" y="732" width="3" height="1" fill="#b4b4b4"/>
<rect x="1482" y="732" width="3" height="1" fill="#b4b4b4"/>
<rect x="1488" y="732" width="3" height="1" fill="#b4b4b4"/>
<rect x="1494" y="732" width="3" height="1" fill="#b4b4b4"/>
<rect x="1500" y="732" width="3" height="1" fill="#b4b4b4"/>
<rect x="1506" y="732" width="3" height="1" fill="#b4b4b4"/>
<rect x="1512" y="732" width="3" height="1" fill="#b4b4b4"/>
<rect x="1518" y="732" width="3" height="1" fill="#b4b4b4"/>
<rect x="1524" y="732" width="3" height="1" fill="#b4b4b4"/>
<rect x="1530" y="732" width="3" height="1" fill="#b4b4b4"/>
<rect x="1536" y="732" width="3" height="1" fill="#b4b4b4"/>
<rect x="1542" y="732" width="3" height="1" fill="#b4b4b4"/>
<rect x="1548" y="732" width="3" height="1" fill="#b4b4b4"/>
<rect x="1554" y="732" width="3" height="1" fill="#b4b4b4"/>
<rect x="1560" y="732" width="3" height="1" fill="#b4b4b4"/>
<rect x="1566" y="732" width="3" height="1" fill="#b4b4b4"/>
<rect x="1572" y="732" width="3" height="1" fill="#b4b4b4"/>
<rect x="1578" y="732" width="3" height="1" fill="#b4b4b4"/>
<rect x="1584" y="732" width="3" height="1" fill="#b4b4b4"/>
<rect x="1590" y="732" width="3" height="1" fill="#b4b4b4"/>
<rect x="1596" y="732" width="3" height="1" fill="#b4b4b4"/>
<rect x="1602" y="732" width="3" height="1" fill="#b4b4b4"/>
<rect x="1608" y="732" width="3" height="1" fill="#b4b4b4"/>
<rect x="1614" y="732" width="3" height="1" fill="#b4b4b4"/>
<rect x="1620" y="732" width="3" height="1" fill="#b4b4b4"/>
<rect x="1626" y="732" width="3" height="1" fill="#b4b4b4"/>
<rect x="1632" y="732" width="3" height="1" fill="#b4b4b4"/>
<rect x="1638" y="732" width="3" height="1" fill="#b4b4b4"/>
<rect x="1644" y="732" width="3" height="1" fill="#b4b4b4"/>
<rect x="1650" y="732" width="3" height="1" fill="#b4b4b4"/>
<rect x="1656" y="732" width="3" height="1" fill="#b4b4b4"/>
<rect x="1662" y="732" width="3" height="1" fill="#b4b4b4"/>
<rect x="1668" y="732" width="3" height="1" fill="#b4b4b4"/>
<rect x="1674" y="732" width="3" height="1" fill="#b4b4b4"/>
<rect x="1680" y="732" width="3" height="1" fill="#b4b4b4"/>
<rect x="1686" y="732" width="3" height="1" fill="#b4b4b4"/>
<path d="M1153 677h5v1h-5zM1473 677h13v1h-13zM1149 678h4v1h-4zM1158 678h1v1h-1zM1468 678h5v1h-5zM1485 678h1v1h-1zM1148 679h1v1h-1zM1158 679h1v1h-1zM1465 679h3v1h-3zM1486 679h1v1h-1zM1147 680h1v1h-1zM1159 680h1v1h-1zM1273 680h5v1h-5zM1452 680h5v1h-5zM1463 680h2v1h-2zM1486 680h1v1h-1zM1145 681h2v1h-2zM1159 681h1v1h-1zM1265 681h8v1h-8zM1278 681h1v1h-1zM1449 681h3v1h-3zM1457 681h6v1h-6zM1487 681h1v1h-1zM269 682h1v1h-1zM1144 682h1v1h-1zM1160 682h1v1h-1zM1257 682h8v1h-8zM1278 682h1v1h-1zM1447 682h2v1h-2zM1487 682h1v1h-1zM267 683h2v1h-2zM270 683h2v1h-2zM1143 683h1v1h-1zM1160 683h1v1h-1zM1249 683h8v1h-8zM1279 683h1v1h-1zM1445 683h2v1h-2zM1488 683h1v1h-1zM265 684h2v1h-2zM272 684h2v1h-2zM748 684h2v1h-2zM1142 684h1v1h-1zM1161 684h1v1h-1zM1243 684h6v1h-6zM1280 684h1v1h-1zM1443 684h2v1h-2zM1488 684h1v1h-1zM264 685h1v1h-1zM274 685h2v1h-2zM705 685h6v1h-6zM745 685h3v1h-3zM750 685h1v1h-1zM1037 685h1v1h-1zM1140 685h2v1h-2zM1162 685h1v1h-1zM1197 685h4v1h-4zM1239 685h4v1h-4zM1280 685h1v1h-1zM1420 685h2v1h-2zM1442 685h1v1h-1zM1489 685h1v1h-1zM1541 685h9v1h-9zM262 686h2v1h-2zM276 686h2v1h-2zM701 686h4v1h-4zM711 686h4v1h-4zM743 686h2v1h-2zM751 686h1v1h-1zM804 686h3v1h-3zM1036 686h1v1h-1zM1038 686h1v1h-1zM1100 686h5v1h-5zM1137 686h3v1h-3zM1162 686h1v1h-1zM1196 686h1v1h-1zM1201 686h6v1h-6zM1235 686h4v1h-4zM1281 686h1v1h-1zM1418 686h2v1h-2zM1422 686h2v1h-2zM1441 686h1v1h-1zM1489 686h1v1h-1zM1540 686h1v1h-1zM1549 686h1v1h-1zM261 687h1v1h-1zM278 687h2v1h-2zM700 687h1v1h-1zM715 687h3v1h-3zM740 687h3v1h-3zM752 687h1v1h-1zM802 687h2v1h-2zM807 687h4v1h-4zM1035 687h1v1h-1zM1038 687h1v1h-1zM1098 687h2v1h-2zM1105 687h5v1h-5zM1135 687h2v1h-2zM1163 687h1v1h-1zM1195 687h1v1h-1zM1207 687h4v1h-4zM1231 687h4v1h-4zM1282 687h1v1h-1zM1416 687h2v1h-2zM1424 687h2v1h-2zM1439 687h2v1h-2zM1490 687h1v1h-1zM1539 687h1v1h-1zM1550 687h1v1h-1zM260 688h1v1h-1zM280 688h2v1h-2zM291 688h11v1h-11zM453 688h1v1h-1zM700 688h1v1h-1zM718 688h2v1h-2zM737 688h3v1h-3zM753 688h1v1h-1zM800 688h2v1h-2zM811 688h4v1h-4zM1033 688h2v1h-2zM1039 688h1v1h-1zM1053 688h1v1h-1zM1096 688h2v1h-2zM1110 688h2v1h-2zM1129 688h6v1h-6zM1163 688h1v1h-1zM1194 688h1v1h-1zM1211 688h20v1h-20zM1282 688h1v1h-1zM1414 688h2v1h-2zM1426 688h2v1h-2zM1438 688h1v1h-1zM1490 688h1v1h-1zM1537 688h2v1h-2zM1550 688h1v1h-1zM260 689h1v1h-1zM282 689h2v1h-2zM287 689h4v1h-4zM302 689h1v1h-1zM451 689h3v1h-3zM699 689h1v1h-1zM720 689h2v1h-2zM735 689h2v1h-2zM754 689h1v1h-1zM798 689h2v1h-2zM815 689h2v1h-2zM1013 689h2v1h-2zM1032 689h1v1h-1zM1040 689h1v1h-1zM1052 689h1v1h-1zM1054 689h1v1h-1zM1094 689h2v1h-2zM1112 689h2v1h-2zM1123 689h6v1h-6zM1164 689h1v1h-1zM1193 689h1v1h-1zM1283 689h1v1h-1zM1411 689h3v1h-3zM1428 689h10v1h-10zM1491 689h1v1h-1zM1523 689h4v1h-4zM1536 689h1v1h-1zM1551 689h1v1h-1zM5 690h1v1h-1zM259 690h1v1h-1zM284 690h3v1h-3zM303 690h1v1h-1zM421 690h1v1h-1zM450 690h1v1h-1zM454 690h1v1h-1zM699 690h1v1h-1zM722 690h2v1h-2zM729 690h6v1h-6zM755 690h1v1h-1zM797 690h1v1h-1zM817 690h3v1h-3zM1011 690h2v1h-2zM1015 690h2v1h-2zM1031 690h1v1h-1zM1040 690h1v1h-1zM1051 690h1v1h-1zM1055 690h2v1h-2zM1089 690h5v1h-5zM1114 690h2v1h-2zM1119 690h4v1h-4zM1164 690h1v1h-1zM1193 690h1v1h-1zM1284 690h1v1h-1zM1407 690h4v1h-4zM1491 690h1v1h-1zM1500 690h3v1h-3zM1519 690h4v1h-4zM1527 690h2v1h-2zM1535 690h1v1h-1zM1551 690h1v1h-1zM6 691h2v1h-2zM259 691h1v1h-1zM304 691h1v1h-1zM420 691h1v1h-1zM422 691h2v1h-2zM449 691h1v1h-1zM454 691h1v1h-1zM698 691h1v1h-1zM724 691h5v1h-5zM756 691h1v1h-1zM796 691h1v1h-1zM820 691h3v1h-3zM905 691h5v1h-5zM1009 691h2v1h-2zM1017 691h3v1h-3zM1030 691h1v1h-1zM1041 691h1v1h-1zM1050 691h1v1h-1zM1057 691h1v1h-1zM1083 691h6v1h-6zM1116 691h3v1h-3zM1165 691h2v1h-2zM1192 691h1v1h-1zM1284 691h1v1h-1zM1403 691h4v1h-4zM1492 691h1v1h-1zM1498 691h2v1h-2zM1503 691h4v1h-4zM1513 691h6v1h-6zM1529 691h3v1h-3zM1534 691h1v1h-1zM1552 691h1v1h-1zM8 692h1v1h-1zM258 692h1v1h-1zM305 692h1v1h-1zM419 692h1v1h-1zM424 692h1v1h-1zM447 692h2v1h-2zM455 692h1v1h-1zM698 692h1v1h-1zM757 692h2v1h-2zM795 692h1v1h-1zM823 692h4v1h-4zM833 692h5v1h-5zM901 692h4v1h-4zM910 692h2v1h-2zM1008 692h1v1h-1zM1020 692h10v1h-10zM1042 692h1v1h-1zM1049 692h1v1h-1zM1058 692h1v1h-1zM1079 692h4v1h-4zM1167 692h4v1h-4zM1191 692h1v1h-1zM1285 692h1v1h-1zM1399 692h4v1h-4zM1492 692h1v1h-1zM1496 692h2v1h-2zM1507 692h6v1h-6zM1532 692h2v1h-2zM1552 692h1v1h-1zM9 693h2v1h-2zM100 693h2v1h-2zM258 693h1v1h-1zM305 693h1v1h-1zM417 693h2v1h-2zM425 693h2v1h-2zM446 693h1v1h-1zM455 693h1v1h-1zM697 693h1v1h-1zM759 693h4v1h-4zM794 693h1v1h-1zM827 693h6v1h-6zM838 693h1v1h-1zM900 693h1v1h-1zM912 693h1v1h-1zM1006 693h2v1h-2zM1042 693h1v1h-1zM1049 693h1v1h-1zM1059 693h2v1h-2zM1075 693h4v1h-4zM1171 693h6v1h-6zM1190 693h1v1h-1zM1285 693h1v1h-1zM1397 693h2v1h-2zM1493 693h3v1h-3zM1553 693h1v1h-1zM11 694h2v1h-2zM73 694h8v1h-8zM97 694h3v1h-3zM102 694h1v1h-1zM257 694h1v1h-1zM306 694h1v1h-1zM416 694h1v1h-1zM427 694h2v1h-2zM443 694h3v1h-3zM456 694h1v1h-1zM697 694h1v1h-1zM763 694h4v1h-4zM793 694h1v1h-1zM839 694h1v1h-1zM857 694h6v1h-6zM899 694h1v1h-1zM913 694h2v1h-2zM997 694h9v1h-9zM1043 694h1v1h-1zM1048 694h1v1h-1zM1061 694h4v1h-4zM1071 694h4v1h-4zM1177 694h13v1h-13zM1286 694h1v1h-1zM1396 694h1v1h-1zM1493 694h1v1h-1zM1553 694h1v1h-1zM13 695h1v1h-1zM69 695h4v1h-4zM81 695h8v1h-8zM95 695h2v1h-2zM103 695h1v1h-1zM256 695h1v1h-1zM307 695h1v1h-1zM415 695h1v1h-1zM429 695h4v1h-4zM439 695h4v1h-4zM456 695h1v1h-1zM696 695h1v1h-1zM767 695h2v1h-2zM779 695h3v1h-3zM793 695h1v1h-1zM840 695h1v1h-1zM853 695h4v1h-4zM863 695h2v1h-2zM881 695h5v1h-5zM898 695h1v1h-1zM915 695h2v1h-2zM995 695h2v1h-2zM1044 695h1v1h-1zM1047 695h1v1h-1zM1065 695h6v1h-6zM1286 695h1v1h-1zM1395 695h1v1h-1zM1554 695h1v1h-1zM14 696h1v1h-1zM68 696h1v1h-1zM89 696h6v1h-6zM104 696h1v1h-1zM256 696h1v1h-1zM308 696h1v1h-1zM313 696h8v1h-8zM329 696h6v1h-6zM347 696h3v1h-3zM414 696h1v1h-1zM433 696h6v1h-6zM457 696h1v1h-1zM696 696h1v1h-1zM769 696h3v1h-3zM775 696h4v1h-4zM782 696h2v1h-2zM792 696h1v1h-1zM841 696h1v1h-1zM851 696h2v1h-2zM865 696h3v1h-3zM873 696h8v1h-8zM886 696h2v1h-2zM897 696h1v1h-1zM917 696h1v1h-1zM993 696h2v1h-2zM1044 696h1v1h-1zM1046 696h1v1h-1zM1286 696h1v1h-1zM1394 696h1v1h-1zM1554 696h1v1h-1zM14 697h1v1h-1zM67 697h1v1h-1zM105 697h1v1h-1zM255 697h1v1h-1zM309 697h4v1h-4zM321 697h8v1h-8zM335 697h4v1h-4zM343 697h4v1h-4zM350 697h1v1h-1zM372 697h3v1h-3zM404 697h10v1h-10zM457 697h1v1h-1zM695 697h1v1h-1zM772 697h3v1h-3zM784 697h2v1h-2zM791 697h1v1h-1zM841 697h1v1h-1zM850 697h1v1h-1zM868 697h5v1h-5zM888 697h1v1h-1zM896 697h1v1h-1zM918 697h2v1h-2zM992 697h1v1h-1zM1045 697h1v1h-1zM1287 697h1v1h-1zM1393 697h1v1h-1zM1555 697h1v1h-1zM15 698h1v1h-1zM66 698h1v1h-1zM106 698h1v1h-1zM221 698h2v1h-2zM255 698h1v1h-1zM339 698h4v1h-4zM351 698h1v1h-1zM370 698h2v1h-2zM375 698h2v1h-2zM402 698h2v1h-2zM458 698h1v1h-1zM695 698h1v1h-1zM786 698h2v1h-2zM790 698h1v1h-1zM842 698h1v1h-1zM849 698h1v1h-1zM889 698h2v1h-2zM895 698h1v1h-1zM920 698h1v1h-1zM990 698h2v1h-2zM1287 698h1v1h-1zM1393 698h1v1h-1zM1555 698h1v1h-1zM15 699h1v1h-1zM65 699h1v1h-1zM107 699h1v1h-1zM220 699h1v1h-1zM223 699h2v1h-2zM254 699h1v1h-1zM352 699h1v1h-1zM368 699h2v1h-2zM377 699h3v1h-3zM400 699h2v1h-2zM458 699h1v1h-1zM694 699h1v1h-1zM788 699h2v1h-2zM843 699h1v1h-1zM847 699h2v1h-2zM891 699h2v1h-2zM894 699h1v1h-1zM921 699h2v1h-2zM988 699h2v1h-2zM1287 699h1v1h-1zM1392 699h1v1h-1zM1556 699h1v1h-1zM16 700h1v1h-1zM64 700h1v1h-1zM108 700h1v1h-1zM219 700h1v1h-1zM225 700h3v1h-3zM254 700h1v1h-1zM353 700h1v1h-1zM366 700h2v1h-2zM380 700h13v1h-13zM398 700h2v1h-2zM459 700h1v1h-1zM517 700h1v1h-1zM694 700h1v1h-1zM844 700h1v1h-1zM846 700h1v1h-1zM893 700h1v1h-1zM923 700h2v1h-2zM929 700h8v1h-8zM986 700h2v1h-2zM1287 700h1v1h-1zM1391 700h1v1h-1zM1556 700h1v1h-1zM16 701h1v1h-1zM63 701h1v1h-1zM109 701h1v1h-1zM218 701h1v1h-1zM228 701h3v1h-3zM243 701h11v1h-11zM354 701h1v1h-1zM364 701h2v1h-2zM393 701h5v1h-5zM459 701h1v1h-1zM516 701h1v1h-1zM518 701h2v1h-2zM693 701h1v1h-1zM845 701h1v1h-1zM925 701h4v1h-4zM937 701h5v1h-5zM957 701h10v1h-10zM984 701h2v1h-2zM1288 701h1v1h-1zM1390 701h1v1h-1zM1557 701h1v1h-1zM1561 701h13v1h-13zM17 702h1v1h-1zM62 702h1v1h-1zM110 702h2v1h-2zM217 702h1v1h-1zM231 702h4v1h-4zM239 702h4v1h-4zM355 702h1v1h-1zM361 702h3v1h-3zM460 702h1v1h-1zM515 702h1v1h-1zM520 702h2v1h-2zM692 702h1v1h-1zM942 702h1v1h-1zM956 702h1v1h-1zM967 702h4v1h-4zM982 702h2v1h-2zM1288 702h1v1h-1zM1357 702h2v1h-2zM1387 702h3v1h-3zM1557 702h4v1h-4zM1574 702h2v1h-2zM17 703h1v1h-1zM61 703h1v1h-1zM112 703h2v1h-2zM217 703h1v1h-1zM235 703h4v1h-4zM356 703h1v1h-1zM359 703h2v1h-2zM460 703h1v1h-1zM515 703h1v1h-1zM522 703h2v1h-2zM540 703h3v1h-3zM692 703h1v1h-1zM942 703h1v1h-1zM956 703h1v1h-1zM971 703h11v1h-11zM1288 703h1v1h-1zM1356 703h1v1h-1zM1359 703h4v1h-4zM1383 703h4v1h-4zM1576 703h2v1h-2zM18 704h1v1h-1zM60 704h1v1h-1zM114 704h2v1h-2zM216 704h1v1h-1zM357 704h2v1h-2zM461 704h1v1h-1zM465 704h6v1h-6zM514 704h1v1h-1zM524 704h3v1h-3zM537 704h3v1h-3zM543 704h4v1h-4zM691 704h1v1h-1zM943 704h1v1h-1zM955 704h1v1h-1zM1289 704h1v1h-1zM1356 704h1v1h-1zM1363 704h4v1h-4zM1379 704h4v1h-4zM1578 704h2v1h-2zM1585 704h5v1h-5zM18 705h1v1h-1zM60 705h1v1h-1zM116 705h2v1h-2zM215 705h1v1h-1zM461 705h4v1h-4zM471 705h4v1h-4zM501 705h1v1h-1zM513 705h1v1h-1zM527 705h4v1h-4zM535 705h2v1h-2zM547 705h3v1h-3zM690 705h1v1h-1zM944 705h1v1h-1zM954 705h1v1h-1zM1289 705h1v1h-1zM1355 705h1v1h-1zM1367 705h4v1h-4zM1375 705h4v1h-4zM1580 705h5v1h-5zM1590 705h1v1h-1zM19 706h1v1h-1zM59 706h1v1h-1zM118 706h1v1h-1zM214 706h1v1h-1zM475 706h4v1h-4zM500 706h1v1h-1zM502 706h2v1h-2zM512 706h1v1h-1zM531 706h4v1h-4zM549 706h1v1h-1zM690 706h1v1h-1zM944 706h1v1h-1zM954 706h1v1h-1zM1289 706h1v1h-1zM1354 706h1v1h-1zM1371 706h4v1h-4zM1591 706h1v1h-1zM19 707h1v1h-1zM33 707h8v1h-8zM58 707h1v1h-1zM119 707h2v1h-2zM213 707h1v1h-1zM479 707h4v1h-4zM499 707h1v1h-1zM504 707h1v1h-1zM511 707h1v1h-1zM550 707h1v1h-1zM689 707h1v1h-1zM945 707h1v1h-1zM953 707h1v1h-1zM1290 707h1v1h-1zM1353 707h1v1h-1zM1592 707h1v1h-1zM20 708h1v1h-1zM28 708h5v1h-5zM41 708h5v1h-5zM58 708h1v1h-1zM121 708h1v1h-1zM213 708h1v1h-1zM483 708h3v1h-3zM497 708h2v1h-2zM505 708h2v1h-2zM511 708h1v1h-1zM550 708h1v1h-1zM688 708h1v1h-1zM946 708h1v1h-1zM952 708h1v1h-1zM1290 708h1v1h-1zM1341 708h1v1h-1zM1353 708h1v1h-1zM1593 708h2v1h-2zM20 709h1v1h-1zM25 709h3v1h-3zM46 709h1v1h-1zM57 709h1v1h-1zM122 709h1v1h-1zM212 709h1v1h-1zM486 709h2v1h-2zM496 709h1v1h-1zM507 709h2v1h-2zM510 709h1v1h-1zM550 709h1v1h-1zM688 709h1v1h-1zM946 709h1v1h-1zM952 709h1v1h-1zM1290 709h1v1h-1zM1316 709h2v1h-2zM1340 709h1v1h-1zM1342 709h2v1h-2zM1352 709h1v1h-1zM1595 709h1v1h-1zM1637 709h1v1h-1zM21 710h1v1h-1zM23 710h2v1h-2zM47 710h1v1h-1zM56 710h1v1h-1zM123 710h2v1h-2zM212 710h1v1h-1zM488 710h2v1h-2zM495 710h1v1h-1zM509 710h1v1h-1zM550 710h1v1h-1zM675 710h4v1h-4zM687 710h1v1h-1zM947 710h1v1h-1zM951 710h1v1h-1zM1291 710h1v1h-1zM1313 710h3v1h-3zM1318 710h1v1h-1zM1339 710h1v1h-1zM1344 710h1v1h-1zM1351 710h1v1h-1zM1596 710h1v1h-1zM1620 710h2v1h-2zM1636 710h1v1h-1zM1638 710h2v1h-2zM21 711h2v1h-2zM48 711h1v1h-1zM56 711h1v1h-1zM125 711h4v1h-4zM211 711h1v1h-1zM490 711h2v1h-2zM494 711h1v1h-1zM551 711h1v1h-1zM671 711h4v1h-4zM679 711h2v1h-2zM686 711h1v1h-1zM948 711h1v1h-1zM950 711h1v1h-1zM1291 711h1v1h-1zM1311 711h2v1h-2zM1319 711h2v1h-2zM1338 711h1v1h-1zM1345 711h2v1h-2zM1350 711h1v1h-1zM1597 711h1v1h-1zM1618 711h2v1h-2zM1622 711h1v1h-1zM1635 711h1v1h-1zM1640 711h1v1h-1zM49 712h2v1h-2zM55 712h1v1h-1zM129 712h8v1h-8zM211 712h1v1h-1zM492 712h2v1h-2zM551 712h1v1h-1zM668 712h3v1h-3zM681 712h3v1h-3zM686 712h1v1h-1zM948 712h1v1h-1zM950 712h1v1h-1zM1291 712h1v1h-1zM1301 712h10v1h-10zM1321 712h1v1h-1zM1337 712h1v1h-1zM1347 712h2v1h-2zM1350 712h1v1h-1zM1598 712h1v1h-1zM1616 712h2v1h-2zM1623 712h2v1h-2zM1633 712h2v1h-2zM1641 712h2v1h-2zM1651 712h6v1h-6zM51 713h1v1h-1zM54 713h1v1h-1zM137 713h6v1h-6zM211 713h1v1h-1zM551 713h1v1h-1zM665 713h3v1h-3zM684 713h2v1h-2zM949 713h1v1h-1zM1291 713h1v1h-1zM1299 713h2v1h-2zM1322 713h1v1h-1zM1337 713h1v1h-1zM1349 713h1v1h-1zM1599 713h1v1h-1zM1614 713h2v1h-2zM1625 713h1v1h-1zM1632 713h1v1h-1zM1643 713h2v1h-2zM1647 713h4v1h-4zM1657 713h13v1h-13zM52 714h1v1h-1zM54 714h1v1h-1zM143 714h4v1h-4zM210 714h1v1h-1zM551 714h1v1h-1zM663 714h2v1h-2zM1292 714h1v1h-1zM1298 714h1v1h-1zM1323 714h2v1h-2zM1336 714h1v1h-1zM1600 714h1v1h-1zM1612 714h2v1h-2zM1626 714h1v1h-1zM1631 714h1v1h-1zM1645 714h2v1h-2zM53 715h1v1h-1zM147 715h3v1h-3zM210 715h1v1h-1zM552 715h1v1h-1zM661 715h2v1h-2zM1292 715h1v1h-1zM1297 715h1v1h-1zM1325 715h2v1h-2zM1335 715h1v1h-1zM1601 715h2v1h-2zM1610 715h2v1h-2zM1627 715h2v1h-2zM1630 715h1v1h-1zM150 716h2v1h-2zM209 716h1v1h-1zM552 716h1v1h-1zM660 716h1v1h-1zM1292 716h1v1h-1zM1295 716h2v1h-2zM1327 716h4v1h-4zM1334 716h1v1h-1zM1603 716h1v1h-1zM1608 716h2v1h-2zM1629 716h1v1h-1zM152 717h1v1h-1zM209 717h1v1h-1zM552 717h1v1h-1zM659 717h1v1h-1zM1293 717h2v1h-2zM1331 717h3v1h-3zM1604 717h1v1h-1zM1606 717h2v1h-2zM153 718h2v1h-2zM209 718h1v1h-1zM553 718h1v1h-1zM597 718h1v1h-1zM659 718h1v1h-1zM1293 718h1v1h-1zM1605 718h1v1h-1zM155 719h2v1h-2zM208 719h1v1h-1zM553 719h1v1h-1zM596 719h1v1h-1zM598 719h1v1h-1zM633 719h6v1h-6zM658 719h1v1h-1zM157 720h1v1h-1zM208 720h1v1h-1zM553 720h1v1h-1zM595 720h1v1h-1zM599 720h2v1h-2zM627 720h6v1h-6zM639 720h2v1h-2zM657 720h1v1h-1zM158 721h1v1h-1zM207 721h1v1h-1zM553 721h1v1h-1zM594 721h1v1h-1zM601 721h1v1h-1zM623 721h4v1h-4zM641 721h3v1h-3zM656 721h1v1h-1zM158 722h1v1h-1zM207 722h1v1h-1zM554 722h1v1h-1zM593 722h1v1h-1zM602 722h1v1h-1zM611 722h12v1h-12zM644 722h3v1h-3zM655 722h1v1h-1zM159 723h1v1h-1zM207 723h1v1h-1zM554 723h1v1h-1zM593 723h1v1h-1zM603 723h2v1h-2zM607 723h4v1h-4zM647 723h2v1h-2zM655 723h1v1h-1zM160 724h1v1h-1zM206 724h1v1h-1zM554 724h1v1h-1zM592 724h1v1h-1zM605 724h2v1h-2zM649 724h3v1h-3zM654 724h1v1h-1zM161 725h1v1h-1zM206 725h1v1h-1zM555 725h1v1h-1zM591 725h1v1h-1zM652 725h2v1h-2zM161 726h1v1h-1zM205 726h1v1h-1zM555 726h1v1h-1zM581 726h4v1h-4zM590 726h1v1h-1zM162 727h1v1h-1zM205 727h1v1h-1zM555 727h1v1h-1zM579 727h2v1h-2zM585 727h5v1h-5zM163 728h1v1h-1zM204 728h1v1h-1zM555 728h1v1h-1zM577 728h2v1h-2zM164 729h1v1h-1zM203 729h1v1h-1zM556 729h1v1h-1zM576 729h1v1h-1zM164 730h1v1h-1zM202 730h1v1h-1zM556 730h1v1h-1zM574 730h2v1h-2zM165 731h1v1h-1zM201 731h1v1h-1zM556 731h1v1h-1zM573 731h1v1h-1zM166 732h2v1h-2zM201 732h1v1h-1zM556 732h1v1h-1zM572 732h1v1h-1zM168 733h1v1h-1zM200 733h1v1h-1zM557 733h1v1h-1zM571 733h1v1h-1zM169 734h2v1h-2zM199 734h1v1h-1zM557 734h1v1h-1zM570 734h1v1h-1zM171 735h2v1h-2zM198 735h1v1h-1zM558 735h2v1h-2zM569 735h1v1h-1zM173 736h25v1h-25zM560 736h1v1h-1zM568 736h1v1h-1zM561 737h2v1h-2zM567 737h1v1h-1zM563 738h2v1h-2zM566 738h1v1h-1zM565 739h1v1h-1z" fill="#1e90ff"/>
</g>
<text class="t9" transform="matrix(1 0 0 1.05 9 656)">RSI(14) 45.3420</text>
<text class="t9" transform="matrix(1 0 0 1.05 1694 654)">100</text>
<text class="t9" transform="matrix(1 0 0 1.05 1694 686)">70</text>
<text class="t9" transform="matrix(1 0 0 1.05 1694 736)">30</text>
<text class="t9" transform="matrix(1 0 0 1.05 1694 767)">0</text>
<rect x="5" y="771" width="1" height="3" fill="#000"/>
<text class="t9" transform="matrix(1 0 0 1.05 4.5 783)">14 Nov 2019</text>
<rect x="69" y="771" width="1" height="3" fill="#000"/>
<text class="t9" transform="matrix(1 0 0 1.05 68.5 783)">15 Nov 16:00</text>
<rect x="133" y="771" width="1" height="3" fill="#000"/>
<text class="t9" transform="matrix(1 0 0 1.05 132.5 783)">18 Nov 23:00</text>
<rect x="197" y="771" width="1" height="3" fill="#000"/>
<text class="t9" transform="matrix(1 0 0 1.05 196.5 783)">20 Nov 04:00</text>
<rect x="261" y="771" width="1" height="3" fill="#000"/>
<text class="t9" transform="matrix(1 0 0 1.05 260.5 783)">21 Nov 12:00</text>
<rect x="325" y="771" width="1" height="3" fill="#000"/>
<text class="t9" transform="matrix(1 0 0 1.05 324.5 783)">22 Nov 20:00</text>
<rect x="389" y="771" width="1" height="3" fill="#000"/>
<text class="t9" transform="matrix(1 0 0 1.05 388.5 783)">26 Nov 00:00</text>
<rect x="453" y="771" width="1" height="3" fill="#000"/>
<text class="t9" transform="matrix(1 0 0 1.05 452.5 783)">27 Nov 08:00</text>
<rect x="517" y="771" width="1" height="3" fill="#000"/>
<text class="t9" transform="matrix(1 0 0 1.05 516.5 783)">28 Nov 16:00</text>
<rect x="581" y="771" width="1" height="3" fill="#000"/>
<text class="t9" transform="matrix(1 0 0 1.05 580.5 783)">2 Dec 00:00</text>
<rect x="645" y="771" width="1" height="3" fill="#000"/>
<text class="t9" transform="matrix(1 0 0 1.05 644.5 783)">3 Dec 08:00</text>
<rect x="709" y="771" width="1" height="3" fill="#000"/>
<text class="t9" transform="matrix(1 0 0 1.05 708.5 783)">4 Dec 16:00</text>
<rect x="773" y="771" width="1" height="3" fill="#000"/>
<text class="t9" transform="matrix(1 0 0 1.05 772.5 783)">6 Dec 00:00</text>
<rect x="837" y="771" width="1" height="3" fill="#000"/>
<text class="t9" transform="matrix(1 0 0 1.05 836.5 783)">9 Dec 04:00</text>
<rect x="901" y="771" width="1" height="3" fill="#000"/>
<text class="t9" transform="matrix(1 0 0 1.05 900.5 783)">10 Dec 12:00</text>
<rect x="965" y="771" width="1" height="3" fill="#000"/>
<text class="t9" transform="matrix(1 0 0 1.05 964.5 783)">11 Dec 20:00</text>
<rect x="1029" y="771" width="1" height="3" fill="#000"/>
<text class="t9" transform="matrix(1 0 0 1.05 1028.5 783)">13 Dec 04:00</text>
<rect x="1093" y="771" width="1" height="3" fill="#000"/>
<text class="t9" transform="matrix(1 0 0 1.05 1092.5 783)">16 Dec 08:00</text>
<rect x="1157" y="771" width="1" height="3" fill="#000"/>
<text class="t9" transform="matrix(1 0 0 1.05 1156.5 783)">17 Dec 16:00</text>
<rect x="1221" y="771" width="1" height="3" fill="#000"/>
<text class="t9" transform="matrix(1 0 0 1.05 1220.5 783)">19 Dec 00:00</text>
<rect x="1285" y="771" width="1" height="3" fill="#000"/>
<text class="t9" transform="matrix(1 0 0 1.05 1284.5 783)">20 Dec 08:00</text>
<rect x="1349" y="771" width="1" height="3" fill="#000"/>
<text class="t9" transform="matrix(1 0 0 1.05 1348.5 783)">23 Dec 12:00</text>
<rect x="1413" y="771" width="1" height="3" fill="#000"/>
<text class="t9" transform="matrix(1 0 0 1.05 1412.5 783)">25 Dec 23:00</text>
<rect x="1477" y="771" width="1" height="3" fill="#000"/>
<text class="t9" transform="matrix(1 0 0 1.05 1476.5 783)">27 Dec 04:00</text>
<rect x="1541" y="771" width="1" height="3" fill="#000"/>
<text class="t9" transform="matrix(1 0 0 1.05 1540.5 783)">30 Dec 08:00</text>
<rect x="1605" y="771" width="1" height="3" fill="#000"/>
<text class="t9" transform="matrix(1 0 0 1.05 1604.5 783)">31 Dec 16:00</text>
<rect x="1669" y="771" width="1" height="3" fill="#000"/>
<text class="t9" transform="matrix(1 0 0 1.05 1668.5 783)">2 Jan 20:00</text>
</svg></body></html>
